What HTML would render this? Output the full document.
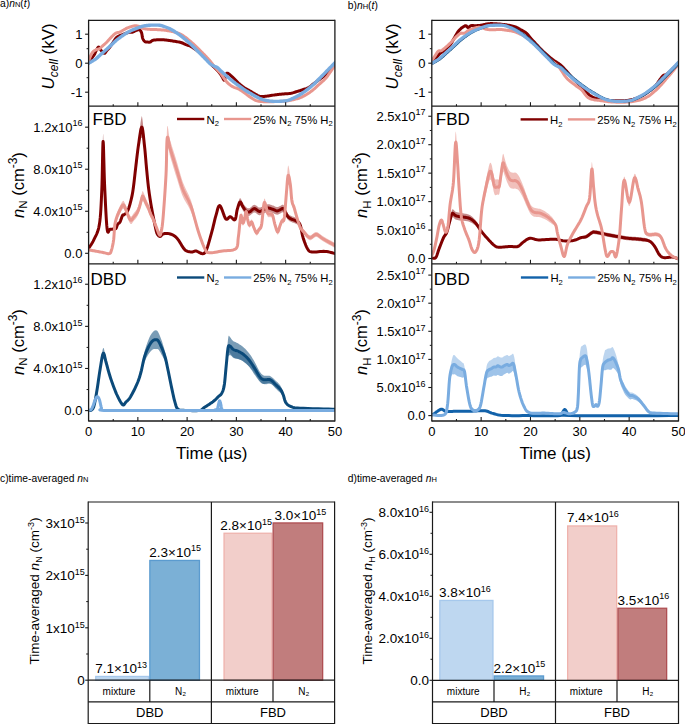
<!DOCTYPE html>
<html><head><meta charset="utf-8"><title>figure</title>
<style>html,body{margin:0;padding:0;background:#fff;width:685px;height:724px;overflow:hidden}
svg{display:block}text{fill:#000}</style></head>
<body>
<svg width="685" height="724" viewBox="0 0 685 724" font-family='"Liberation Sans", sans-serif'><defs>
<clipPath id="ca"><rect x="88.6" y="20.3" width="246.3" height="400.7"/></clipPath>
<clipPath id="cb"><rect x="431.8" y="20.3" width="246.7" height="400.7"/></clipPath>
</defs><path d="M88.3 63.2 L88.5 62.88 L88.77 62.45 L89.09 61.93 L89.45 61.36 L89.83 60.76 L90.23 60.15 L90.62 59.55 L91 59 L91.38 58.48 L91.79 57.96 L92.2 57.45 L92.62 56.94 L93.04 56.42 L93.45 55.89 L93.84 55.35 L94.2 54.8 L94.53 54.22 L94.84 53.6 L95.13 52.96 L95.41 52.32 L95.68 51.69 L95.95 51.08 L96.22 50.51 L96.5 50 L96.79 49.5 L97.07 48.99 L97.35 48.49 L97.64 48.03 L97.92 47.63 L98.21 47.32 L98.5 47.14 L98.8 47.1 L99.1 47.25 L99.4 47.57 L99.7 48.02 L100 48.56 L100.31 49.14 L100.63 49.72 L100.96 50.25 L101.3 50.7 L101.66 51.11 L102.05 51.55 L102.45 51.99 L102.86 52.4 L103.26 52.76 L103.66 53.05 L104.04 53.24 L104.4 53.3 L104.73 53.21 L105.04 52.98 L105.34 52.65 L105.62 52.24 L105.91 51.79 L106.2 51.33 L106.49 50.89 L106.8 50.5 L107.12 50.16 L107.44 49.83 L107.76 49.52 L108.08 49.19 L108.42 48.85 L108.76 48.48 L109.12 48.07 L109.5 47.6 L109.9 47.07 L110.31 46.48 L110.75 45.85 L111.19 45.19 L111.64 44.51 L112.09 43.83 L112.55 43.15 L113 42.5 L113.44 41.84 L113.88 41.16 L114.31 40.47 L114.75 39.79 L115.2 39.12 L115.67 38.49 L116.17 37.91 L116.7 37.4 L117.26 36.96 L117.83 36.59 L118.42 36.28 L119.04 35.99 L119.68 35.73 L120.35 35.47 L121.06 35.2 L121.8 34.9 L122.62 34.56 L123.53 34.2 L124.49 33.82 L125.47 33.44 L126.44 33.09 L127.36 32.77 L128.19 32.5 L128.9 32.3 L129.48 32.18 L129.96 32.15 L130.36 32.17 L130.71 32.22 L131.02 32.28 L131.33 32.33 L131.64 32.34 L132 32.3 L132.38 32.2 L132.75 32.06 L133.13 31.9 L133.5 31.72 L133.87 31.54 L134.25 31.35 L134.62 31.17 L135 31 L135.39 30.83 L135.79 30.65 L136.2 30.47 L136.61 30.29 L137.01 30.12 L137.39 29.98 L137.76 29.87 L138.1 29.8 L138.41 29.76 L138.71 29.75 L138.99 29.75 L139.25 29.79 L139.5 29.85 L139.74 29.96 L139.97 30.11 L140.2 30.3 L140.42 30.54 L140.63 30.82 L140.83 31.15 L141.02 31.51 L141.2 31.91 L141.37 32.34 L141.54 32.81 L141.7 33.3 L141.84 33.85 L141.96 34.47 L142.06 35.15 L142.16 35.84 L142.27 36.54 L142.38 37.22 L142.53 37.84 L142.7 38.4 L142.91 38.9 L143.15 39.38 L143.4 39.82 L143.68 40.24 L143.96 40.62 L144.24 40.95 L144.53 41.25 L144.8 41.5 L145.06 41.69 L145.32 41.82 L145.57 41.9 L145.83 41.94 L146.1 41.96 L146.38 41.97 L146.68 41.98 L147 42 L147.35 42.04 L147.73 42.08 L148.13 42.12 L148.54 42.14 L148.96 42.15 L149.38 42.14 L149.8 42.09 L150.2 42 L150.56 41.85 L150.89 41.65 L151.19 41.4 L151.51 41.13 L151.85 40.86 L152.25 40.6 L152.72 40.38 L153.3 40.2 L154.01 40.07 L154.84 39.96 L155.76 39.88 L156.73 39.82 L157.71 39.77 L158.67 39.74 L159.58 39.72 L160.4 39.7 L161.12 39.69 L161.77 39.7 L162.37 39.72 L162.94 39.76 L163.52 39.8 L164.12 39.86 L164.78 39.92 L165.5 40 L166.29 40.09 L167.13 40.19 L168 40.3 L168.91 40.42 L169.83 40.56 L170.78 40.7 L171.74 40.85 L172.7 41 L173.7 41.16 L174.75 41.33 L175.84 41.5 L176.93 41.68 L178.01 41.87 L179.04 42.07 L180.02 42.28 L180.9 42.5 L181.69 42.73 L182.39 42.99 L183.04 43.25 L183.64 43.52 L184.22 43.79 L184.8 44.07 L185.38 44.34 L186 44.6 L186.63 44.84 L187.25 45.06 L187.87 45.27 L188.49 45.48 L189.11 45.7 L189.75 45.95 L190.41 46.25 L191.1 46.6 L191.81 47.01 L192.55 47.45 L193.31 47.94 L194.08 48.46 L194.86 49 L195.64 49.56 L196.43 50.13 L197.2 50.7 L197.98 51.29 L198.78 51.91 L199.59 52.54 L200.39 53.19 L201.19 53.85 L201.96 54.51 L202.7 55.16 L203.4 55.8 L204.05 56.43 L204.65 57.05 L205.22 57.66 L205.78 58.28 L206.32 58.9 L206.86 59.52 L207.42 60.16 L208 60.8 L208.61 61.47 L209.25 62.16 L209.89 62.87 L210.54 63.58 L211.18 64.27 L211.81 64.95 L212.42 65.6 L213 66.2 L213.55 66.75 L214.09 67.27 L214.62 67.76 L215.12 68.22 L215.62 68.67 L216.09 69.11 L216.55 69.55 L217 70 L217.43 70.45 L217.83 70.88 L218.22 71.31 L218.59 71.74 L218.96 72.16 L219.31 72.6 L219.66 73.04 L220 73.5 L220.34 73.98 L220.67 74.5 L221 75.02 L221.32 75.55 L221.63 76.07 L221.93 76.58 L222.22 77.06 L222.5 77.5 L222.77 77.95 L223.03 78.44 L223.29 78.93 L223.53 79.39 L223.77 79.79 L223.99 80.08 L224.2 80.23 L224.4 80.2 L224.58 79.95 L224.73 79.49 L224.87 78.87 L225 78.16 L225.13 77.41 L225.27 76.68 L225.42 76.02 L225.6 75.5 L225.78 75.05 L225.95 74.61 L226.12 74.18 L226.31 73.81 L226.52 73.5 L226.78 73.28 L227.1 73.17 L227.5 73.2 L227.98 73.39 L228.53 73.71 L229.15 74.16 L229.81 74.69 L230.5 75.29 L231.2 75.93 L231.91 76.57 L232.6 77.2 L233.29 77.85 L234.01 78.55 L234.73 79.3 L235.47 80.07 L236.21 80.84 L236.95 81.6 L237.68 82.32 L238.4 83 L239.11 83.63 L239.8 84.24 L240.5 84.83 L241.19 85.39 L241.88 85.94 L242.58 86.48 L243.28 86.99 L244 87.5 L244.73 87.99 L245.48 88.45 L246.24 88.9 L247.01 89.33 L247.77 89.75 L248.53 90.17 L249.27 90.58 L250 91 L250.72 91.37 L251.43 91.74 L252.13 92.11 L252.83 92.47 L253.51 92.82 L254.19 93.16 L254.85 93.49 L255.5 93.79 L256.13 94.08 L256.73 94.37 L257.31 94.66 L257.89 94.92 L258.46 95.19 L259.05 95.44 L259.66 95.65 L260.3 95.8 L260.94 95.9 L261.57 95.95 L262.2 95.95 L262.84 95.93 L263.53 95.87 L264.27 95.79 L265.09 95.7 L266 95.6 L267.04 95.48 L268.2 95.32 L269.45 95.14 L270.75 94.94 L272.06 94.73 L273.35 94.54 L274.58 94.35 L275.7 94.2 L276.72 94.07 L277.68 93.96 L278.58 93.86 L279.46 93.76 L280.32 93.67 L281.18 93.59 L282.07 93.5 L283 93.4 L283.95 93.32 L284.9 93.25 L285.85 93.2 L286.82 93.14 L287.81 93.06 L288.83 92.95 L289.89 92.81 L291 92.6 L292.19 92.33 L293.47 92 L294.8 91.62 L296.15 91.21 L297.5 90.79 L298.81 90.37 L300.05 89.97 L301.2 89.6 L302.26 89.27 L303.27 89 L304.23 88.74 L305.15 88.48 L306.02 88.21 L306.85 87.93 L307.64 87.64 L308.4 87.32 L309.09 86.98 L309.7 86.64 L310.25 86.27 L310.77 85.87 L311.29 85.47 L311.81 85.04 L312.38 84.59 L313 84.12 L313.68 83.63 L314.39 83.1 L315.13 82.55 L315.89 81.99 L316.67 81.41 L317.45 80.83 L318.23 80.25 L319 79.67 L319.78 79.09 L320.59 78.51 L321.41 77.92 L322.23 77.33 L323.04 76.73 L323.83 76.13 L324.59 75.52 L325.3 74.92 L325.96 74.31 L326.57 73.7 L327.14 73.09 L327.7 72.48 L328.25 71.86 L328.81 71.23 L329.39 70.6 L330 69.95 L330.69 69.26 L331.45 68.5 L332.25 67.7 L333.04 66.91 L333.81 66.16 L334.49 65.49 L335.07 64.92 L335.5 64.5 L335.5 64.5 L335.07 64.93 L334.49 65.51 L333.81 66.2 L333.04 66.96 L332.25 67.76 L331.45 68.57 L330.69 69.34 L330 70.05 L329.39 70.7 L328.81 71.35 L328.25 71.98 L327.7 72.61 L327.14 73.23 L326.57 73.85 L325.96 74.47 L325.3 75.08 L324.59 75.7 L323.83 76.31 L323.04 76.93 L322.23 77.54 L321.41 78.14 L320.59 78.74 L319.78 79.34 L319 79.93 L318.23 80.52 L317.45 81.12 L316.67 81.71 L315.89 82.3 L315.13 82.87 L314.39 83.43 L313.68 83.97 L313 84.48 L312.38 84.96 L311.81 85.41 L311.29 85.85 L310.77 86.26 L310.25 86.66 L309.7 87.07 L309.09 87.47 L308.4 87.88 L307.64 88.27 L306.85 88.65 L306.02 89.01 L305.15 89.36 L304.23 89.71 L303.27 90.07 L302.26 90.45 L301.2 90.8 L300.05 91.17 L298.81 91.57 L297.5 91.99 L296.15 92.41 L294.8 92.82 L293.47 93.2 L292.19 93.53 L291 93.8 L289.89 94.01 L288.83 94.15 L287.81 94.26 L286.82 94.34 L285.85 94.4 L284.9 94.45 L283.95 94.52 L283 94.6 L282.07 94.7 L281.18 94.79 L280.32 94.87 L279.46 94.96 L278.58 95.06 L277.68 95.16 L276.72 95.27 L275.7 95.4 L274.58 95.55 L273.35 95.74 L272.06 95.93 L270.75 96.14 L269.45 96.34 L268.2 96.52 L267.04 96.68 L266 96.8 L265.09 96.9 L264.27 96.99 L263.53 97.07 L262.84 97.12 L262.2 97.15 L261.57 97.15 L260.94 97.1 L260.3 97 L259.66 96.85 L259.05 96.64 L258.46 96.39 L257.89 96.1 L257.31 95.75 L256.73 95.38 L256.13 95 L255.5 94.61 L254.85 94.21 L254.19 93.79 L253.51 93.35 L252.83 92.89 L252.13 92.43 L251.43 91.95 L250.72 91.47 L250 91 L249.27 90.58 L248.53 90.17 L247.77 89.75 L247.01 89.33 L246.24 88.9 L245.48 88.45 L244.73 87.99 L244 87.5 L243.28 86.99 L242.58 86.48 L241.88 85.94 L241.19 85.39 L240.5 84.83 L239.8 84.24 L239.11 83.63 L238.4 83 L237.68 82.32 L236.95 81.6 L236.21 80.84 L235.47 80.07 L234.73 79.3 L234.01 78.55 L233.29 77.85 L232.6 77.2 L231.91 76.57 L231.2 75.93 L230.5 75.29 L229.81 74.69 L229.15 74.16 L228.53 73.71 L227.98 73.39 L227.5 73.2 L227.1 73.17 L226.78 73.28 L226.52 73.5 L226.31 73.81 L226.12 74.18 L225.95 74.61 L225.78 75.05 L225.6 75.5 L225.42 76.02 L225.27 76.68 L225.13 77.41 L225 78.16 L224.87 78.87 L224.73 79.49 L224.58 79.95 L224.4 80.2 L224.2 80.23 L223.99 80.08 L223.77 79.79 L223.53 79.39 L223.29 78.93 L223.03 78.44 L222.77 77.95 L222.5 77.5 L222.22 77.06 L221.93 76.58 L221.63 76.07 L221.32 75.55 L221 75.02 L220.67 74.5 L220.34 73.98 L220 73.5 L219.66 73.04 L219.31 72.6 L218.96 72.16 L218.59 71.74 L218.22 71.31 L217.83 70.88 L217.43 70.45 L217 70 L216.55 69.55 L216.09 69.11 L215.62 68.67 L215.12 68.22 L214.62 67.76 L214.09 67.27 L213.55 66.75 L213 66.2 L212.42 65.6 L211.81 64.95 L211.18 64.27 L210.54 63.58 L209.89 62.87 L209.25 62.16 L208.61 61.47 L208 60.8 L207.42 60.16 L206.86 59.52 L206.32 58.9 L205.78 58.28 L205.22 57.66 L204.65 57.05 L204.05 56.43 L203.4 55.8 L202.7 55.16 L201.96 54.51 L201.19 53.85 L200.39 53.19 L199.59 52.54 L198.78 51.91 L197.98 51.29 L197.2 50.7 L196.43 50.13 L195.64 49.56 L194.86 49 L194.08 48.46 L193.31 47.94 L192.55 47.45 L191.81 47.01 L191.1 46.6 L190.41 46.25 L189.75 45.95 L189.11 45.7 L188.49 45.48 L187.87 45.27 L187.25 45.06 L186.63 44.84 L186 44.6 L185.38 44.34 L184.8 44.07 L184.22 43.79 L183.64 43.52 L183.04 43.25 L182.39 42.99 L181.69 42.73 L180.9 42.5 L180.02 42.28 L179.04 42.07 L178.01 41.87 L176.93 41.68 L175.84 41.5 L174.75 41.33 L173.7 41.16 L172.7 41 L171.74 40.85 L170.78 40.7 L169.83 40.56 L168.91 40.42 L168 40.3 L167.13 40.19 L166.29 40.09 L165.5 40 L164.78 39.92 L164.12 39.86 L163.52 39.8 L162.94 39.76 L162.37 39.72 L161.77 39.7 L161.12 39.69 L160.4 39.7 L159.58 39.72 L158.67 39.74 L157.71 39.77 L156.73 39.82 L155.76 39.88 L154.84 39.96 L154.01 40.07 L153.3 40.2 L152.72 40.38 L152.25 40.6 L151.85 40.86 L151.51 41.13 L151.19 41.4 L150.89 41.65 L150.56 41.85 L150.2 42 L149.8 42.09 L149.38 42.14 L148.96 42.15 L148.54 42.14 L148.13 42.12 L147.73 42.08 L147.35 42.04 L147 42 L146.68 41.98 L146.38 41.97 L146.1 41.96 L145.83 41.94 L145.57 41.9 L145.32 41.82 L145.06 41.69 L144.8 41.5 L144.53 41.25 L144.24 40.95 L143.96 40.62 L143.68 40.24 L143.4 39.82 L143.15 39.38 L142.91 38.9 L142.7 38.4 L142.53 37.84 L142.38 37.22 L142.27 36.54 L142.16 35.84 L142.06 35.15 L141.96 34.47 L141.84 33.85 L141.7 33.3 L141.54 32.81 L141.37 32.34 L141.2 31.91 L141.02 31.51 L140.83 31.15 L140.63 30.82 L140.42 30.54 L140.2 30.3 L139.97 30.11 L139.74 29.96 L139.5 29.85 L139.25 29.79 L138.99 29.75 L138.71 29.75 L138.41 29.76 L138.1 29.8 L137.76 29.87 L137.39 29.98 L137.01 30.12 L136.61 30.29 L136.2 30.47 L135.79 30.65 L135.39 30.83 L135 31 L134.62 31.17 L134.25 31.35 L133.87 31.54 L133.5 31.72 L133.13 31.9 L132.75 32.06 L132.38 32.2 L132 32.3 L131.64 32.34 L131.33 32.33 L131.02 32.28 L130.71 32.22 L130.36 32.17 L129.96 32.15 L129.48 32.18 L128.9 32.3 L128.19 32.5 L127.36 32.77 L126.44 33.09 L125.47 33.44 L124.49 33.82 L123.53 34.2 L122.62 34.56 L121.8 34.9 L121.06 35.2 L120.35 35.47 L119.68 35.73 L119.04 35.99 L118.42 36.28 L117.83 36.59 L117.26 36.96 L116.7 37.4 L116.17 37.91 L115.67 38.49 L115.2 39.12 L114.75 39.79 L114.31 40.47 L113.88 41.16 L113.44 41.84 L113 42.5 L112.55 43.15 L112.09 43.83 L111.64 44.51 L111.19 45.19 L110.75 45.85 L110.31 46.48 L109.9 47.07 L109.5 47.6 L109.12 48.07 L108.76 48.48 L108.42 48.85 L108.08 49.19 L107.76 49.52 L107.44 49.83 L107.12 50.16 L106.8 50.5 L106.49 50.89 L106.2 51.33 L105.91 51.79 L105.62 52.24 L105.34 52.65 L105.04 52.98 L104.73 53.21 L104.4 53.3 L104.04 53.24 L103.66 53.05 L103.26 52.76 L102.86 52.4 L102.45 51.99 L102.05 51.55 L101.66 51.11 L101.3 50.7 L100.96 50.25 L100.63 49.72 L100.31 49.14 L100 48.56 L99.7 48.02 L99.4 47.57 L99.1 47.25 L98.8 47.1 L98.5 47.14 L98.21 47.32 L97.92 47.63 L97.64 48.03 L97.35 48.49 L97.07 48.99 L96.79 49.5 L96.5 50 L96.22 50.51 L95.95 51.08 L95.68 51.69 L95.41 52.32 L95.13 52.96 L94.84 53.6 L94.53 54.22 L94.2 54.8 L93.84 55.35 L93.45 55.89 L93.04 56.42 L92.62 56.94 L92.2 57.45 L91.79 57.96 L91.38 58.48 L91 59 L90.62 59.55 L90.23 60.15 L89.83 60.76 L89.45 61.36 L89.09 61.93 L88.77 62.45 L88.5 62.88 L88.3 63.2Z" fill="#800000" fill-opacity="1" stroke="none" clip-path="url(#ca)"/>
<path d="M88.3 63.2 L88.5 62.88 L88.77 62.45 L89.09 61.93 L89.45 61.36 L89.83 60.76 L90.23 60.15 L90.62 59.55 L91 59 L91.38 58.48 L91.79 57.96 L92.2 57.45 L92.62 56.94 L93.04 56.42 L93.45 55.89 L93.84 55.35 L94.2 54.8 L94.53 54.22 L94.84 53.6 L95.13 52.96 L95.41 52.32 L95.68 51.69 L95.95 51.08 L96.22 50.51 L96.5 50 L96.79 49.5 L97.07 48.99 L97.35 48.49 L97.64 48.03 L97.92 47.63 L98.21 47.32 L98.5 47.14 L98.8 47.1 L99.1 47.25 L99.4 47.57 L99.7 48.02 L100 48.56 L100.31 49.14 L100.63 49.72 L100.96 50.25 L101.3 50.7 L101.66 51.11 L102.05 51.55 L102.45 51.99 L102.86 52.4 L103.26 52.76 L103.66 53.05 L104.04 53.24 L104.4 53.3 L104.73 53.21 L105.04 52.98 L105.34 52.65 L105.62 52.24 L105.91 51.79 L106.2 51.33 L106.49 50.89 L106.8 50.5 L107.12 50.16 L107.44 49.83 L107.76 49.52 L108.08 49.19 L108.42 48.85 L108.76 48.48 L109.12 48.07 L109.5 47.6 L109.9 47.07 L110.31 46.48 L110.75 45.85 L111.19 45.19 L111.64 44.51 L112.09 43.83 L112.55 43.15 L113 42.5 L113.44 41.84 L113.88 41.16 L114.31 40.47 L114.75 39.79 L115.2 39.12 L115.67 38.49 L116.17 37.91 L116.7 37.4 L117.26 36.96 L117.83 36.59 L118.42 36.28 L119.04 35.99 L119.68 35.73 L120.35 35.47 L121.06 35.2 L121.8 34.9 L122.62 34.56 L123.53 34.2 L124.49 33.82 L125.47 33.44 L126.44 33.09 L127.36 32.77 L128.19 32.5 L128.9 32.3 L129.48 32.18 L129.96 32.15 L130.36 32.17 L130.71 32.22 L131.02 32.28 L131.33 32.33 L131.64 32.34 L132 32.3 L132.38 32.2 L132.75 32.06 L133.13 31.9 L133.5 31.72 L133.87 31.54 L134.25 31.35 L134.62 31.17 L135 31 L135.39 30.83 L135.79 30.65 L136.2 30.47 L136.61 30.29 L137.01 30.12 L137.39 29.98 L137.76 29.87 L138.1 29.8 L138.41 29.76 L138.71 29.75 L138.99 29.75 L139.25 29.79 L139.5 29.85 L139.74 29.96 L139.97 30.11 L140.2 30.3 L140.42 30.54 L140.63 30.82 L140.83 31.15 L141.02 31.51 L141.2 31.91 L141.37 32.34 L141.54 32.81 L141.7 33.3 L141.84 33.85 L141.96 34.47 L142.06 35.15 L142.16 35.84 L142.27 36.54 L142.38 37.22 L142.53 37.84 L142.7 38.4 L142.91 38.9 L143.15 39.38 L143.4 39.82 L143.68 40.24 L143.96 40.62 L144.24 40.95 L144.53 41.25 L144.8 41.5 L145.06 41.69 L145.32 41.82 L145.57 41.9 L145.83 41.94 L146.1 41.96 L146.38 41.97 L146.68 41.98 L147 42 L147.35 42.04 L147.73 42.08 L148.13 42.12 L148.54 42.14 L148.96 42.15 L149.38 42.14 L149.8 42.09 L150.2 42 L150.56 41.85 L150.89 41.65 L151.19 41.4 L151.51 41.13 L151.85 40.86 L152.25 40.6 L152.72 40.38 L153.3 40.2 L154.01 40.07 L154.84 39.96 L155.76 39.88 L156.73 39.82 L157.71 39.77 L158.67 39.74 L159.58 39.72 L160.4 39.7 L161.12 39.69 L161.77 39.7 L162.37 39.72 L162.94 39.76 L163.52 39.8 L164.12 39.86 L164.78 39.92 L165.5 40 L166.29 40.09 L167.13 40.19 L168 40.3 L168.91 40.42 L169.83 40.56 L170.78 40.7 L171.74 40.85 L172.7 41 L173.7 41.16 L174.75 41.33 L175.84 41.5 L176.93 41.68 L178.01 41.87 L179.04 42.07 L180.02 42.28 L180.9 42.5 L181.69 42.73 L182.39 42.99 L183.04 43.25 L183.64 43.52 L184.22 43.79 L184.8 44.07 L185.38 44.34 L186 44.6 L186.63 44.84 L187.25 45.06 L187.87 45.27 L188.49 45.48 L189.11 45.7 L189.75 45.95 L190.41 46.25 L191.1 46.6 L191.81 47.01 L192.55 47.45 L193.31 47.94 L194.08 48.46 L194.86 49 L195.64 49.56 L196.43 50.13 L197.2 50.7 L197.98 51.29 L198.78 51.91 L199.59 52.54 L200.39 53.19 L201.19 53.85 L201.96 54.51 L202.7 55.16 L203.4 55.8 L204.05 56.43 L204.65 57.05 L205.22 57.66 L205.78 58.28 L206.32 58.9 L206.86 59.52 L207.42 60.16 L208 60.8 L208.61 61.47 L209.25 62.16 L209.89 62.87 L210.54 63.58 L211.18 64.27 L211.81 64.95 L212.42 65.6 L213 66.2 L213.55 66.75 L214.09 67.27 L214.62 67.76 L215.12 68.22 L215.62 68.67 L216.09 69.11 L216.55 69.55 L217 70 L217.43 70.45 L217.83 70.88 L218.22 71.31 L218.59 71.74 L218.96 72.16 L219.31 72.6 L219.66 73.04 L220 73.5 L220.34 73.98 L220.67 74.5 L221 75.02 L221.32 75.55 L221.63 76.07 L221.93 76.58 L222.22 77.06 L222.5 77.5 L222.77 77.95 L223.03 78.44 L223.29 78.93 L223.53 79.39 L223.77 79.79 L223.99 80.08 L224.2 80.23 L224.4 80.2 L224.58 79.95 L224.73 79.49 L224.87 78.87 L225 78.16 L225.13 77.41 L225.27 76.68 L225.42 76.02 L225.6 75.5 L225.78 75.05 L225.95 74.61 L226.12 74.18 L226.31 73.81 L226.52 73.5 L226.78 73.28 L227.1 73.17 L227.5 73.2 L227.98 73.39 L228.53 73.71 L229.15 74.16 L229.81 74.69 L230.5 75.29 L231.2 75.93 L231.91 76.57 L232.6 77.2 L233.29 77.85 L234.01 78.55 L234.73 79.3 L235.47 80.07 L236.21 80.84 L236.95 81.6 L237.68 82.32 L238.4 83 L239.11 83.63 L239.8 84.24 L240.5 84.83 L241.19 85.39 L241.88 85.94 L242.58 86.48 L243.28 86.99 L244 87.5 L244.73 87.99 L245.48 88.45 L246.24 88.9 L247.01 89.33 L247.77 89.75 L248.53 90.17 L249.27 90.58 L250 91 L250.72 91.42 L251.43 91.84 L252.13 92.27 L252.83 92.68 L253.51 93.09 L254.19 93.48 L254.85 93.85 L255.5 94.2 L256.13 94.54 L256.73 94.88 L257.31 95.2 L257.89 95.51 L258.46 95.79 L259.05 96.04 L259.66 96.25 L260.3 96.4 L260.94 96.5 L261.57 96.55 L262.2 96.55 L262.84 96.53 L263.53 96.47 L264.27 96.39 L265.09 96.3 L266 96.2 L267.04 96.08 L268.2 95.92 L269.45 95.74 L270.75 95.54 L272.06 95.33 L273.35 95.14 L274.58 94.95 L275.7 94.8 L276.72 94.67 L277.68 94.56 L278.58 94.46 L279.46 94.36 L280.32 94.27 L281.18 94.19 L282.07 94.1 L283 94 L283.95 93.92 L284.9 93.85 L285.85 93.8 L286.82 93.74 L287.81 93.66 L288.83 93.55 L289.89 93.41 L291 93.2 L292.19 92.93 L293.47 92.6 L294.8 92.22 L296.15 91.81 L297.5 91.39 L298.81 90.97 L300.05 90.57 L301.2 90.2 L302.26 89.86 L303.27 89.54 L304.23 89.23 L305.15 88.92 L306.02 88.61 L306.85 88.29 L307.64 87.96 L308.4 87.6 L309.09 87.23 L309.7 86.85 L310.25 86.47 L310.77 86.07 L311.29 85.66 L311.81 85.23 L312.38 84.77 L313 84.3 L313.68 83.8 L314.39 83.27 L315.13 82.71 L315.89 82.14 L316.67 81.56 L317.45 80.97 L318.23 80.39 L319 79.8 L319.78 79.22 L320.59 78.63 L321.41 78.03 L322.23 77.43 L323.04 76.83 L323.83 76.22 L324.59 75.61 L325.3 75 L325.96 74.39 L326.57 73.78 L327.14 73.16 L327.7 72.54 L328.25 71.92 L328.81 71.29 L329.39 70.65 L330 70 L330.69 69.3 L331.45 68.53 L332.25 67.73 L333.04 66.94 L333.81 66.18 L334.49 65.5 L335.07 64.93 L335.5 64.5" fill="none" stroke="#800000" stroke-width="3" stroke-linejoin="round" stroke-linecap="round" stroke-opacity="1" clip-path="url(#ca)"/>
<path d="M88.3 61.5 L88.59 60.8 L88.98 59.83 L89.43 58.67 L89.94 57.4 L90.49 56.11 L91.04 54.87 L91.58 53.78 L92.1 52.9 L92.6 52.23 L93.13 51.67 L93.66 51.21 L94.19 50.83 L94.72 50.5 L95.24 50.22 L95.73 49.96 L96.2 49.7 L96.63 49.48 L97.04 49.34 L97.43 49.24 L97.81 49.17 L98.17 49.1 L98.54 49.02 L98.91 48.89 L99.3 48.7 L99.69 48.45 L100.08 48.16 L100.46 47.85 L100.85 47.51 L101.24 47.15 L101.65 46.77 L102.07 46.39 L102.5 46 L102.95 45.61 L103.41 45.22 L103.88 44.81 L104.36 44.39 L104.86 43.96 L105.36 43.5 L105.87 43.01 L106.4 42.5 L106.94 41.94 L107.5 41.34 L108.07 40.7 L108.66 40.04 L109.24 39.38 L109.83 38.73 L110.42 38.1 L111 37.5 L111.58 36.92 L112.16 36.32 L112.75 35.73 L113.33 35.16 L113.91 34.62 L114.49 34.12 L115.05 33.68 L115.6 33.3 L116.14 33.01 L116.68 32.8 L117.21 32.66 L117.73 32.55 L118.24 32.46 L118.74 32.37 L119.23 32.26 L119.7 32.1 L120.15 31.91 L120.57 31.7 L120.97 31.48 L121.36 31.26 L121.75 31.02 L122.15 30.79 L122.56 30.54 L123 30.3 L123.46 30.05 L123.93 29.78 L124.41 29.51 L124.9 29.23 L125.4 28.96 L125.9 28.69 L126.4 28.44 L126.9 28.2 L127.4 27.98 L127.91 27.77 L128.43 27.57 L128.94 27.37 L129.46 27.19 L129.98 27.02 L130.49 26.85 L131 26.7 L131.5 26.55 L132 26.4 L132.5 26.25 L133 26.12 L133.5 26 L134 25.91 L134.5 25.84 L135 25.8 L135.51 25.8 L136.04 25.82 L136.57 25.86 L137.11 25.93 L137.63 26.02 L138.14 26.13 L138.63 26.26 L139.1 26.4 L139.52 26.57 L139.9 26.78 L140.25 27.02 L140.59 27.27 L140.93 27.53 L141.31 27.78 L141.72 28.01 L142.2 28.2 L142.76 28.37 L143.39 28.53 L144.06 28.67 L144.76 28.8 L145.46 28.92 L146.13 29.02 L146.75 29.12 L147.3 29.2 L147.72 29.26 L148.01 29.3 L148.23 29.32 L148.43 29.34 L148.67 29.35 L149.01 29.35 L149.5 29.37 L150.2 29.4 L151.14 29.44 L152.28 29.47 L153.58 29.51 L154.97 29.55 L156.4 29.6 L157.82 29.65 L159.17 29.72 L160.4 29.8 L161.53 29.89 L162.63 30 L163.7 30.11 L164.74 30.24 L165.74 30.37 L166.72 30.51 L167.67 30.65 L168.6 30.8 L169.49 30.95 L170.34 31.1 L171.15 31.26 L171.94 31.43 L172.72 31.6 L173.48 31.78 L174.24 31.98 L175 32.2 L175.77 32.43 L176.53 32.67 L177.28 32.91 L178.03 33.17 L178.77 33.45 L179.49 33.75 L180.2 34.06 L180.9 34.4 L181.58 34.76 L182.23 35.15 L182.87 35.55 L183.5 35.98 L184.12 36.41 L184.74 36.87 L185.37 37.33 L186 37.8 L186.64 38.28 L187.28 38.78 L187.91 39.3 L188.55 39.82 L189.19 40.36 L189.82 40.9 L190.46 41.45 L191.1 42 L191.74 42.55 L192.38 43.11 L193.01 43.67 L193.65 44.24 L194.29 44.82 L194.92 45.41 L195.56 46 L196.2 46.6 L196.84 47.22 L197.49 47.85 L198.14 48.5 L198.79 49.15 L199.43 49.8 L200.07 50.45 L200.69 51.08 L201.3 51.7 L201.89 52.3 L202.47 52.89 L203.04 53.46 L203.61 54.03 L204.16 54.6 L204.71 55.16 L205.26 55.73 L205.8 56.3 L206.34 56.87 L206.88 57.44 L207.41 58 L207.93 58.57 L208.45 59.14 L208.97 59.71 L209.49 60.3 L210 60.9 L210.51 61.52 L211.01 62.15 L211.51 62.8 L212.01 63.46 L212.51 64.11 L213 64.76 L213.5 65.39 L214 66 L214.51 66.6 L215.03 67.2 L215.55 67.79 L216.07 68.37 L216.58 68.93 L217.08 69.48 L217.55 70 L218 70.5 L218.4 70.93 L218.73 71.27 L219.04 71.58 L219.34 71.87 L219.65 72.19 L220 72.58 L220.41 73.07 L220.9 73.7 L221.49 74.51 L222.14 75.48 L222.86 76.56 L223.61 77.71 L224.39 78.86 L225.18 79.98 L225.95 81.01 L226.7 81.9 L227.43 82.67 L228.17 83.38 L228.91 84.02 L229.65 84.62 L230.39 85.17 L231.13 85.68 L231.87 86.15 L232.6 86.6 L233.33 86.99 L234.06 87.31 L234.79 87.58 L235.52 87.82 L236.24 88.05 L236.97 88.29 L237.69 88.57 L238.4 88.9 L239.11 89.28 L239.8 89.69 L240.5 90.12 L241.19 90.56 L241.88 91.03 L242.58 91.51 L243.28 92 L244 92.5 L244.73 93.03 L245.46 93.58 L246.21 94.16 L246.96 94.75 L247.71 95.34 L248.47 95.92 L249.23 96.47 L250 97 L250.77 97.51 L251.55 98.02 L252.34 98.53 L253.13 99.02 L253.92 99.48 L254.72 99.9 L255.51 100.28 L256.3 100.6 L257.08 100.86 L257.85 101.05 L258.61 101.2 L259.38 101.32 L260.16 101.41 L260.95 101.47 L261.76 101.54 L262.6 101.6 L263.45 101.66 L264.31 101.7 L265.18 101.72 L266.07 101.73 L266.99 101.73 L267.94 101.72 L268.94 101.71 L270 101.7 L271.14 101.68 L272.37 101.66 L273.66 101.63 L274.98 101.59 L276.3 101.55 L277.6 101.51 L278.84 101.45 L280 101.4 L281.08 101.34 L282.12 101.29 L283.12 101.23 L284.08 101.16 L285.02 101.09 L285.93 101.01 L286.82 100.91 L287.7 100.8 L288.56 100.67 L289.38 100.54 L290.17 100.39 L290.94 100.22 L291.71 100.05 L292.46 99.88 L293.23 99.69 L294 99.5 L294.78 99.31 L295.55 99.12 L296.33 98.92 L297.1 98.72 L297.87 98.5 L298.65 98.26 L299.42 98 L300.2 97.7 L300.98 97.38 L301.77 97.03 L302.56 96.66 L303.34 96.26 L304.13 95.85 L304.92 95.42 L305.71 94.97 L306.5 94.5 L307.29 94.02 L308.08 93.51 L308.87 92.99 L309.66 92.45 L310.44 91.89 L311.23 91.31 L312.02 90.72 L312.8 90.1 L313.58 89.46 L314.35 88.79 L315.13 88.09 L315.9 87.38 L316.67 86.66 L317.45 85.94 L318.22 85.21 L319 84.5 L319.79 83.8 L320.61 83.1 L321.43 82.4 L322.24 81.69 L323.05 80.99 L323.84 80.27 L324.59 79.54 L325.3 78.8 L325.96 78.05 L326.57 77.31 L327.14 76.56 L327.7 75.79 L328.25 75.01 L328.81 74.21 L329.39 73.37 L330 72.5 L330.69 71.53 L331.45 70.43 L332.25 69.27 L333.04 68.11 L333.81 66.99 L334.49 65.98 L335.07 65.13 L335.5 64.5" fill="none" stroke="#E8968E" stroke-width="3" stroke-linejoin="round" stroke-linecap="round" stroke-opacity="1" clip-path="url(#ca)"/>
<path d="M88.3 63.4 L88.58 63.24 L88.95 63.04 L89.39 62.79 L89.89 62.52 L90.41 62.22 L90.95 61.92 L91.49 61.61 L92 61.3 L92.5 61 L93 60.7 L93.51 60.4 L94.03 60.09 L94.56 59.76 L95.1 59.4 L95.64 59.02 L96.2 58.6 L96.77 58.14 L97.34 57.65 L97.93 57.13 L98.53 56.58 L99.13 56.02 L99.74 55.45 L100.37 54.87 L101 54.3 L101.65 53.72 L102.31 53.13 L102.99 52.53 L103.68 51.92 L104.37 51.31 L105.06 50.7 L105.74 50.1 L106.4 49.5 L107.05 48.91 L107.69 48.32 L108.33 47.73 L108.96 47.15 L109.59 46.57 L110.23 45.98 L110.86 45.39 L111.5 44.8 L112.15 44.2 L112.8 43.58 L113.45 42.96 L114.1 42.34 L114.75 41.73 L115.4 41.13 L116.05 40.55 L116.7 40 L117.34 39.47 L117.98 38.97 L118.62 38.48 L119.26 38.01 L119.89 37.55 L120.53 37.1 L121.16 36.65 L121.8 36.2 L122.44 35.75 L123.08 35.3 L123.71 34.86 L124.35 34.43 L124.99 34 L125.62 33.58 L126.26 33.18 L126.9 32.8 L127.54 32.43 L128.18 32.08 L128.81 31.74 L129.45 31.41 L130.09 31.1 L130.72 30.79 L131.36 30.49 L132 30.2 L132.65 29.92 L133.31 29.64 L133.99 29.38 L134.66 29.12 L135.31 28.87 L135.94 28.64 L136.54 28.41 L137.1 28.2 L137.6 28 L138.06 27.82 L138.47 27.65 L138.87 27.49 L139.26 27.34 L139.65 27.19 L140.06 27.05 L140.5 26.9 L140.96 26.75 L141.42 26.6 L141.88 26.45 L142.36 26.31 L142.85 26.17 L143.37 26.04 L143.91 25.91 L144.5 25.8 L145.14 25.7 L145.83 25.6 L146.55 25.52 L147.3 25.44 L148.05 25.37 L148.8 25.3 L149.52 25.25 L150.2 25.2 L150.84 25.16 L151.45 25.13 L152.04 25.11 L152.62 25.09 L153.2 25.09 L153.78 25.09 L154.38 25.09 L155 25.1 L155.65 25.11 L156.31 25.12 L156.99 25.13 L157.68 25.14 L158.37 25.17 L159.06 25.22 L159.74 25.3 L160.4 25.4 L161.05 25.53 L161.69 25.69 L162.33 25.88 L162.96 26.08 L163.59 26.3 L164.22 26.53 L164.86 26.76 L165.5 27 L166.15 27.24 L166.8 27.49 L167.45 27.74 L168.1 28.01 L168.75 28.28 L169.4 28.57 L170.05 28.88 L170.7 29.2 L171.34 29.54 L171.98 29.9 L172.62 30.27 L173.26 30.66 L173.89 31.06 L174.53 31.47 L175.16 31.88 L175.8 32.3 L176.44 32.72 L177.08 33.15 L177.71 33.59 L178.35 34.03 L178.99 34.48 L179.63 34.95 L180.26 35.42 L180.9 35.9 L181.54 36.39 L182.18 36.9 L182.81 37.42 L183.45 37.94 L184.09 38.48 L184.72 39.01 L185.36 39.56 L186 40.1 L186.64 40.64 L187.28 41.19 L187.91 41.74 L188.55 42.3 L189.19 42.86 L189.82 43.43 L190.46 44.01 L191.1 44.6 L191.74 45.2 L192.38 45.81 L193.01 46.43 L193.65 47.06 L194.29 47.69 L194.92 48.32 L195.56 48.96 L196.2 49.6 L196.84 50.25 L197.49 50.9 L198.14 51.57 L198.79 52.23 L199.43 52.89 L200.07 53.54 L200.69 54.18 L201.3 54.8 L201.89 55.4 L202.47 55.98 L203.04 56.55 L203.61 57.11 L204.16 57.66 L204.71 58.21 L205.26 58.75 L205.8 59.3 L206.34 59.86 L206.88 60.43 L207.41 61.01 L207.94 61.57 L208.46 62.13 L208.98 62.66 L209.49 63.15 L210 63.6 L210.5 64.01 L211.01 64.38 L211.5 64.71 L211.99 65.02 L212.48 65.31 L212.96 65.59 L213.43 65.85 L213.9 66.1 L214.35 66.32 L214.79 66.49 L215.22 66.63 L215.64 66.76 L216.06 66.91 L216.49 67.08 L216.94 67.3 L217.4 67.6 L217.88 67.97 L218.36 68.39 L218.85 68.86 L219.34 69.36 L219.86 69.88 L220.38 70.42 L220.93 70.96 L221.5 71.5 L222.09 72.04 L222.71 72.59 L223.34 73.16 L223.99 73.74 L224.66 74.32 L225.33 74.91 L226.01 75.51 L226.7 76.1 L227.4 76.7 L228.11 77.32 L228.83 77.94 L229.56 78.56 L230.29 79.19 L231.03 79.8 L231.77 80.41 L232.5 81 L233.23 81.58 L233.97 82.14 L234.72 82.7 L235.46 83.26 L236.21 83.8 L236.94 84.34 L237.68 84.87 L238.4 85.4 L239.11 85.92 L239.81 86.44 L240.5 86.94 L241.19 87.44 L241.88 87.94 L242.58 88.43 L243.28 88.92 L244 89.4 L244.73 89.88 L245.47 90.35 L246.22 90.82 L246.97 91.28 L247.73 91.74 L248.49 92.2 L249.25 92.65 L250 93.1 L250.75 93.55 L251.49 94 L252.22 94.45 L252.96 94.9 L253.71 95.34 L254.46 95.77 L255.22 96.19 L256 96.6 L256.8 97 L257.62 97.4 L258.45 97.8 L259.29 98.18 L260.13 98.55 L260.96 98.89 L261.79 99.21 L262.6 99.5 L263.39 99.75 L264.18 99.98 L264.95 100.17 L265.72 100.35 L266.49 100.51 L267.25 100.65 L268.02 100.78 L268.8 100.9 L269.58 101.01 L270.37 101.1 L271.16 101.18 L271.94 101.25 L272.73 101.3 L273.52 101.35 L274.31 101.38 L275.1 101.4 L275.89 101.41 L276.68 101.41 L277.46 101.4 L278.25 101.38 L279.04 101.35 L279.82 101.31 L280.61 101.26 L281.4 101.2 L282.19 101.14 L282.97 101.08 L283.76 101.02 L284.55 100.95 L285.34 100.86 L286.12 100.74 L286.91 100.59 L287.7 100.4 L288.49 100.17 L289.28 99.89 L290.07 99.59 L290.86 99.26 L291.64 98.91 L292.43 98.54 L293.22 98.17 L294 97.8 L294.78 97.43 L295.55 97.05 L296.33 96.66 L297.1 96.26 L297.87 95.84 L298.65 95.41 L299.42 94.97 L300.2 94.5 L300.98 94.02 L301.77 93.51 L302.56 93 L303.34 92.46 L304.13 91.92 L304.92 91.35 L305.71 90.78 L306.5 90.2 L307.29 89.61 L308.08 89 L308.87 88.39 L309.66 87.76 L310.44 87.12 L311.23 86.46 L312.02 85.79 L312.8 85.1 L313.58 84.39 L314.35 83.65 L315.13 82.9 L315.9 82.13 L316.67 81.35 L317.45 80.57 L318.22 79.78 L319 79 L319.79 78.2 L320.61 77.38 L321.43 76.55 L322.24 75.72 L323.05 74.9 L323.84 74.09 L324.59 73.33 L325.3 72.6 L325.96 71.93 L326.57 71.31 L327.14 70.72 L327.7 70.15 L328.25 69.59 L328.81 69.02 L329.39 68.43 L330 67.8 L330.69 67.1 L331.45 66.33 L332.25 65.51 L333.04 64.7 L333.81 63.92 L334.49 63.22 L335.07 62.64 L335.5 62.2" fill="none" stroke="#79ACE0" stroke-width="3.4" stroke-linejoin="round" stroke-linecap="round" stroke-opacity="1" clip-path="url(#ca)"/>
<path d="M88.3 248.5 L88.72 247.87 L89.29 247.08 L89.96 246.14 L90.7 245.07 L91.49 243.88 L92.29 242.58 L93.07 241.18 L93.8 239.7 L94.52 238.21 L95.27 236.74 L96.03 235.21 L96.79 233.55 L97.53 231.69 L98.22 229.56 L98.85 227.09 L99.4 224.2 L99.86 220.9 L100.25 217.26 L100.58 213.17 L100.87 208.46 L101.12 203.54 L101.35 198.43 L101.57 193.13 L101.8 187.66 L102.01 181.29 L102.2 173.71 L102.36 164.92 L102.51 156.18 L102.65 148.09 L102.79 141.23 L102.94 136.17 L103.1 133.5 L103.27 135.31 L103.44 139.43 L103.6 145.35 L103.77 152.55 L103.96 160.51 L104.15 168.72 L104.36 176.16 L104.6 182.6 L104.86 188.75 L105.15 195.36 L105.45 202.18 L105.76 208.93 L106.09 215.23 L106.42 220.58 L106.76 225.09 L107.1 228.49 L107.44 230.63 L107.78 231.68 L108.12 231.88 L108.47 231.49 L108.84 230.75 L109.21 229.92 L109.6 229.25 L110 228.97 L110.43 228.97 L110.9 228.95 L111.39 228.92 L111.89 228.88 L112.38 228.82 L112.85 228.77 L113.3 228.71 L113.7 228.65 L114.06 228.61 L114.39 228.59 L114.7 228.58 L114.98 228.57 L115.25 228.52 L115.51 228.43 L115.76 228.27 L116 228.03 L116.23 227.68 L116.43 227.23 L116.62 226.7 L116.79 226.14 L116.97 225.55 L117.16 224.99 L117.37 224.47 L117.6 224.02 L117.86 223.67 L118.14 223.4 L118.44 223.17 L118.74 222.97 L119.06 222.74 L119.37 222.46 L119.69 222.09 L120 221.6 L120.31 220.94 L120.64 220.13 L120.97 219.21 L121.3 218.24 L121.62 217.29 L121.94 216.41 L122.23 215.65 L122.5 215.08 L122.73 214.72 L122.93 214.53 L123.1 214.47 L123.26 214.47 L123.42 214.5 L123.61 214.51 L123.83 214.45 L124.1 214.27 L124.43 214.01 L124.81 213.71 L125.22 213.38 L125.65 213.01 L126.09 212.6 L126.52 212.13 L126.93 211.62 L127.3 211.05 L127.64 210.42 L127.96 209.75 L128.26 209.02 L128.55 208.25 L128.84 207.42 L129.12 206.54 L129.41 205.61 L129.7 204.63 L130.01 203.58 L130.32 202.45 L130.64 201.26 L130.95 200.02 L131.26 198.75 L131.56 197.47 L131.84 196.18 L132.1 194.91 L132.33 193.71 L132.54 192.58 L132.73 191.48 L132.91 190.35 L133.08 189.14 L133.27 187.8 L133.47 186.27 L133.7 184.5 L133.95 182.46 L134.22 180.04 L134.5 177.39 L134.79 174.6 L135.09 171.74 L135.39 168.85 L135.7 166 L136 163.25 L136.3 160.55 L136.59 157.83 L136.89 155.1 L137.19 152.38 L137.5 149.66 L137.81 146.97 L138.15 144.09 L138.5 140.95 L138.88 137.56 L139.28 133.81 L139.71 129.93 L140.14 126.12 L140.57 122.61 L141 119.63 L141.41 117.38 L141.8 116.1 L142.17 117.55 L142.53 119.88 L142.89 122.9 L143.23 126.41 L143.57 130.21 L143.89 134.09 L144.2 137.86 L144.5 141.33 L144.79 144.63 L145.06 147.94 L145.31 150.95 L145.56 154 L145.8 157.02 L146.04 159.98 L146.27 162.82 L146.5 165.51 L146.73 168.06 L146.95 170.53 L147.16 172.92 L147.38 175.23 L147.58 177.45 L147.79 179.6 L147.99 181.67 L148.2 183.66 L148.4 185.53 L148.6 187.28 L148.79 188.92 L148.98 190.49 L149.18 191.93 L149.37 193.36 L149.58 194.8 L149.8 196.3 L150.03 197.85 L150.27 199.42 L150.52 200.99 L150.78 202.57 L151.03 204.14 L151.29 205.68 L151.55 207.19 L151.8 208.65 L152.05 210.06 L152.29 211.41 L152.53 212.73 L152.78 214.02 L153.02 215.31 L153.27 216.58 L153.53 217.87 L153.8 219.2 L154.09 220.62 L154.39 222.13 L154.71 223.69 L155.03 225.25 L155.34 226.75 L155.65 228.16 L155.94 229.42 L156.2 230.49 L156.43 231.36 L156.64 232.06 L156.82 232.63 L157 233.1 L157.18 233.49 L157.36 233.83 L157.57 234.15 L157.8 234.49 L158.06 234.83 L158.33 235.15 L158.62 235.44 L158.92 235.69 L159.24 235.88 L159.55 236.02 L159.88 236.09 L160.2 236.08 L160.52 235.96 L160.82 235.72 L161.12 235.39 L161.44 235.01 L161.77 234.62 L162.14 234.24 L162.54 233.91 L163 233.68 L163.51 233.5 L164.08 233.36 L164.68 233.24 L165.31 233.15 L165.97 233.09 L166.64 233.07 L167.32 233.1 L168 233.16 L168.7 233.28 L169.42 233.43 L170.17 233.62 L170.93 233.85 L171.69 234.12 L172.42 234.43 L173.13 234.77 L173.8 235.15 L174.41 235.55 L174.97 235.95 L175.49 236.38 L176 236.85 L176.52 237.39 L177.06 238 L177.65 238.71 L178.3 239.54 L179.02 240.56 L179.8 241.8 L180.62 243.18 L181.47 244.62 L182.33 246.04 L183.2 247.36 L184.06 248.52 L184.9 249.42 L185.74 250.09 L186.6 250.59 L187.47 250.95 L188.33 251.2 L189.18 251.36 L190 251.47 L190.78 251.54 L191.5 251.61 L192.13 251.62 L192.67 251.52 L193.15 251.34 L193.61 251.13 L194.09 250.92 L194.62 250.73 L195.25 250.62 L196 250.6 L196.91 250.82 L197.95 251.32 L199.08 251.96 L200.27 252.59 L201.47 253.07 L202.65 253.28 L203.78 253.06 L204.8 252.28 L205.74 250.85 L206.65 248.86 L207.53 246.46 L208.37 243.78 L209.18 240.94 L209.95 238.09 L210.69 235.35 L211.4 232.86 L212.07 230.51 L212.69 228.13 L213.27 225.75 L213.82 223.42 L214.35 221.15 L214.87 218.99 L215.38 216.98 L215.9 215.15 L216.4 213.37 L216.87 211.56 L217.31 209.81 L217.76 208.21 L218.21 206.85 L218.69 205.82 L219.22 205.22 L219.8 205.14 L220.46 205.79 L221.19 207.19 L221.97 209.1 L222.77 211.29 L223.57 213.55 L224.36 215.65 L225.11 217.35 L225.8 218.42 L226.42 218.85 L227 218.84 L227.55 218.5 L228.07 217.96 L228.59 217.34 L229.11 216.76 L229.64 216.35 L230.2 216.21 L230.8 216.43 L231.43 216.9 L232.08 217.52 L232.74 218.2 L233.37 218.8 L233.97 219.25 L234.52 219.42 L235 219.2 L235.4 218.56 L235.72 217.56 L235.99 216.3 L236.22 214.62 L236.45 212.86 L236.67 211.11 L236.91 209.42 L237.2 207.88 L237.52 206.37 L237.86 204.78 L238.21 203.18 L238.57 201.62 L238.93 200.18 L239.29 199.22 L239.65 198.57 L240 198.2 L240.34 198.17 L240.67 198.45 L240.99 198.96 L241.31 199.64 L241.64 200.41 L241.98 201.21 L242.33 201.96 L242.7 202.6 L243.09 203.18 L243.5 203.8 L243.93 204.43 L244.36 205.06 L244.8 205.66 L245.24 206.21 L245.67 206.7 L246.1 207.1 L246.51 207.43 L246.89 207.72 L247.27 207.96 L247.66 208.14 L248.05 208.27 L248.46 208.32 L248.91 208.3 L249.4 208.2 L249.94 207.95 L250.51 207.52 L251.12 206.98 L251.74 206.39 L252.38 205.82 L253.03 205.32 L253.67 204.96 L254.3 204.8 L254.92 204.88 L255.56 205.17 L256.19 205.59 L256.83 206.09 L257.46 206.61 L258.09 207.07 L258.7 207.42 L259.3 207.6 L259.88 207.6 L260.44 207.49 L260.99 207.29 L261.53 207.03 L262.07 206.73 L262.61 206.42 L263.15 206.14 L263.7 205.9 L264.26 205.68 L264.82 205.43 L265.38 205.17 L265.95 204.92 L266.52 204.7 L267.08 204.51 L267.64 204.37 L268.2 204.3 L268.75 204.3 L269.31 204.37 L269.86 204.49 L270.41 204.64 L270.95 204.82 L271.5 205.02 L272.05 205.22 L272.6 205.4 L273.16 205.6 L273.73 205.85 L274.3 206.12 L274.87 206.39 L275.43 206.65 L275.98 206.86 L276.5 207.02 L277 207.1 L277.47 207.09 L277.91 207 L278.34 206.86 L278.75 206.67 L279.15 206.47 L279.54 206.26 L279.92 206.07 L280.3 205.9 L280.67 205.72 L281.04 205.49 L281.39 205.23 L281.73 204.99 L282.07 204.8 L282.41 204.68 L282.75 204.67 L283.1 204.8 L283.45 205.1 L283.81 205.55 L284.18 206.11 L284.54 206.74 L284.89 207.42 L285.24 208.16 L285.58 208.89 L285.9 209.54 L286.2 210.14 L286.47 210.73 L286.72 211.31 L286.97 211.87 L287.22 212.42 L287.49 212.94 L287.78 213.45 L288.1 213.9 L288.45 214.25 L288.82 214.57 L289.21 214.86 L289.61 215.13 L290.03 215.38 L290.47 215.62 L290.93 215.86 L291.4 216.1 L291.9 216.32 L292.43 216.51 L292.98 216.69 L293.54 216.86 L294.12 217.04 L294.69 217.25 L295.25 217.5 L295.8 217.8 L296.34 218.1 L296.89 218.36 L297.44 218.62 L297.98 218.93 L298.51 219.65 L299.03 220.51 L299.53 221.52 L300 222.75 L300.43 224.23 L300.82 225.95 L301.19 227.84 L301.54 229.85 L301.89 231.93 L302.26 233.83 L302.66 235.59 L303.1 237.21 L303.59 238.74 L304.11 240.3 L304.65 241.84 L305.22 243.34 L305.79 244.76 L306.37 246.07 L306.94 247.24 L307.5 248.23 L307.99 249.04 L308.39 249.7 L308.76 250.21 L309.14 250.62 L309.6 250.93 L310.17 251.18 L310.92 251.38 L311.9 251.56 L313.16 251.66 L314.68 251.63 L316.39 251.52 L318.21 251.36 L320.07 251.2 L321.91 251.06 L323.64 250.99 L325.2 251.04 L326.67 251.2 L328.15 251.46 L329.6 251.78 L330.98 252.13 L332.26 252.49 L333.4 252.82 L334.36 253.1 L335.1 253.29 L335.1 253.91 L334.36 253.72 L333.4 253.45 L332.26 253.14 L330.98 252.79 L329.6 252.45 L328.15 252.15 L326.67 251.91 L325.2 251.76 L323.64 251.74 L321.91 251.83 L320.07 251.99 L318.21 252.17 L316.39 252.35 L314.68 252.48 L313.16 252.53 L311.9 252.44 L310.92 252.27 L310.17 252.08 L309.6 251.84 L309.14 251.53 L308.76 251.13 L308.39 250.62 L307.99 249.97 L307.5 249.17 L306.94 248.18 L306.37 247.02 L305.79 245.71 L305.22 244.3 L304.65 242.81 L304.11 241.27 L303.59 239.72 L303.1 238.19 L302.66 236.59 L302.26 234.83 L301.89 233.06 L301.54 231.43 L301.19 229.86 L300.82 228.42 L300.43 227.19 L300 226.25 L299.53 225.61 L299.03 225.22 L298.51 225.01 L297.98 224.93 L297.44 224.62 L296.89 224.36 L296.34 224.1 L295.8 223.8 L295.25 223.5 L294.69 223.25 L294.12 223.04 L293.54 222.86 L292.98 222.69 L292.43 222.51 L291.9 222.32 L291.4 222.1 L290.93 221.86 L290.47 221.62 L290.03 221.38 L289.61 221.13 L289.21 220.86 L288.82 220.57 L288.45 220.25 L288.1 219.9 L287.78 219.57 L287.49 219.22 L287.22 218.83 L286.97 218.42 L286.72 217.99 L286.47 217.55 L286.2 217.1 L285.9 216.66 L285.58 216.18 L285.24 215.63 L284.89 215.02 L284.54 214.34 L284.18 213.71 L283.81 213.15 L283.45 212.7 L283.1 212.4 L282.75 212.27 L282.41 212.28 L282.07 212.4 L281.73 212.59 L281.39 212.83 L281.04 213.09 L280.67 213.32 L280.3 213.5 L279.92 213.67 L279.54 213.86 L279.15 214.07 L278.75 214.28 L278.34 214.46 L277.91 214.6 L277.47 214.69 L277 214.7 L276.5 214.62 L275.98 214.46 L275.43 214.25 L274.87 213.99 L274.3 213.72 L273.73 213.45 L273.16 213.2 L272.6 213 L272.05 212.82 L271.5 212.62 L270.95 212.42 L270.41 212.24 L269.86 212.09 L269.31 211.97 L268.75 211.9 L268.2 211.9 L267.64 211.97 L267.08 212.11 L266.52 212.3 L265.95 212.53 L265.38 212.77 L264.82 213.03 L264.26 213.28 L263.7 213.5 L263.15 213.74 L262.61 214.02 L262.07 214.33 L261.53 214.63 L260.99 214.89 L260.44 215.09 L259.88 215.2 L259.3 215.2 L258.7 215.02 L258.09 214.67 L257.46 214.21 L256.83 213.69 L256.19 213.19 L255.56 212.77 L254.92 212.48 L254.3 212.4 L253.67 212.56 L253.03 212.92 L252.38 213.42 L251.74 213.99 L251.12 214.58 L250.51 215.12 L249.94 215.55 L249.4 215.8 L248.91 215.9 L248.46 215.92 L248.05 215.87 L247.66 215.74 L247.27 215.56 L246.89 215.32 L246.51 215.03 L246.1 214.7 L245.67 214.3 L245.24 213.81 L244.8 213.26 L244.36 212.66 L243.93 212.03 L243.5 211.4 L243.09 210.78 L242.7 210.2 L242.33 209.56 L241.98 208.81 L241.64 208.01 L241.31 207.24 L240.99 206.56 L240.67 206.05 L240.34 205.77 L240 205.8 L239.65 206.17 L239.29 206.82 L238.93 207.62 L238.57 208.28 L238.21 209.04 L237.86 209.88 L237.52 210.72 L237.2 211.52 L236.91 212.43 L236.67 213.58 L236.45 214.84 L236.22 216.12 L235.99 217.3 L235.72 218.56 L235.4 219.55 L235 220.2 L234.52 220.41 L233.97 220.24 L233.37 219.79 L232.74 219.18 L232.08 218.51 L231.43 217.88 L230.8 217.4 L230.2 217.19 L229.64 217.32 L229.11 217.73 L228.59 218.31 L228.07 218.92 L227.55 219.46 L227 219.8 L226.42 219.81 L225.8 219.38 L225.11 218.29 L224.36 216.59 L223.57 214.49 L222.77 212.23 L221.97 210.03 L221.19 208.11 L220.46 206.72 L219.8 206.06 L219.22 206.14 L218.69 206.74 L218.21 207.76 L217.76 209.12 L217.31 210.72 L216.87 212.47 L216.4 214.28 L215.9 216.05 L215.38 217.88 L214.87 219.89 L214.35 222.05 L213.82 224.31 L213.27 226.64 L212.69 229.02 L212.07 231.4 L211.4 233.74 L210.69 236.23 L209.95 238.96 L209.18 241.81 L208.37 244.65 L207.53 247.33 L206.65 249.72 L205.74 251.7 L204.8 253.12 L203.78 253.9 L202.65 254.11 L201.47 253.91 L200.27 253.41 L199.08 252.78 L197.95 252.14 L196.91 251.63 L196 251.4 L195.25 251.42 L194.62 251.54 L194.09 251.72 L193.61 251.93 L193.15 252.14 L192.67 252.31 L192.13 252.4 L191.5 252.39 L190.78 252.32 L190 252.24 L189.18 252.13 L188.33 251.97 L187.47 251.71 L186.6 251.35 L185.74 250.84 L184.9 250.18 L184.06 249.27 L183.2 248.11 L182.33 246.78 L181.47 245.36 L180.62 243.91 L179.8 242.53 L179.02 241.29 L178.3 240.26 L177.65 239.43 L177.06 238.72 L176.52 238.1 L176 237.56 L175.49 237.09 L174.97 236.66 L174.41 236.25 L173.8 235.85 L173.13 235.47 L172.42 235.12 L171.69 234.81 L170.93 234.54 L170.17 234.3 L169.42 234.11 L168.7 233.95 L168 233.84 L167.32 233.76 L166.64 233.74 L165.97 233.75 L165.31 233.8 L164.68 233.89 L164.08 234.01 L163.51 234.15 L163 234.32 L162.54 234.56 L162.14 234.88 L161.77 235.26 L161.44 235.65 L161.12 236.03 L160.82 236.36 L160.52 236.6 L160.2 236.72 L159.88 236.72 L159.55 236.65 L159.24 236.51 L158.92 236.31 L158.62 236.07 L158.33 235.78 L158.06 235.45 L157.8 235.11 L157.57 234.78 L157.36 234.45 L157.18 234.11 L157 233.72 L156.82 233.25 L156.64 232.68 L156.43 231.97 L156.2 231.11 L155.94 230.04 L155.65 228.77 L155.34 227.36 L155.03 225.85 L154.71 224.3 L154.39 222.74 L154.09 221.22 L153.8 219.8 L153.53 218.47 L153.27 217.18 L153.02 215.91 L152.78 214.68 L152.53 213.44 L152.29 212.19 L152.05 210.89 L151.8 209.55 L151.55 208.15 L151.29 206.71 L151.03 205.23 L150.78 203.73 L150.52 202.21 L150.27 200.7 L150.03 199.19 L149.8 197.7 L149.58 196.26 L149.37 194.86 L149.18 193.49 L148.98 192.12 L148.79 190.8 L148.6 189.42 L148.4 187.94 L148.2 186.34 L147.99 184.63 L147.79 182.84 L147.58 180.97 L147.38 179.02 L147.16 177 L146.95 174.9 L146.73 172.73 L146.5 170.49 L146.27 168.11 L146.04 165.58 L145.8 162.94 L145.56 160.24 L145.31 157.53 L145.06 154.86 L144.79 152.64 L144.5 150.67 L144.2 148.61 L143.89 146.3 L143.57 143.93 L143.23 141.7 L142.89 139.81 L142.53 138.45 L142.17 137.81 L141.8 138.1 L141.41 137.74 L141 138.25 L140.57 139.44 L140.14 141.12 L139.71 143.11 L139.28 145.22 L138.88 147.26 L138.5 149.05 L138.15 150.71 L137.81 152.74 L137.5 155.03 L137.19 157.36 L136.89 159.71 L136.59 162.07 L136.3 164.42 L136 166.75 L135.7 169.13 L135.39 171.6 L135.09 174.1 L134.79 176.6 L134.5 179.02 L134.22 181.31 L133.95 183.46 L133.7 185.5 L133.47 187.26 L133.27 188.79 L133.08 190.13 L132.91 191.34 L132.73 192.46 L132.54 193.56 L132.33 194.69 L132.1 195.89 L131.84 197.15 L131.56 198.43 L131.26 199.71 L130.95 200.98 L130.64 202.21 L130.32 203.4 L130.01 204.52 L129.7 205.57 L129.41 206.55 L129.12 207.47 L128.84 208.35 L128.55 209.17 L128.26 209.94 L127.96 210.66 L127.64 211.33 L127.3 211.95 L126.93 212.52 L126.52 213.03 L126.09 213.48 L125.65 213.89 L125.22 214.25 L124.81 214.58 L124.43 214.87 L124.1 215.13 L123.83 215.3 L123.61 215.36 L123.42 215.35 L123.26 215.32 L123.1 215.31 L122.93 215.38 L122.73 215.56 L122.5 215.92 L122.23 216.48 L121.94 217.23 L121.62 218.11 L121.3 219.06 L120.97 220.02 L120.64 220.93 L120.31 221.75 L120 222.4 L119.69 222.88 L119.37 223.25 L119.06 223.52 L118.74 223.75 L118.44 223.95 L118.14 224.17 L117.86 224.44 L117.6 224.78 L117.37 225.23 L117.16 225.75 L116.97 226.31 L116.79 226.89 L116.62 227.45 L116.43 227.98 L116.23 228.42 L116 228.77 L115.76 229.01 L115.51 229.16 L115.25 229.25 L114.98 229.3 L114.7 229.31 L114.39 229.31 L114.06 229.32 L113.7 229.35 L113.3 229.41 L112.85 229.46 L112.38 229.52 L111.89 229.56 L111.39 229.6 L110.9 229.62 L110.43 229.63 L110 229.63 L109.6 229.9 L109.21 230.57 L108.84 231.39 L108.47 232.12 L108.12 232.51 L107.78 232.3 L107.44 231.25 L107.1 229.11 L106.76 225.7 L106.42 221.19 L106.09 215.83 L105.76 210.24 L105.45 204.44 L105.15 198.53 L104.86 192.76 L104.6 187.4 L104.36 181.67 L104.15 175.17 L103.96 168.73 L103.77 162.41 L103.6 156.77 L103.44 152.37 L103.27 149.76 L103.1 149.5 L102.94 150.34 L102.79 153.75 L102.65 159.05 L102.51 165.58 L102.36 172.69 L102.2 179.71 L102.01 186.68 L101.8 192.34 L101.57 197.07 L101.35 201.64 L101.12 205.99 L100.87 210.07 L100.58 213.84 L100.25 217.66 L99.86 221.3 L99.4 224.6 L98.85 227.49 L98.22 229.96 L97.53 232.09 L96.79 233.95 L96.03 235.61 L95.27 237.14 L94.52 238.61 L93.8 240.1 L93.07 241.58 L92.29 242.98 L91.49 244.28 L90.7 245.47 L89.96 246.54 L89.29 247.48 L88.72 248.27 L88.3 248.9Z" fill="#800000" fill-opacity="0.45" stroke="none" clip-path="url(#ca)"/>
<path d="M88.3 248.7 L88.72 248.07 L89.29 247.28 L89.96 246.34 L90.7 245.27 L91.49 244.08 L92.29 242.78 L93.07 241.38 L93.8 239.9 L94.52 238.41 L95.27 236.94 L96.03 235.41 L96.79 233.75 L97.53 231.89 L98.22 229.76 L98.85 227.29 L99.4 224.4 L99.86 221.1 L100.25 217.46 L100.58 213.5 L100.87 209.26 L101.12 204.76 L101.35 200.03 L101.57 195.1 L101.8 190 L102.01 183.98 L102.2 176.71 L102.36 168.8 L102.51 160.88 L102.65 153.57 L102.79 147.49 L102.94 143.26 L103.1 141.5 L103.27 142.53 L103.44 145.9 L103.6 151.06 L103.77 157.48 L103.96 164.62 L104.15 171.95 L104.36 178.92 L104.6 185 L104.86 190.76 L105.15 196.94 L105.45 203.31 L105.76 209.59 L106.09 215.53 L106.42 220.89 L106.76 225.39 L107.1 228.8 L107.44 230.94 L107.78 231.99 L108.12 232.19 L108.47 231.81 L108.84 231.07 L109.21 230.25 L109.6 229.57 L110 229.3 L110.43 229.3 L110.9 229.29 L111.39 229.26 L111.89 229.22 L112.38 229.17 L112.85 229.11 L113.3 229.06 L113.7 229 L114.06 228.96 L114.39 228.95 L114.7 228.95 L114.98 228.93 L115.25 228.89 L115.51 228.8 L115.76 228.64 L116 228.4 L116.23 228.05 L116.43 227.6 L116.62 227.08 L116.79 226.51 L116.97 225.93 L117.16 225.37 L117.37 224.85 L117.6 224.4 L117.86 224.05 L118.14 223.78 L118.44 223.56 L118.74 223.36 L119.06 223.13 L119.37 222.85 L119.69 222.49 L120 222 L120.31 221.34 L120.64 220.53 L120.97 219.61 L121.3 218.65 L121.62 217.7 L121.94 216.82 L122.23 216.07 L122.5 215.5 L122.73 215.14 L122.93 214.96 L123.1 214.89 L123.26 214.89 L123.42 214.93 L123.61 214.94 L123.83 214.88 L124.1 214.7 L124.43 214.44 L124.81 214.14 L125.22 213.82 L125.65 213.45 L126.09 213.04 L126.52 212.58 L126.93 212.07 L127.3 211.5 L127.64 210.88 L127.96 210.2 L128.26 209.48 L128.55 208.71 L128.84 207.88 L129.12 207.01 L129.41 206.08 L129.7 205.1 L130.01 204.05 L130.32 202.92 L130.64 201.73 L130.95 200.5 L131.26 199.23 L131.56 197.95 L131.84 196.67 L132.1 195.4 L132.33 194.2 L132.54 193.07 L132.73 191.97 L132.91 190.84 L133.08 189.63 L133.27 188.29 L133.47 186.76 L133.7 185 L133.95 182.96 L134.22 180.67 L134.5 178.2 L134.79 175.6 L135.09 172.92 L135.39 170.22 L135.7 167.57 L136 165 L136.3 162.49 L136.59 159.95 L136.89 157.41 L137.19 154.87 L137.5 152.35 L137.81 149.85 L138.15 147.4 L138.5 145 L138.88 142.41 L139.28 139.51 L139.71 136.52 L140.14 133.62 L140.57 131.02 L141 128.94 L141.41 127.56 L141.8 127.1 L142.17 127.68 L142.53 129.16 L142.89 131.36 L143.23 134.06 L143.57 137.07 L143.89 140.19 L144.2 143.24 L144.5 146 L144.79 148.64 L145.06 151.4 L145.31 154.24 L145.56 157.12 L145.8 159.98 L146.04 162.78 L146.27 165.47 L146.5 168 L146.73 170.4 L146.95 172.72 L147.16 174.96 L147.38 177.12 L147.58 179.21 L147.79 181.22 L147.99 183.15 L148.2 185 L148.4 186.74 L148.6 188.35 L148.79 189.86 L148.98 191.31 L149.18 192.71 L149.37 194.11 L149.58 195.53 L149.8 197 L150.03 198.52 L150.27 200.06 L150.52 201.6 L150.78 203.15 L151.03 204.68 L151.29 206.19 L151.55 207.67 L151.8 209.1 L152.05 210.48 L152.29 211.8 L152.53 213.08 L152.78 214.35 L153.02 215.61 L153.27 216.88 L153.53 218.17 L153.8 219.5 L154.09 220.92 L154.39 222.43 L154.71 223.99 L155.03 225.55 L155.34 227.06 L155.65 228.47 L155.94 229.73 L156.2 230.8 L156.43 231.67 L156.64 232.37 L156.82 232.94 L157 233.41 L157.18 233.8 L157.36 234.14 L157.57 234.46 L157.8 234.8 L158.06 235.14 L158.33 235.46 L158.62 235.75 L158.92 236 L159.24 236.2 L159.55 236.34 L159.88 236.41 L160.2 236.4 L160.52 236.28 L160.82 236.04 L161.12 235.71 L161.44 235.33 L161.77 234.94 L162.14 234.56 L162.54 234.24 L163 234 L163.51 233.83 L164.08 233.68 L164.68 233.56 L165.31 233.47 L165.97 233.42 L166.64 233.4 L167.32 233.43 L168 233.5 L168.7 233.61 L169.42 233.77 L170.17 233.96 L170.93 234.19 L171.69 234.46 L172.42 234.77 L173.13 235.12 L173.8 235.5 L174.41 235.9 L174.97 236.3 L175.49 236.73 L176 237.21 L176.52 237.74 L177.06 238.36 L177.65 239.07 L178.3 239.9 L179.02 240.93 L179.8 242.17 L180.62 243.55 L181.47 244.99 L182.33 246.41 L183.2 247.74 L184.06 248.89 L184.9 249.8 L185.74 250.47 L186.6 250.97 L187.47 251.33 L188.33 251.58 L189.18 251.75 L190 251.86 L190.78 251.93 L191.5 252 L192.13 252.01 L192.67 251.91 L193.15 251.74 L193.61 251.53 L194.09 251.32 L194.62 251.14 L195.25 251.02 L196 251 L196.91 251.23 L197.95 251.73 L199.08 252.37 L200.27 253 L201.47 253.49 L202.65 253.7 L203.78 253.48 L204.8 252.7 L205.74 251.27 L206.65 249.29 L207.53 246.9 L208.37 244.21 L209.18 241.38 L209.95 238.52 L210.69 235.79 L211.4 233.3 L212.07 230.95 L212.69 228.58 L213.27 226.2 L213.82 223.86 L214.35 221.6 L214.87 219.44 L215.38 217.43 L215.9 215.6 L216.4 213.82 L216.87 212.01 L217.31 210.26 L217.76 208.66 L218.21 207.31 L218.69 206.28 L219.22 205.68 L219.8 205.6 L220.46 206.25 L221.19 207.65 L221.97 209.56 L222.77 211.76 L223.57 214.02 L224.36 216.12 L225.11 217.82 L225.8 218.9 L226.42 219.33 L227 219.32 L227.55 218.98 L228.07 218.44 L228.59 217.83 L229.11 217.25 L229.64 216.83 L230.2 216.7 L230.8 216.92 L231.43 217.39 L232.08 218.02 L232.74 218.69 L233.37 219.3 L233.97 219.74 L234.52 219.91 L235 219.7 L235.4 219.06 L235.72 218.06 L235.99 216.8 L236.22 215.37 L236.45 213.85 L236.67 212.34 L236.91 210.93 L237.2 209.7 L237.52 208.54 L237.86 207.33 L238.21 206.11 L238.57 204.95 L238.93 203.9 L239.29 203.02 L239.65 202.37 L240 202 L240.34 201.97 L240.67 202.25 L240.99 202.76 L241.31 203.44 L241.64 204.21 L241.98 205.01 L242.33 205.76 L242.7 206.4 L243.09 206.98 L243.5 207.6 L243.93 208.23 L244.36 208.86 L244.8 209.46 L245.24 210.01 L245.67 210.5 L246.1 210.9 L246.51 211.23 L246.89 211.52 L247.27 211.76 L247.66 211.94 L248.05 212.07 L248.46 212.12 L248.91 212.1 L249.4 212 L249.94 211.75 L250.51 211.32 L251.12 210.78 L251.74 210.19 L252.38 209.62 L253.03 209.12 L253.67 208.76 L254.3 208.6 L254.92 208.68 L255.56 208.97 L256.19 209.39 L256.83 209.89 L257.46 210.41 L258.09 210.87 L258.7 211.22 L259.3 211.4 L259.88 211.4 L260.44 211.29 L260.99 211.09 L261.53 210.83 L262.07 210.53 L262.61 210.22 L263.15 209.94 L263.7 209.7 L264.26 209.48 L264.82 209.23 L265.38 208.97 L265.95 208.72 L266.52 208.5 L267.08 208.31 L267.64 208.17 L268.2 208.1 L268.75 208.1 L269.31 208.17 L269.86 208.29 L270.41 208.44 L270.95 208.62 L271.5 208.82 L272.05 209.02 L272.6 209.2 L273.16 209.4 L273.73 209.65 L274.3 209.92 L274.87 210.19 L275.43 210.45 L275.98 210.66 L276.5 210.82 L277 210.9 L277.47 210.89 L277.91 210.8 L278.34 210.66 L278.75 210.47 L279.15 210.27 L279.54 210.06 L279.92 209.87 L280.3 209.7 L280.67 209.52 L281.04 209.29 L281.39 209.03 L281.73 208.79 L282.07 208.6 L282.41 208.48 L282.75 208.47 L283.1 208.6 L283.45 208.9 L283.81 209.35 L284.18 209.91 L284.54 210.54 L284.89 211.22 L285.24 211.89 L285.58 212.53 L285.9 213.1 L286.2 213.62 L286.47 214.14 L286.72 214.65 L286.97 215.14 L287.22 215.62 L287.49 216.08 L287.78 216.51 L288.1 216.9 L288.45 217.25 L288.82 217.57 L289.21 217.86 L289.61 218.13 L290.03 218.38 L290.47 218.62 L290.93 218.86 L291.4 219.1 L291.9 219.32 L292.43 219.51 L292.98 219.69 L293.54 219.86 L294.12 220.04 L294.69 220.25 L295.25 220.5 L295.8 220.8 L296.34 221.1 L296.89 221.36 L297.44 221.62 L297.98 221.93 L298.51 222.33 L299.03 222.86 L299.53 223.57 L300 224.5 L300.43 225.71 L300.82 227.18 L301.19 228.85 L301.54 230.64 L301.89 232.49 L302.26 234.33 L302.66 236.09 L303.1 237.7 L303.59 239.23 L304.11 240.79 L304.65 242.32 L305.22 243.82 L305.79 245.24 L306.37 246.54 L306.94 247.71 L307.5 248.7 L307.99 249.51 L308.39 250.16 L308.76 250.67 L309.14 251.07 L309.6 251.39 L310.17 251.63 L310.92 251.83 L311.9 252 L313.16 252.09 L314.68 252.06 L316.39 251.94 L318.21 251.77 L320.07 251.59 L321.91 251.44 L323.64 251.37 L325.2 251.4 L326.67 251.56 L328.15 251.8 L329.6 252.12 L330.98 252.46 L332.26 252.81 L333.4 253.14 L334.36 253.41 L335.1 253.6" fill="none" stroke="#800000" stroke-width="3" stroke-linejoin="round" stroke-linecap="round" stroke-opacity="1" clip-path="url(#ca)"/>
<path d="M88.3 249.5 L88.81 249.59 L89.47 249.71 L90.26 249.85 L91.15 250.01 L92.1 250.18 L93.08 250.35 L94.05 250.53 L95 250.7 L95.95 250.88 L96.95 251.06 L97.98 251.26 L99.03 251.46 L100.07 251.65 L101.09 251.85 L102.07 252.03 L103 252.2 L103.9 252.39 L104.79 252.61 L105.67 252.85 L106.51 253.07 L107.31 253.25 L108.05 253.36 L108.72 253.39 L109.3 253.3 L109.77 253.12 L110.14 252.82 L110.43 252.4 L110.66 251.93 L110.86 251.38 L111.05 250.74 L111.26 249.99 L111.5 249.1 L111.77 248.08 L112.05 246.94 L112.33 245.7 L112.61 244.35 L112.88 242.93 L113.14 241.39 L113.38 239.77 L113.6 238.1 L113.79 236.31 L113.94 234.35 L114.08 232.29 L114.21 230.18 L114.33 228.08 L114.46 226.06 L114.62 224.18 L114.8 222.5 L115.01 221.01 L115.23 219.66 L115.47 218.41 L115.72 217.26 L115.99 216.17 L116.25 215.26 L116.53 214.38 L116.8 213.5 L117.08 212.65 L117.36 211.85 L117.65 211.11 L117.94 210.4 L118.25 209.71 L118.56 209.02 L118.87 208.32 L119.2 207.6 L119.55 206.82 L119.92 206 L120.31 205.19 L120.7 204.4 L121.09 203.65 L121.45 202.96 L121.8 202.37 L122.1 201.9 L122.36 201.54 L122.58 201.25 L122.78 201.04 L122.96 200.9 L123.13 200.84 L123.3 200.85 L123.49 200.94 L123.7 201.1 L123.93 201.35 L124.16 201.71 L124.4 202.14 L124.65 202.65 L124.9 203.21 L125.16 203.82 L125.43 204.45 L125.7 205.1 L125.98 205.8 L126.26 206.57 L126.55 207.39 L126.85 208.25 L127.15 209.11 L127.46 209.96 L127.78 210.76 L128.1 211.51 L128.43 212.26 L128.77 213.05 L129.12 213.84 L129.47 214.6 L129.83 215.28 L130.19 215.85 L130.55 216.26 L130.9 216.49 L131.25 216.48 L131.59 216.26 L131.93 215.89 L132.28 215.41 L132.62 214.86 L132.97 214.28 L133.33 213.72 L133.7 213.21 L134.09 212.75 L134.49 212.28 L134.91 211.8 L135.32 211.31 L135.74 210.79 L136.15 210.26 L136.54 209.7 L136.9 209.1 L137.24 208.45 L137.56 207.78 L137.86 207.09 L138.15 206.37 L138.44 205.62 L138.72 204.82 L139.01 203.96 L139.3 203.04 L139.61 201.99 L139.93 200.79 L140.25 199.51 L140.58 198.19 L140.89 196.9 L141.18 195.7 L141.46 194.63 L141.7 193.76 L141.9 193.05 L142.04 192.43 L142.16 191.93 L142.27 191.54 L142.38 191.26 L142.51 191.13 L142.68 191.15 L142.9 191.35 L143.18 191.79 L143.52 192.48 L143.88 193.37 L144.28 194.37 L144.67 195.44 L145.07 196.5 L145.45 197.48 L145.8 198.33 L146.12 199.06 L146.44 199.72 L146.74 200.34 L147.03 200.94 L147.32 201.54 L147.61 202.16 L147.9 202.82 L148.2 203.54 L148.5 204.33 L148.8 205.19 L149.1 206.07 L149.4 206.98 L149.7 207.89 L150 208.78 L150.3 209.63 L150.6 210.42 L150.89 211.13 L151.18 211.77 L151.46 212.37 L151.75 212.94 L152.04 213.54 L152.34 214.17 L152.66 214.89 L153 215.7 L153.36 216.74 L153.74 217.87 L154.14 219.07 L154.55 220.32 L154.96 221.61 L155.38 222.9 L155.79 224.17 L156.2 225.4 L156.61 226.68 L157.04 228.05 L157.47 229.31 L157.9 230.55 L158.32 231.7 L158.71 232.7 L159.08 233.51 L159.4 234.04 L159.67 234.34 L159.9 234.49 L160.1 234.47 L160.28 234.28 L160.44 233.93 L160.61 233.4 L160.79 232.69 L161 231.8 L161.22 230.86 L161.45 229.92 L161.68 228.88 L161.91 227.62 L162.16 225.9 L162.42 223.65 L162.7 220.84 L163 217.37 L163.34 213.01 L163.72 207.79 L164.13 201.93 L164.55 195.67 L164.96 189.23 L165.35 181.7 L165.7 174.46 L166 167.91 L166.23 161.74 L166.39 155.54 L166.51 149.46 L166.61 143.66 L166.71 138.28 L166.83 133.48 L166.99 129.4 L167.2 126.2 L167.47 125.77 L167.76 126.57 L168.09 128.33 L168.44 130.78 L168.81 133.66 L169.19 136.27 L169.59 138.29 L170 139.92 L170.43 141.31 L170.89 142.77 L171.37 144.29 L171.86 145.84 L172.36 147.39 L172.85 148.94 L173.34 150.45 L173.8 151.9 L174.23 153.26 L174.63 154.52 L175.01 155.73 L175.39 157 L175.79 158.32 L176.21 159.73 L176.68 161.28 L177.2 163.02 L177.78 165 L178.4 167.2 L179.06 169.55 L179.75 171.98 L180.46 174.51 L181.2 177.03 L181.95 179.44 L182.7 181.68 L183.49 183.78 L184.35 185.83 L185.24 187.82 L186.14 189.73 L187.02 191.51 L187.86 193.2 L188.63 194.82 L189.3 196.35 L189.85 197.68 L190.3 198.77 L190.68 199.72 L191.01 200.62 L191.34 201.57 L191.69 202.67 L192.1 204.06 L192.6 205.97 L193.18 208.31 L193.81 210.98 L194.49 213.9 L195.19 216.99 L195.93 220.16 L196.68 223.22 L197.44 226.19 L198.2 228.99 L198.99 231.76 L199.83 234.62 L200.7 237.32 L201.57 239.92 L202.44 242.39 L203.28 244.66 L204.07 246.66 L204.8 248.2 L205.39 249.39 L205.85 250.3 L206.22 250.95 L206.58 251.41 L206.99 251.72 L207.53 251.92 L208.24 252.07 L209.2 252.2 L210.44 252.26 L211.9 252.19 L213.54 252.01 L215.29 251.74 L217.12 251.43 L218.97 251.1 L220.78 250.78 L222.5 250.5 L224.24 250.3 L226.08 250.18 L227.96 250.08 L229.82 249.95 L231.6 249.75 L233.23 249.42 L234.65 248.92 L235.8 248.2 L236.63 247.25 L237.2 246.11 L237.56 244.81 L237.78 243.37 L237.9 241.84 L237.98 240.23 L238.1 238.51 L238.3 236.7 L238.55 234.73 L238.8 232.58 L239.02 230.32 L239.24 228.03 L239.44 225.78 L239.64 223.66 L239.82 221.73 L240 220.07 L240.16 218.61 L240.31 217.25 L240.43 216.02 L240.56 214.95 L240.68 214.05 L240.8 213.37 L240.94 212.92 L241.1 212.8 L241.28 213.15 L241.46 213.98 L241.66 215.12 L241.86 216.44 L242.07 217.79 L242.28 219.01 L242.49 219.97 L242.7 220.5 L242.91 220.65 L243.12 220.56 L243.33 220.28 L243.54 219.84 L243.76 219.28 L243.97 218.63 L244.19 217.92 L244.4 217.2 L244.61 216.3 L244.83 215.11 L245.04 213.76 L245.26 212.38 L245.47 211.09 L245.68 210.01 L245.89 209.27 L246.1 209 L246.3 209.26 L246.5 209.96 L246.7 210.99 L246.9 212.24 L247.1 213.6 L247.3 214.96 L247.5 216.19 L247.7 217.2 L247.9 218.08 L248.11 218.97 L248.31 219.85 L248.51 220.67 L248.72 221.4 L248.94 222.01 L249.16 222.45 L249.4 222.7 L249.65 222.65 L249.91 222.29 L250.19 221.72 L250.47 221.05 L250.75 220.38 L251.04 219.81 L251.32 219.45 L251.6 219.4 L251.87 219.67 L252.14 220.15 L252.4 220.81 L252.66 221.59 L252.93 222.44 L253.21 223.31 L253.5 224.15 L253.8 224.9 L254.13 225.66 L254.47 226.5 L254.83 227.39 L255.2 228.26 L255.57 229.05 L255.93 229.73 L256.27 230.23 L256.6 230.5 L256.9 230.51 L257.18 230.31 L257.45 229.93 L257.71 229.43 L257.96 228.84 L258.23 228.23 L258.51 227.63 L258.8 227.1 L259.11 226.72 L259.44 226.48 L259.78 226.28 L260.13 226.04 L260.48 225.66 L260.83 225.04 L261.17 224.08 L261.5 222.7 L261.83 220.65 L262.15 217.8 L262.47 214.39 L262.79 210.8 L263.11 207.27 L263.41 204.04 L263.71 201.37 L264 199.5 L264.28 198.71 L264.54 198.5 L264.8 198.75 L265.06 199.35 L265.3 200.17 L265.54 201.09 L265.77 201.98 L266 202.73 L266.21 203.46 L266.4 204.34 L266.58 205.31 L266.75 206.32 L266.93 207.32 L267.13 208.25 L267.35 209.06 L267.6 209.7 L267.9 210.15 L268.23 210.47 L268.59 210.69 L268.96 210.83 L269.34 210.92 L269.71 211.01 L270.07 211.1 L270.4 211.21 L270.7 211.31 L270.99 211.33 L271.27 211.32 L271.54 211.32 L271.8 211.39 L272.06 211.56 L272.33 211.88 L272.6 212.39 L272.87 213.14 L273.14 214.09 L273.4 215.2 L273.66 216.41 L273.93 217.68 L274.21 218.94 L274.5 220.16 L274.8 221.27 L275.13 222.4 L275.47 223.63 L275.83 224.9 L276.2 226.12 L276.57 227.23 L276.93 228.16 L277.27 228.83 L277.6 229.17 L277.9 229.12 L278.19 228.73 L278.47 228.08 L278.74 227.24 L279 226.3 L279.26 225.34 L279.53 224.43 L279.8 223.65 L280.07 222.94 L280.35 222.21 L280.62 221.46 L280.9 220.73 L281.18 220.02 L281.45 219.35 L281.73 218.75 L282 218.23 L282.27 217.96 L282.55 218.01 L282.82 218.21 L283.1 218.41 L283.38 218.46 L283.65 218.19 L283.93 217.46 L284.2 215.73 L284.48 213.11 L284.76 209.81 L285.05 206.02 L285.33 201.93 L285.61 197.73 L285.89 193.6 L286.15 189.73 L286.4 186.31 L286.63 183.12 L286.85 179.9 L287.05 176.75 L287.25 173.77 L287.45 171.05 L287.65 168.7 L287.87 166.82 L288.1 165.5 L288.36 165.7 L288.63 166.54 L288.91 167.87 L289.21 169.6 L289.5 171.59 L289.78 173.73 L290.05 175.9 L290.3 177.97 L290.52 180.11 L290.73 182.52 L290.92 185.09 L291.1 187.74 L291.28 190.37 L291.47 192.89 L291.68 195.21 L291.9 197.23 L292.14 198.7 L292.39 199.72 L292.65 200.54 L292.92 201.23 L293.2 201.87 L293.49 202.53 L293.79 203.3 L294.1 204.26 L294.42 205.39 L294.75 206.62 L295.09 207.91 L295.44 209.25 L295.8 210.61 L296.16 211.98 L296.53 213.32 L296.9 214.61 L297.27 215.91 L297.65 217.25 L298.04 218.6 L298.43 219.93 L298.82 221.22 L299.22 222.43 L299.61 223.53 L300 224.5 L300.36 225.24 L300.69 225.82 L301.01 226.28 L301.33 226.67 L301.68 227.04 L302.08 227.44 L302.55 227.91 L303.1 228.5 L303.76 229.28 L304.5 230.22 L305.32 231.25 L306.18 232.31 L307.07 233.3 L307.97 234.16 L308.85 234.82 L309.7 235.2 L310.52 235.21 L311.35 234.9 L312.17 234.36 L312.99 233.69 L313.82 233.01 L314.64 232.42 L315.47 232.01 L316.3 231.9 L317.1 232.07 L317.84 232.41 L318.57 232.89 L319.31 233.48 L320.09 234.15 L320.94 234.86 L321.9 235.59 L323 236.3 L324.34 237.06 L325.93 237.95 L327.67 238.9 L329.47 239.88 L331.21 240.81 L332.8 241.66 L334.13 242.38 L335.1 242.9 L335.1 247.9 L334.13 247.38 L332.8 246.66 L331.21 245.81 L329.47 244.88 L327.67 243.9 L325.93 242.95 L324.34 242.06 L323 241.3 L321.9 240.59 L320.94 239.86 L320.09 239.15 L319.31 238.48 L318.57 237.89 L317.84 237.41 L317.1 237.07 L316.3 236.9 L315.47 237.01 L314.64 237.42 L313.82 238.01 L312.99 238.69 L312.17 239.36 L311.35 239.9 L310.52 240.21 L309.7 240.2 L308.85 239.82 L307.97 239.16 L307.07 238.3 L306.18 237.31 L305.32 236.25 L304.5 235.22 L303.76 234.28 L303.1 233.5 L302.55 232.91 L302.08 232.44 L301.68 232.04 L301.33 231.67 L301.01 231.28 L300.69 230.82 L300.36 230.24 L300 229.5 L299.61 228.63 L299.22 227.62 L298.82 226.51 L298.43 225.32 L298.04 224.09 L297.65 222.83 L297.27 221.59 L296.9 220.39 L296.53 219.18 L296.16 217.93 L295.8 216.66 L295.44 215.39 L295.09 214.14 L294.75 212.93 L294.42 211.79 L294.1 210.74 L293.79 209.86 L293.49 209.16 L293.2 208.56 L292.92 208 L292.65 207.38 L292.39 206.62 L292.14 205.66 L291.9 204.57 L291.68 203.29 L291.47 201.65 L291.28 199.76 L291.1 197.74 L290.92 195.7 L290.73 193.76 L290.52 192.03 L290.3 190.63 L290.05 189.4 L289.78 188.13 L289.5 186.94 L289.21 185.91 L288.91 185.16 L288.63 184.77 L288.36 184.85 L288.1 185.5 L287.87 185.97 L287.65 187.06 L287.45 188.67 L287.25 190.66 L287.05 192.92 L286.85 195.32 L286.63 197.75 L286.4 200.09 L286.15 202.6 L285.89 205.5 L285.61 208.63 L285.33 211.8 L285.05 214.85 L284.76 217.59 L284.48 219.86 L284.2 221.47 L283.93 222.47 L283.65 223.22 L283.38 223.5 L283.1 223.48 L282.82 223.29 L282.55 223.11 L282.27 223.09 L282 223.37 L281.73 223.91 L281.45 224.53 L281.18 225.22 L280.9 225.95 L280.62 226.71 L280.35 227.47 L280.07 228.23 L279.8 228.95 L279.53 229.75 L279.26 230.68 L279 231.66 L278.74 232.62 L278.47 233.47 L278.19 234.15 L277.9 234.56 L277.6 234.63 L277.27 234.31 L276.93 233.67 L276.57 232.77 L276.2 231.68 L275.83 230.48 L275.47 229.24 L275.13 228.03 L274.8 226.93 L274.5 225.83 L274.21 224.64 L273.93 223.39 L273.66 222.15 L273.4 220.96 L273.14 219.87 L272.87 218.94 L272.6 218.21 L272.33 217.71 L272.06 217.41 L271.8 217.26 L271.54 217.21 L271.27 217.23 L270.99 217.26 L270.7 217.26 L270.4 217.19 L270.07 217.1 L269.71 217.1 L269.34 217.14 L268.96 217.17 L268.59 217.16 L268.23 217.06 L267.9 216.86 L267.6 216.5 L267.35 215.95 L267.13 215.21 L266.93 214.34 L266.75 213.4 L266.58 212.45 L266.4 211.54 L266.21 210.73 L266 210.07 L265.77 209.39 L265.54 208.57 L265.3 207.74 L265.06 207 L264.8 206.48 L264.54 206.32 L264.28 206.61 L264 207.5 L263.71 208.94 L263.41 211.16 L263.11 213.93 L262.79 216.99 L262.47 220.1 L262.15 223.03 L261.83 225.65 L261.5 227.7 L261.17 229.08 L260.83 230.04 L260.48 230.66 L260.13 231.04 L259.78 231.28 L259.44 231.48 L259.11 231.72 L258.8 232.1 L258.51 232.63 L258.23 233.23 L257.96 233.84 L257.71 234.43 L257.45 234.93 L257.18 235.31 L256.9 235.51 L256.6 235.5 L256.27 235.23 L255.93 234.73 L255.57 234.05 L255.2 233.26 L254.83 232.39 L254.47 231.5 L254.13 230.66 L253.8 229.9 L253.5 229.15 L253.21 228.31 L252.93 227.44 L252.66 226.59 L252.4 225.81 L252.14 225.15 L251.87 224.67 L251.6 224.4 L251.32 224.45 L251.04 224.81 L250.75 225.38 L250.47 226.05 L250.19 226.72 L249.91 227.29 L249.65 227.65 L249.4 227.7 L249.16 227.45 L248.94 227.01 L248.72 226.4 L248.51 225.67 L248.31 224.85 L248.11 223.97 L247.9 223.08 L247.7 222.2 L247.5 221.19 L247.3 219.96 L247.1 218.6 L246.9 217.24 L246.7 215.99 L246.5 214.96 L246.3 214.26 L246.1 214 L245.89 214.27 L245.68 215.01 L245.47 216.09 L245.26 217.38 L245.04 218.76 L244.83 220.11 L244.61 221.3 L244.4 222.2 L244.19 222.92 L243.97 223.63 L243.76 224.28 L243.54 224.84 L243.33 225.28 L243.12 225.56 L242.91 225.65 L242.7 225.5 L242.49 224.97 L242.28 224.01 L242.07 222.79 L241.86 221.44 L241.66 220.12 L241.46 218.98 L241.28 218.15 L241.1 217.8 L240.94 217.84 L240.8 218.11 L240.68 218.62 L240.56 219.35 L240.43 220.27 L240.31 221.33 L240.16 222.49 L240 223.73 L239.82 225.15 L239.64 226.84 L239.44 228.71 L239.24 230.68 L239.02 232.69 L238.8 234.64 L238.55 236.47 L238.3 238.1 L238.1 239.64 L237.98 241.23 L237.9 242.84 L237.78 244.37 L237.56 245.81 L237.2 247.11 L236.63 248.25 L235.8 249.2 L234.65 249.92 L233.23 250.42 L231.6 250.75 L229.82 250.95 L227.96 251.08 L226.08 251.18 L224.24 251.3 L222.5 251.5 L220.78 251.78 L218.97 252.1 L217.12 252.43 L215.29 252.74 L213.54 253.01 L211.9 253.19 L210.44 253.26 L209.2 253.2 L208.24 253.07 L207.53 252.92 L206.99 252.72 L206.58 252.41 L206.22 251.95 L205.85 251.3 L205.39 250.39 L204.8 249.2 L204.07 247.66 L203.28 245.92 L202.44 243.94 L201.57 241.77 L200.7 239.48 L199.83 237.18 L198.99 235.06 L198.2 233.01 L197.44 230.9 L196.68 228.62 L195.93 226.26 L195.19 224 L194.49 221.79 L193.81 219.71 L193.18 217.83 L192.6 216.22 L192.1 214.94 L191.69 213.78 L191.34 212.79 L191.01 211.95 L190.68 211.16 L190.3 210.34 L189.85 209.4 L189.3 208.25 L188.63 206.95 L187.86 205.59 L187.02 204.17 L186.14 202.68 L185.24 201.2 L184.35 199.65 L183.49 198.03 L182.7 196.32 L181.95 194.47 L181.2 192.43 L180.46 190.27 L179.75 188.03 L179.06 185.73 L178.4 183.52 L177.78 181.44 L177.2 179.58 L176.68 177.95 L176.21 176.49 L175.79 175.16 L175.39 173.92 L175.01 172.72 L174.63 171.45 L174.23 170.13 L173.8 168.7 L173.34 167.17 L172.85 165.58 L172.36 163.95 L171.86 162.31 L171.37 160.68 L170.89 159.09 L170.43 157.55 L170 156.08 L169.59 154.39 L169.19 152.3 L168.81 150.52 L168.44 149.28 L168.09 148.38 L167.76 148.06 L167.47 148.59 L167.2 150.2 L166.99 151.65 L166.83 154.45 L166.71 158.29 L166.61 162.85 L166.51 167.83 L166.39 172.91 L166.23 177.76 L166 182.09 L165.7 186.22 L165.35 190.59 L164.96 195.17 L164.55 200.92 L164.13 206.48 L163.72 211.66 L163.34 216.24 L163 220.03 L162.7 223.01 L162.42 225.35 L162.16 227.16 L161.91 228.64 L161.68 229.94 L161.45 231.03 L161.22 232.01 L161 233 L160.79 233.93 L160.61 234.68 L160.44 235.24 L160.28 235.63 L160.1 235.85 L159.9 235.91 L159.67 235.81 L159.4 235.56 L159.08 235.09 L158.71 234.36 L158.32 233.43 L157.9 232.37 L157.47 231.22 L157.04 230.05 L156.61 229.07 L156.2 228.2 L155.79 227.37 L155.38 226.51 L154.96 225.64 L154.55 224.77 L154.14 223.93 L153.74 223.12 L153.36 222.37 L153 221.7 L152.66 221.02 L152.34 220.44 L152.04 219.92 L151.75 219.44 L151.46 218.98 L151.18 218.5 L150.89 217.98 L150.6 217.38 L150.3 216.71 L150 215.97 L149.7 215.21 L149.4 214.42 L149.1 213.63 L148.8 212.87 L148.5 212.13 L148.2 211.46 L147.9 210.85 L147.61 210.29 L147.32 209.77 L147.03 209.27 L146.74 208.76 L146.44 208.24 L146.12 207.68 L145.8 207.07 L145.45 206.33 L145.07 205.47 L144.67 204.55 L144.28 203.61 L143.88 202.74 L143.52 201.98 L143.18 201.4 L142.9 201.05 L142.68 200.93 L142.51 200.96 L142.38 201.14 L142.27 201.45 L142.16 201.88 L142.04 202.41 L141.9 203 L141.7 203.64 L141.46 204.41 L141.18 205.37 L140.89 206.46 L140.58 207.62 L140.25 208.81 L139.93 209.96 L139.61 211.03 L139.3 211.96 L139.01 212.77 L138.72 213.51 L138.44 214.19 L138.15 214.83 L137.86 215.43 L137.56 216 L137.24 216.55 L136.9 217.1 L136.54 217.67 L136.15 218.2 L135.74 218.71 L135.32 219.19 L134.91 219.66 L134.49 220.11 L134.09 220.55 L133.7 220.99 L133.33 221.47 L132.97 222.01 L132.62 222.56 L132.28 223.09 L131.93 223.55 L131.59 223.9 L131.25 224.1 L130.9 224.11 L130.55 223.92 L130.19 223.55 L129.83 223.03 L129.47 222.4 L129.12 221.69 L128.77 220.95 L128.43 220.2 L128.1 219.49 L127.78 218.76 L127.46 217.96 L127.15 217.11 L126.85 216.25 L126.55 215.39 L126.26 214.57 L125.98 213.8 L125.7 213.1 L125.43 212.45 L125.16 211.82 L124.9 211.21 L124.65 210.65 L124.4 210.14 L124.16 209.71 L123.93 209.35 L123.7 209.1 L123.49 208.94 L123.3 208.85 L123.13 208.84 L122.96 208.9 L122.78 209.04 L122.58 209.25 L122.36 209.54 L122.1 209.9 L121.8 210.37 L121.45 210.96 L121.09 211.65 L120.7 212.4 L120.31 213.19 L119.92 213.98 L119.55 214.71 L119.2 215.4 L118.87 216.04 L118.56 216.66 L118.25 217.27 L117.94 217.89 L117.65 218.52 L117.36 219.19 L117.08 219.92 L116.8 220.7 L116.53 221.51 L116.25 222.32 L115.99 223.15 L115.72 223.89 L115.47 224.71 L115.23 225.63 L115.01 226.69 L114.8 227.9 L114.62 229.34 L114.46 231.02 L114.33 232.86 L114.21 234.79 L114.08 236.73 L113.94 238.61 L113.79 240.36 L113.6 241.9 L113.38 243.28 L113.14 244.58 L112.88 245.84 L112.61 247.04 L112.33 248.16 L112.05 249.18 L111.77 250.1 L111.5 250.9 L111.26 251.59 L111.05 252.18 L110.86 252.67 L110.66 253.06 L110.43 253.35 L110.14 253.54 L109.77 253.72 L109.3 253.9 L108.72 253.99 L108.05 253.96 L107.31 253.85 L106.51 253.67 L105.67 253.45 L104.79 253.21 L103.9 252.99 L103 252.8 L102.07 252.63 L101.09 252.45 L100.07 252.25 L99.03 252.06 L97.98 251.86 L96.95 251.66 L95.95 251.48 L95 251.3 L94.05 251.13 L93.08 250.95 L92.1 250.78 L91.15 250.61 L90.26 250.45 L89.47 250.31 L88.81 250.19 L88.3 250.1Z" fill="#E8968E" fill-opacity="0.6" stroke="none" clip-path="url(#ca)"/>
<path d="M88.3 249.8 L88.81 249.89 L89.47 250.01 L90.26 250.15 L91.15 250.31 L92.1 250.48 L93.08 250.65 L94.05 250.83 L95 251 L95.95 251.18 L96.95 251.36 L97.98 251.56 L99.03 251.76 L100.07 251.95 L101.09 252.15 L102.07 252.33 L103 252.5 L103.9 252.69 L104.79 252.91 L105.67 253.15 L106.51 253.37 L107.31 253.55 L108.05 253.66 L108.72 253.69 L109.3 253.6 L109.77 253.42 L110.14 253.18 L110.43 252.88 L110.66 252.49 L110.86 252.03 L111.05 251.46 L111.26 250.79 L111.5 250 L111.77 249.09 L112.05 248.06 L112.33 246.93 L112.61 245.7 L112.88 244.38 L113.14 242.99 L113.38 241.52 L113.6 240 L113.79 238.33 L113.94 236.48 L114.08 234.51 L114.21 232.48 L114.33 230.47 L114.46 228.54 L114.62 226.76 L114.8 225.2 L115.01 223.85 L115.23 222.65 L115.47 221.56 L115.72 220.57 L115.99 219.66 L116.25 218.79 L116.53 217.95 L116.8 217.1 L117.08 216.28 L117.36 215.52 L117.65 214.82 L117.94 214.14 L118.25 213.49 L118.56 212.84 L118.87 212.18 L119.2 211.5 L119.55 210.77 L119.92 209.99 L120.31 209.19 L120.7 208.4 L121.09 207.65 L121.45 206.96 L121.8 206.37 L122.1 205.9 L122.36 205.54 L122.58 205.25 L122.78 205.04 L122.96 204.9 L123.13 204.84 L123.3 204.85 L123.49 204.94 L123.7 205.1 L123.93 205.35 L124.16 205.71 L124.4 206.14 L124.65 206.65 L124.9 207.21 L125.16 207.82 L125.43 208.45 L125.7 209.1 L125.98 209.8 L126.26 210.57 L126.55 211.39 L126.85 212.25 L127.15 213.11 L127.46 213.96 L127.78 214.76 L128.1 215.5 L128.43 216.23 L128.77 217 L129.12 217.77 L129.47 218.5 L129.83 219.16 L130.19 219.7 L130.55 220.09 L130.9 220.3 L131.25 220.29 L131.59 220.08 L131.93 219.72 L132.28 219.25 L132.62 218.71 L132.97 218.14 L133.33 217.59 L133.7 217.1 L134.09 216.65 L134.49 216.19 L134.91 215.73 L135.32 215.25 L135.74 214.75 L136.15 214.23 L136.54 213.68 L136.9 213.1 L137.24 212.5 L137.56 211.89 L137.86 211.26 L138.15 210.6 L138.44 209.9 L138.72 209.16 L139.01 208.36 L139.3 207.5 L139.61 206.51 L139.93 205.38 L140.25 204.16 L140.58 202.91 L140.89 201.68 L141.18 200.53 L141.46 199.52 L141.7 198.7 L141.9 198.02 L142.04 197.42 L142.16 196.91 L142.27 196.49 L142.38 196.2 L142.51 196.04 L142.68 196.04 L142.9 196.2 L143.18 196.59 L143.52 197.23 L143.88 198.05 L144.28 198.99 L144.67 199.99 L145.07 200.98 L145.45 201.91 L145.8 202.7 L146.12 203.37 L146.44 203.98 L146.74 204.55 L147.03 205.11 L147.32 205.66 L147.61 206.23 L147.9 206.84 L148.2 207.5 L148.5 208.23 L148.8 209.03 L149.1 209.85 L149.4 210.7 L149.7 211.55 L150 212.38 L150.3 213.17 L150.6 213.9 L150.89 214.55 L151.18 215.14 L151.46 215.67 L151.75 216.19 L152.04 216.73 L152.34 217.31 L152.66 217.95 L153 218.7 L153.36 219.56 L153.74 220.5 L154.14 221.5 L154.55 222.55 L154.96 223.62 L155.38 224.7 L155.79 225.77 L156.2 226.8 L156.61 227.88 L157.04 229.05 L157.47 230.26 L157.9 231.46 L158.32 232.57 L158.71 233.53 L159.08 234.3 L159.4 234.8 L159.67 235.07 L159.9 235.2 L160.1 235.16 L160.28 234.96 L160.44 234.58 L160.61 234.04 L160.79 233.31 L161 232.4 L161.22 231.43 L161.45 230.47 L161.68 229.41 L161.91 228.13 L162.16 226.53 L162.42 224.5 L162.7 221.93 L163 218.7 L163.34 214.63 L163.72 209.72 L164.13 204.21 L164.55 198.29 L164.96 192.2 L165.35 186.14 L165.7 180.34 L166 175 L166.23 169.75 L166.39 164.22 L166.51 158.65 L166.61 153.26 L166.71 148.28 L166.83 143.96 L166.99 140.52 L167.2 138.2 L167.47 137.18 L167.76 137.31 L168.09 138.35 L168.44 140.03 L168.81 142.09 L169.19 144.28 L169.59 146.34 L170 148 L170.43 149.43 L170.89 150.93 L171.37 152.49 L171.86 154.07 L172.36 155.67 L172.85 157.26 L173.34 158.81 L173.8 160.3 L174.23 161.69 L174.63 162.98 L175.01 164.23 L175.39 165.46 L175.79 166.74 L176.21 168.11 L176.68 169.61 L177.2 171.3 L177.78 173.22 L178.4 175.36 L179.06 177.64 L179.75 180.01 L180.46 182.39 L181.2 184.73 L181.95 186.95 L182.7 189 L183.49 190.9 L184.35 192.74 L185.24 194.51 L186.14 196.21 L187.02 197.84 L187.86 199.39 L188.63 200.88 L189.3 202.3 L189.85 203.54 L190.3 204.56 L190.68 205.44 L191.01 206.29 L191.34 207.18 L191.69 208.23 L192.1 209.5 L192.6 211.1 L193.18 213.07 L193.81 215.35 L194.49 217.85 L195.19 220.49 L195.93 223.21 L196.68 225.92 L197.44 228.54 L198.2 231 L198.99 233.41 L199.83 235.9 L200.7 238.4 L201.57 240.84 L202.44 243.16 L203.28 245.29 L204.07 247.16 L204.8 248.7 L205.39 249.89 L205.85 250.8 L206.22 251.45 L206.58 251.91 L206.99 252.22 L207.53 252.42 L208.24 252.57 L209.2 252.7 L210.44 252.76 L211.9 252.69 L213.54 252.51 L215.29 252.24 L217.12 251.93 L218.97 251.6 L220.78 251.28 L222.5 251 L224.24 250.8 L226.08 250.68 L227.96 250.58 L229.82 250.45 L231.6 250.25 L233.23 249.92 L234.65 249.42 L235.8 248.7 L236.63 247.75 L237.2 246.61 L237.56 245.31 L237.78 243.87 L237.9 242.34 L237.98 240.73 L238.1 239.07 L238.3 237.4 L238.55 235.6 L238.8 233.61 L239.02 231.5 L239.24 229.36 L239.44 227.25 L239.64 225.25 L239.82 223.44 L240 221.9 L240.16 220.55 L240.31 219.29 L240.43 218.14 L240.56 217.15 L240.68 216.34 L240.8 215.74 L240.94 215.38 L241.1 215.3 L241.28 215.65 L241.46 216.48 L241.66 217.62 L241.86 218.94 L242.07 220.29 L242.28 221.51 L242.49 222.47 L242.7 223 L242.91 223.15 L243.12 223.06 L243.33 222.78 L243.54 222.34 L243.76 221.78 L243.97 221.13 L244.19 220.42 L244.4 219.7 L244.61 218.8 L244.83 217.61 L245.04 216.26 L245.26 214.88 L245.47 213.59 L245.68 212.51 L245.89 211.77 L246.1 211.5 L246.3 211.76 L246.5 212.46 L246.7 213.49 L246.9 214.74 L247.1 216.1 L247.3 217.46 L247.5 218.69 L247.7 219.7 L247.9 220.58 L248.11 221.47 L248.31 222.35 L248.51 223.17 L248.72 223.9 L248.94 224.51 L249.16 224.95 L249.4 225.2 L249.65 225.15 L249.91 224.79 L250.19 224.22 L250.47 223.55 L250.75 222.88 L251.04 222.31 L251.32 221.95 L251.6 221.9 L251.87 222.17 L252.14 222.65 L252.4 223.31 L252.66 224.09 L252.93 224.94 L253.21 225.81 L253.5 226.65 L253.8 227.4 L254.13 228.16 L254.47 229 L254.83 229.89 L255.2 230.76 L255.57 231.55 L255.93 232.23 L256.27 232.73 L256.6 233 L256.9 233.01 L257.18 232.81 L257.45 232.43 L257.71 231.93 L257.96 231.34 L258.23 230.73 L258.51 230.13 L258.8 229.6 L259.11 229.22 L259.44 228.98 L259.78 228.78 L260.13 228.54 L260.48 228.16 L260.83 227.54 L261.17 226.58 L261.5 225.2 L261.83 223.15 L262.15 220.41 L262.47 217.25 L262.79 213.89 L263.11 210.6 L263.41 207.6 L263.71 205.15 L264 203.5 L264.28 202.66 L264.54 202.41 L264.8 202.62 L265.06 203.18 L265.3 203.95 L265.54 204.83 L265.77 205.69 L266 206.4 L266.21 207.09 L266.4 207.94 L266.58 208.88 L266.75 209.86 L266.93 210.83 L267.13 211.73 L267.35 212.5 L267.6 213.1 L267.9 213.51 L268.23 213.77 L268.59 213.92 L268.96 214 L269.34 214.03 L269.71 214.06 L270.07 214.1 L270.4 214.2 L270.7 214.28 L270.99 214.29 L271.27 214.27 L271.54 214.27 L271.8 214.32 L272.06 214.48 L272.33 214.79 L272.6 215.3 L272.87 216.04 L273.14 216.98 L273.4 218.08 L273.66 219.28 L273.93 220.53 L274.21 221.79 L274.5 223 L274.8 224.1 L275.13 225.21 L275.47 226.43 L275.83 227.69 L276.2 228.9 L276.57 230 L276.93 230.92 L277.27 231.57 L277.6 231.9 L277.9 231.84 L278.19 231.44 L278.47 230.78 L278.74 229.93 L279 228.98 L279.26 228.01 L279.53 227.09 L279.8 226.3 L280.07 225.59 L280.35 224.84 L280.62 224.09 L280.9 223.34 L281.18 222.62 L281.45 221.94 L281.73 221.33 L282 220.8 L282.27 220.53 L282.55 220.56 L282.82 220.75 L283.1 220.94 L283.38 220.98 L283.65 220.7 L283.93 219.96 L284.2 218.6 L284.48 216.48 L284.76 213.7 L285.05 210.44 L285.33 206.87 L285.61 203.18 L285.89 199.55 L286.15 196.17 L286.4 193.2 L286.63 190.44 L286.85 187.61 L287.05 184.83 L287.25 182.21 L287.45 179.86 L287.65 177.88 L287.87 176.39 L288.1 175.5 L288.36 175.28 L288.63 175.65 L288.91 176.52 L289.21 177.76 L289.5 179.26 L289.78 180.93 L290.05 182.65 L290.3 184.3 L290.52 186.07 L290.73 188.14 L290.92 190.39 L291.1 192.74 L291.28 195.06 L291.47 197.27 L291.68 199.25 L291.9 200.9 L292.14 202.18 L292.39 203.17 L292.65 203.96 L292.92 204.61 L293.2 205.22 L293.49 205.85 L293.79 206.58 L294.1 207.5 L294.42 208.59 L294.75 209.77 L295.09 211.02 L295.44 212.32 L295.8 213.64 L296.16 214.96 L296.53 216.25 L296.9 217.5 L297.27 218.75 L297.65 220.04 L298.04 221.34 L298.43 222.62 L298.82 223.86 L299.22 225.02 L299.61 226.08 L300 227 L300.36 227.74 L300.69 228.32 L301.01 228.78 L301.33 229.17 L301.68 229.54 L302.08 229.94 L302.55 230.41 L303.1 231 L303.76 231.78 L304.5 232.72 L305.32 233.75 L306.18 234.81 L307.07 235.8 L307.97 236.66 L308.85 237.32 L309.7 237.7 L310.52 237.71 L311.35 237.4 L312.17 236.86 L312.99 236.19 L313.82 235.51 L314.64 234.92 L315.47 234.51 L316.3 234.4 L317.1 234.57 L317.84 234.91 L318.57 235.39 L319.31 235.98 L320.09 236.65 L320.94 237.36 L321.9 238.09 L323 238.8 L324.34 239.56 L325.93 240.45 L327.67 241.4 L329.47 242.38 L331.21 243.31 L332.8 244.16 L334.13 244.88 L335.1 245.4" fill="none" stroke="#E8968E" stroke-width="3" stroke-linejoin="round" stroke-linecap="round" stroke-opacity="1" clip-path="url(#ca)"/>
<path d="M88.3 410.4 L88.55 410.4 L88.89 410.42 L89.29 410.46 L89.74 410.48 L90.2 410.47 L90.67 410.4 L91.11 410.25 L91.5 410 L91.85 409.71 L92.19 409.42 L92.51 409.1 L92.82 408.69 L93.13 408.17 L93.44 407.49 L93.76 406.62 L94.1 405.5 L94.45 404.12 L94.8 402.5 L95.16 400.69 L95.52 398.72 L95.89 396.63 L96.26 394.45 L96.63 392.23 L97 390 L97.37 387.69 L97.74 385.24 L98.11 382.68 L98.48 380.07 L98.86 377.45 L99.23 374.87 L99.61 372.37 L100 370 L100.39 367.59 L100.8 365.02 L101.2 362.42 L101.61 359.91 L102.02 357.63 L102.42 355.7 L102.82 354.25 L103.2 353.4 L103.57 353.25 L103.92 353.72 L104.27 354.67 L104.61 355.97 L104.95 357.49 L105.3 359.09 L105.64 360.64 L106 362 L106.36 363.27 L106.73 364.6 L107.1 365.99 L107.47 367.41 L107.84 368.84 L108.22 370.26 L108.61 371.66 L109 373 L109.39 374.28 L109.77 375.52 L110.15 376.74 L110.54 377.94 L110.95 379.15 L111.37 380.38 L111.82 381.66 L112.3 383 L112.81 384.42 L113.36 385.91 L113.92 387.45 L114.51 389.02 L115.11 390.58 L115.73 392.11 L116.36 393.6 L117 395 L117.67 396.41 L118.39 397.88 L119.13 399.35 L119.88 400.77 L120.62 402.07 L121.33 403.2 L122 404.1 L122.6 404.7 L123.12 404.97 L123.58 404.96 L123.98 404.71 L124.36 404.29 L124.73 403.75 L125.12 403.15 L125.53 402.55 L126 402 L126.5 401.52 L127.01 401.05 L127.54 400.57 L128.09 400.04 L128.66 399.42 L129.27 398.68 L129.91 397.78 L130.6 396.7 L131.37 395.37 L132.22 393.8 L133.13 392.06 L134.06 390.21 L134.99 388.31 L135.87 386.43 L136.69 384.64 L137.4 383 L138.01 381.52 L138.53 380.13 L139 378.81 L139.43 377.52 L139.82 376.23 L140.2 374.9 L140.59 373.5 L141 372 L141.42 370.37 L141.81 368.62 L142.2 366.79 L142.59 364.94 L142.97 363.09 L143.37 361.29 L143.77 359.58 L144.2 358 L144.64 356.53 L145.1 355.14 L145.57 353.8 L146.05 352.53 L146.53 351.32 L147.02 350.16 L147.51 349.06 L148 348 L148.49 346.99 L149 346.02 L149.5 345.1 L150.01 344.24 L150.52 343.44 L151.02 342.71 L151.52 342.06 L152 341.5 L152.47 341.02 L152.93 340.62 L153.39 340.3 L153.84 340.05 L154.28 339.87 L154.72 339.75 L155.16 339.7 L155.6 339.7 L156.02 339.71 L156.41 339.72 L156.79 339.76 L157.17 339.88 L157.57 340.12 L157.99 340.53 L158.47 341.14 L159 342 L159.62 343.16 L160.32 344.61 L161.07 346.28 L161.86 348.1 L162.64 350.02 L163.39 351.97 L164.09 353.88 L164.7 355.7 L165.23 357.44 L165.69 359.16 L166.1 360.87 L166.48 362.61 L166.85 364.37 L167.21 366.18 L167.59 368.05 L168 370 L168.44 372.06 L168.88 374.23 L169.34 376.48 L169.79 378.77 L170.25 381.06 L170.71 383.32 L171.16 385.51 L171.6 387.6 L172.04 389.64 L172.47 391.68 L172.91 393.71 L173.34 395.68 L173.76 397.56 L174.18 399.33 L174.6 400.95 L175 402.4 L175.37 403.67 L175.68 404.79 L175.98 405.78 L176.28 406.65 L176.6 407.41 L176.98 408.08 L177.44 408.67 L178 409.2 L178.63 409.63 L179.29 409.92 L180 410.11 L180.78 410.23 L181.64 410.28 L182.62 410.32 L183.73 410.35 L185 410.4 L186.53 410.48 L188.35 410.55 L190.36 410.62 L192.45 410.66 L194.52 410.67 L196.47 410.63 L198.2 410.55 L199.6 410.4 L200.64 410.19 L201.4 409.91 L201.96 409.59 L202.39 409.22 L202.75 408.82 L203.13 408.4 L203.59 407.95 L204.2 407.5 L204.96 407.01 L205.81 406.48 L206.71 405.9 L207.64 405.31 L208.56 404.72 L209.45 404.14 L210.27 403.6 L211 403.1 L211.64 402.65 L212.21 402.24 L212.73 401.86 L213.21 401.49 L213.66 401.13 L214.1 400.77 L214.54 400.4 L215 400 L215.46 399.58 L215.92 399.14 L216.37 398.69 L216.81 398.24 L217.24 397.79 L217.66 397.35 L218.09 396.92 L218.5 396.5 L218.91 396.13 L219.31 395.83 L219.71 395.55 L220.11 395.28 L220.49 394.96 L220.87 394.58 L221.24 394.11 L221.6 393.5 L221.95 392.83 L222.3 392.15 L222.64 391.41 L222.97 390.59 L223.29 389.64 L223.6 388.52 L223.91 387.19 L224.2 385.6 L224.48 383.69 L224.74 381.47 L225 379.02 L225.24 376.58 L225.48 374.07 L225.72 371.54 L225.96 369.1 L226.2 366.8 L226.44 364.51 L226.68 362.09 L226.92 359.63 L227.15 357.11 L227.38 354.66 L227.62 352.45 L227.86 350.57 L228.1 349.1 L228.34 348.08 L228.56 347.45 L228.79 347.13 L229.01 347.05 L229.25 347.14 L229.51 347.32 L229.79 347.53 L230.1 347.7 L230.44 347.9 L230.79 348.23 L231.16 348.65 L231.55 349.14 L231.97 349.65 L232.41 350.16 L232.89 350.62 L233.4 351 L233.96 351.3 L234.56 351.56 L235.21 351.79 L235.88 352 L236.56 352.21 L237.25 352.44 L237.93 352.7 L238.6 353 L239.26 353.34 L239.92 353.69 L240.58 354.06 L241.25 354.45 L241.92 354.87 L242.58 355.31 L243.24 355.79 L243.9 356.3 L244.55 356.84 L245.2 357.4 L245.85 357.99 L246.5 358.61 L247.15 359.27 L247.8 359.97 L248.45 360.71 L249.1 361.5 L249.76 362.35 L250.42 363.27 L251.08 364.24 L251.75 365.24 L252.42 366.27 L253.08 367.32 L253.74 368.37 L254.4 369.4 L255.06 370.47 L255.74 371.6 L256.41 372.77 L257.08 373.94 L257.74 375.07 L258.39 376.13 L259.01 377.08 L259.6 377.9 L260.14 378.58 L260.63 379.17 L261.08 379.66 L261.52 380.08 L261.97 380.43 L262.45 380.73 L262.99 380.98 L263.6 381.2 L264.3 381.33 L265.08 381.32 L265.91 381.24 L266.77 381.12 L267.64 381.01 L268.5 380.95 L269.33 381 L270.1 381.2 L270.82 381.55 L271.51 382.01 L272.18 382.56 L272.83 383.17 L273.47 383.82 L274.11 384.49 L274.75 385.16 L275.4 385.8 L276.07 386.43 L276.77 387.08 L277.47 387.74 L278.17 388.41 L278.84 389.09 L279.49 389.77 L280.08 390.43 L280.6 391.01 L281.05 391.58 L281.43 392.13 L281.76 392.67 L282.06 393.23 L282.33 393.81 L282.6 394.42 L282.89 395.09 L283.2 395.82 L283.52 396.66 L283.81 397.61 L284.1 398.63 L284.39 399.67 L284.7 400.71 L285.05 401.69 L285.44 402.57 L285.9 403.31 L286.41 403.93 L286.94 404.47 L287.5 404.93 L288.11 405.33 L288.77 405.67 L289.48 405.96 L290.26 406.25 L291.1 406.6 L291.85 406.91 L292.44 407.18 L293 407.39 L293.66 407.58 L294.56 407.75 L295.83 407.9 L297.59 408.04 L300 408.2 L303.4 408.36 L307.82 408.52 L312.89 408.66 L318.26 408.8 L323.55 408.92 L328.42 409.03 L332.49 409.13 L335.4 409.2 L335.4 409.2 L332.49 409.13 L328.42 409.03 L323.55 408.92 L318.26 408.8 L312.89 408.66 L307.82 408.52 L303.4 408.36 L300 408.2 L297.59 408.04 L295.83 407.9 L294.56 407.75 L293.66 407.58 L293 407.39 L292.44 407.18 L291.85 406.91 L291.1 406.6 L290.26 406.25 L289.48 405.97 L288.77 405.69 L288.11 405.36 L287.5 404.97 L286.94 404.52 L286.41 403.99 L285.9 403.38 L285.44 402.65 L285.05 401.77 L284.7 400.8 L284.39 399.77 L284.1 398.72 L283.81 397.75 L283.52 396.86 L283.2 396.08 L282.89 395.41 L282.6 394.81 L282.33 394.25 L282.06 393.72 L281.76 393.23 L281.43 392.75 L281.05 392.28 L280.6 391.8 L280.08 391.22 L279.49 390.65 L278.84 390.08 L278.17 389.52 L277.47 388.96 L276.77 388.42 L276.07 387.88 L275.4 387.37 L274.75 386.83 L274.11 386.27 L273.47 385.73 L272.83 385.2 L272.18 384.72 L271.51 384.31 L270.82 383.99 L270.1 383.78 L269.33 383.74 L268.5 383.85 L267.64 384.08 L266.77 384.17 L265.91 384.24 L265.08 384.28 L264.3 384.23 L263.6 384.06 L262.99 383.81 L262.45 383.52 L261.97 383.2 L261.52 382.82 L261.08 382.37 L260.63 381.89 L260.14 381.35 L259.6 380.72 L259.01 379.96 L258.39 379.06 L257.74 378.06 L257.08 376.99 L256.41 375.89 L255.74 374.78 L255.06 373.71 L254.4 372.7 L253.74 371.84 L253.08 370.98 L252.42 370.12 L251.75 369.27 L251.08 368.44 L250.42 367.66 L249.76 366.92 L249.1 366.25 L248.45 365.63 L247.8 365.07 L247.15 364.41 L246.5 363.79 L245.85 363.21 L245.2 362.66 L244.55 362.14 L243.9 361.64 L243.24 361.16 L242.58 360.73 L241.92 360.32 L241.25 359.95 L240.58 359.65 L239.92 359.39 L239.26 359.14 L238.6 358.9 L237.93 358.7 L237.25 358.55 L236.56 358.43 L235.88 358.32 L235.21 358.21 L234.56 358.04 L233.96 357.66 L233.4 357.25 L232.89 356.78 L232.41 356.22 L231.97 355.64 L231.55 355.04 L231.16 354.48 L230.79 353.99 L230.44 353.59 L230.1 353.33 L229.79 353.11 L229.51 352.84 L229.25 352.51 L229.01 352.23 L228.79 352.12 L228.56 352.25 L228.34 352.7 L228.1 353.52 L227.86 354.78 L227.62 356.47 L227.38 358.48 L227.15 360.73 L226.92 362.98 L226.68 365.03 L226.44 367.03 L226.2 368.9 L225.96 370.77 L225.72 372.81 L225.48 374.91 L225.24 377.01 L225 379.02 L224.74 381.47 L224.48 383.69 L224.2 385.6 L223.91 387.19 L223.6 388.52 L223.29 389.64 L222.97 390.59 L222.64 391.41 L222.3 392.15 L221.95 392.83 L221.6 393.5 L221.24 394.11 L220.87 394.58 L220.49 394.96 L220.11 395.28 L219.71 395.55 L219.31 395.83 L218.91 396.13 L218.5 396.5 L218.09 396.92 L217.66 397.35 L217.24 397.79 L216.81 398.24 L216.37 398.69 L215.92 399.14 L215.46 399.58 L215 400 L214.54 400.4 L214.1 400.77 L213.66 401.13 L213.21 401.49 L212.73 401.86 L212.21 402.24 L211.64 402.65 L211 403.1 L210.27 403.6 L209.45 404.14 L208.56 404.72 L207.64 405.31 L206.71 405.9 L205.81 406.48 L204.96 407.01 L204.2 407.5 L203.59 407.95 L203.13 408.4 L202.75 408.82 L202.39 409.22 L201.96 409.59 L201.4 409.91 L200.64 410.19 L199.6 410.4 L198.2 410.55 L196.47 410.63 L194.52 410.67 L192.45 410.66 L190.36 410.62 L188.35 410.55 L186.53 410.48 L185 410.4 L183.73 410.35 L182.62 410.32 L181.64 410.28 L180.78 410.23 L180 410.11 L179.29 409.92 L178.63 409.63 L178 409.2 L177.44 408.67 L176.98 408.08 L176.6 407.41 L176.28 406.65 L175.98 405.78 L175.68 404.79 L175.37 403.67 L175 402.4 L174.6 400.95 L174.18 399.33 L173.76 397.56 L173.34 395.68 L172.91 393.71 L172.47 391.68 L172.04 389.64 L171.6 387.6 L171.16 385.51 L170.71 383.32 L170.25 381.06 L169.79 378.77 L169.34 376.48 L168.88 374.23 L168.44 372.06 L168 370 L167.59 368.05 L167.21 366.18 L166.85 364.37 L166.48 362.61 L166.1 360.87 L165.69 359.16 L165.23 357.44 L164.7 355.7 L164.09 353.88 L163.39 351.97 L162.64 350.02 L161.86 348.1 L161.07 346.28 L160.32 344.61 L159.62 343.16 L159 342 L158.47 341.14 L157.99 340.53 L157.57 340.12 L157.17 339.88 L156.79 339.76 L156.41 339.72 L156.02 339.71 L155.6 339.7 L155.16 339.7 L154.72 339.75 L154.28 339.87 L153.84 340.05 L153.39 340.3 L152.93 340.62 L152.47 341.02 L152 341.5 L151.52 342.06 L151.02 342.71 L150.52 343.44 L150.01 344.24 L149.5 345.1 L149 346.02 L148.49 346.99 L148 348 L147.51 349.06 L147.02 350.16 L146.53 351.32 L146.05 352.53 L145.57 353.8 L145.1 355.14 L144.64 356.53 L144.2 358 L143.77 359.58 L143.37 361.29 L142.97 363.09 L142.59 364.94 L142.2 366.79 L141.81 368.62 L141.42 370.37 L141 372 L140.59 373.5 L140.2 374.9 L139.82 376.23 L139.43 377.52 L139 378.81 L138.53 380.13 L138.01 381.52 L137.4 383 L136.69 384.64 L135.87 386.43 L134.99 388.31 L134.06 390.21 L133.13 392.06 L132.22 393.8 L131.37 395.37 L130.6 396.7 L129.91 397.78 L129.27 398.68 L128.66 399.42 L128.09 400.04 L127.54 400.57 L127.01 401.05 L126.5 401.52 L126 402 L125.53 402.55 L125.12 403.15 L124.73 403.75 L124.36 404.29 L123.98 404.71 L123.58 404.96 L123.12 404.97 L122.6 404.7 L122 404.1 L121.33 403.2 L120.62 402.07 L119.88 400.77 L119.13 399.35 L118.39 397.88 L117.67 396.41 L117 395 L116.36 393.6 L115.73 392.11 L115.11 390.58 L114.51 389.02 L113.92 387.45 L113.36 385.91 L112.81 384.42 L112.3 383 L111.82 381.66 L111.37 380.38 L110.95 379.15 L110.54 377.94 L110.15 376.74 L109.77 375.52 L109.39 374.28 L109 373 L108.61 371.66 L108.22 370.26 L107.84 368.84 L107.47 367.41 L107.1 365.99 L106.73 364.6 L106.36 363.27 L106 362 L105.64 360.64 L105.3 359.09 L104.95 357.49 L104.61 355.97 L104.27 354.67 L103.92 353.72 L103.57 353.25 L103.2 353.4 L102.82 354.25 L102.42 355.7 L102.02 357.63 L101.61 359.91 L101.2 362.42 L100.8 365.02 L100.39 367.59 L100 370 L99.61 372.37 L99.23 374.87 L98.86 377.45 L98.48 380.07 L98.11 382.68 L97.74 385.24 L97.37 387.69 L97 390 L96.63 392.23 L96.26 394.45 L95.89 396.63 L95.52 398.72 L95.16 400.69 L94.8 402.5 L94.45 404.12 L94.1 405.5 L93.76 406.62 L93.44 407.49 L93.13 408.17 L92.82 408.69 L92.51 409.1 L92.19 409.42 L91.85 409.71 L91.5 410 L91.11 410.25 L90.67 410.4 L90.2 410.47 L89.74 410.48 L89.29 410.46 L88.89 410.42 L88.55 410.4 L88.3 410.4Z" fill="#0B4A7A" fill-opacity="0.4" stroke="none" clip-path="url(#ca)"/>
<path d="M88.3 410.08 L88.55 410.05 L88.89 410.06 L89.29 410.06 L89.74 410.05 L90.2 410 L90.67 409.89 L91.11 409.71 L91.5 409.43 L91.85 409.11 L92.19 408.8 L92.51 408.45 L92.82 408.02 L93.13 407.47 L93.44 406.77 L93.76 405.87 L94.1 404.73 L94.45 403.32 L94.8 401.67 L95.16 399.83 L95.52 397.83 L95.89 395.71 L96.26 393.51 L96.63 391.26 L97 389 L97.37 386.45 L97.74 383.74 L98.11 380.94 L98.48 378.08 L98.86 375.21 L99.23 372.38 L99.61 369.62 L100 367 L100.39 364.28 L100.8 361.4 L101.2 358.48 L101.61 355.65 L102.02 353.05 L102.42 350.81 L102.82 349.04 L103.2 347.9 L103.57 348.08 L103.92 348.87 L104.27 350.13 L104.61 351.74 L104.95 353.56 L105.3 355.46 L105.64 357.32 L106 359 L106.36 360.45 L106.73 361.97 L107.1 363.54 L107.47 365.15 L107.84 366.76 L108.22 368.38 L108.61 369.96 L109 371.5 L109.39 372.98 L109.77 374.41 L110.15 375.75 L110.54 376.99 L110.95 378.24 L111.37 379.52 L111.82 380.84 L112.3 382.23 L112.81 383.7 L113.36 385.25 L113.92 386.85 L114.51 388.47 L115.11 390.08 L115.73 391.6 L116.36 393.08 L117 394.47 L117.67 395.87 L118.39 397.33 L119.13 398.79 L119.88 400.2 L120.62 401.49 L121.33 402.61 L122 403.5 L122.6 404.09 L123.12 404.36 L123.58 404.34 L123.98 404.08 L124.36 403.65 L124.73 403.11 L125.12 402.5 L125.53 401.9 L126 401.34 L126.5 400.86 L127.01 400.38 L127.54 399.89 L128.09 399.35 L128.66 398.72 L129.27 397.97 L129.91 397.07 L130.6 395.98 L131.37 394.64 L132.22 393.06 L133.13 391.3 L134.06 389.43 L134.99 387.52 L135.87 385.63 L136.69 383.47 L137.4 381.45 L138.01 379.65 L138.53 377.98 L139 376.41 L139.43 374.89 L139.82 373.39 L140.2 371.86 L140.59 370.25 L141 368.53 L141.42 366.68 L141.81 364.72 L142.2 362.69 L142.59 360.64 L142.97 358.6 L143.37 356.61 L143.77 354.69 L144.2 352.9 L144.64 351.21 L145.1 349.59 L145.57 348.02 L146.05 346.51 L146.53 345.05 L147.02 343.65 L147.51 342.3 L148 341 L148.49 339.74 L149 338.52 L149.5 337.35 L150.01 336.23 L150.52 335.31 L151.02 334.46 L151.52 333.68 L152 333 L152.47 332.4 L152.93 331.89 L153.39 331.45 L153.84 331.09 L154.28 330.8 L154.72 330.57 L155.16 330.41 L155.6 330.3 L156.02 330.22 L156.41 330.39 L156.79 330.59 L157.17 330.87 L157.57 331.27 L157.99 331.86 L158.47 332.67 L159 333.75 L159.62 335.17 L160.32 336.91 L161.07 338.89 L161.86 341.04 L162.64 343.44 L163.39 345.89 L164.09 348.27 L164.7 350.5 L165.23 352.59 L165.69 354.61 L166.1 356.61 L166.48 358.59 L166.85 360.6 L167.21 362.65 L167.59 364.78 L168 367 L168.44 369.28 L168.88 371.68 L169.34 374.15 L169.79 376.67 L170.25 379.19 L170.71 381.67 L171.16 384.09 L171.6 386.4 L172.04 388.65 L172.47 390.77 L172.91 392.87 L173.34 394.91 L173.76 396.87 L174.18 398.71 L174.6 400.41 L175 401.92 L175.37 403.26 L175.68 404.44 L175.98 405.48 L176.28 406.35 L176.6 407.11 L176.98 407.78 L177.44 408.37 L178 408.9 L178.63 409.33 L179.29 409.62 L180 409.81 L180.78 409.93 L181.64 409.98 L182.62 410.02 L183.73 410.05 L185 410.1 L186.53 410.18 L188.35 410.25 L190.36 410.32 L192.45 410.36 L194.52 410.37 L196.47 410.33 L198.2 410.25 L199.6 410.1 L200.64 409.89 L201.4 409.61 L201.96 409.29 L202.39 408.92 L202.75 408.52 L203.13 408.1 L203.59 407.65 L204.2 407.2 L204.96 406.71 L205.81 406.18 L206.71 405.6 L207.64 405.01 L208.56 404.42 L209.45 403.84 L210.27 403.3 L211 402.8 L211.64 402.35 L212.21 401.94 L212.73 401.56 L213.21 401.19 L213.66 400.83 L214.1 400.47 L214.54 400.1 L215 399.7 L215.46 399.28 L215.92 398.84 L216.37 398.39 L216.81 397.94 L217.24 397.49 L217.66 397.05 L218.09 396.62 L218.5 396.2 L218.91 395.83 L219.31 395.53 L219.71 395.25 L220.11 394.98 L220.49 394.66 L220.87 394.28 L221.24 393.81 L221.6 393.2 L221.95 392.53 L222.3 391.85 L222.64 391.11 L222.97 390.29 L223.29 389.34 L223.6 388.22 L223.91 386.89 L224.2 385 L224.48 382.68 L224.74 380.07 L225 377.24 L225.24 374.26 L225.48 371.21 L225.72 368.16 L225.96 365.18 L226.2 362.34 L226.44 359.52 L226.68 356.29 L226.92 352.95 L227.15 349.66 L227.38 346.51 L227.62 343.59 L227.86 340.99 L228.1 338.8 L228.34 337.08 L228.56 335.99 L228.79 335.8 L229.01 335.86 L229.25 336.09 L229.51 336.43 L229.79 336.81 L230.1 337.16 L230.44 337.56 L230.79 338.1 L231.16 338.66 L231.55 339.17 L231.97 339.7 L232.41 340.23 L232.89 340.72 L233.4 341.13 L233.96 341.46 L234.56 341.75 L235.21 342.06 L235.88 342.37 L236.56 342.68 L237.25 343 L237.93 343.36 L238.6 343.76 L239.26 344.19 L239.92 344.63 L240.58 345.1 L241.25 345.57 L241.92 346.05 L242.58 346.55 L243.24 347.09 L243.9 347.66 L244.55 348.25 L245.2 348.87 L245.85 349.52 L246.5 350.2 L247.15 350.91 L247.8 351.67 L248.45 352.44 L249.1 353.26 L249.76 354.14 L250.42 355.09 L251.08 356.09 L251.75 357.12 L252.42 358.18 L253.08 359.26 L253.74 360.34 L254.4 361.4 L255.06 362.66 L255.74 363.99 L256.41 365.35 L257.08 366.71 L257.74 368.03 L258.39 369.28 L259.01 370.41 L259.6 371.4 L260.14 372.18 L260.63 372.86 L261.08 373.44 L261.52 373.94 L261.97 374.37 L262.45 374.76 L262.99 375.11 L263.6 375.44 L264.3 375.7 L265.08 375.83 L265.91 375.8 L266.77 375.73 L267.64 375.67 L268.5 375.67 L269.33 375.77 L270.1 376.02 L270.82 376.41 L271.51 376.9 L272.18 377.41 L272.83 377.98 L273.47 378.6 L274.11 379.23 L274.75 379.86 L275.4 380.46 L276.07 381.05 L276.77 381.65 L277.47 382.27 L278.17 382.94 L278.84 383.74 L279.49 384.53 L280.08 385.3 L280.6 386.06 L281.05 386.77 L281.43 387.44 L281.76 388.1 L282.06 388.77 L282.33 389.56 L282.6 390.37 L282.89 391.25 L283.2 392.22 L283.52 393.3 L283.81 394.46 L284.1 395.7 L284.39 396.96 L284.7 398.23 L285.05 399.45 L285.44 400.46 L285.9 401.35 L286.41 402.14 L286.94 402.84 L287.5 403.49 L288.11 404.08 L288.77 404.63 L289.48 405.15 L290.26 405.65 L291.1 406.15 L291.85 406.59 L292.44 406.88 L293 407.09 L293.66 407.28 L294.56 407.45 L295.83 407.6 L297.59 407.74 L300 407.9 L303.4 408.06 L307.82 408.22 L312.89 408.36 L318.26 408.5 L323.55 408.62 L328.42 408.73 L332.49 408.83 L335.4 408.9 L335.4 409.5 L332.49 409.43 L328.42 409.33 L323.55 409.22 L318.26 409.1 L312.89 408.96 L307.82 408.82 L303.4 408.66 L300 408.5 L297.59 408.34 L295.83 408.2 L294.56 408.05 L293.66 407.88 L293 407.69 L292.44 407.48 L291.85 407.24 L291.1 407.05 L290.26 406.85 L289.48 406.61 L288.77 406.34 L288.11 406.01 L287.5 405.63 L286.94 405.18 L286.41 404.65 L285.9 404.05 L285.44 403.31 L285.05 402.43 L284.7 401.59 L284.39 400.7 L284.1 399.78 L283.81 398.89 L283.52 398.08 L283.2 397.38 L282.89 396.79 L282.6 396.25 L282.33 395.76 L282.06 395.3 L281.76 394.78 L281.43 394.24 L281.05 393.7 L280.6 393.15 L280.08 392.57 L279.49 392.01 L278.84 391.44 L278.17 390.88 L277.47 390.21 L276.77 389.5 L276.07 388.81 L275.4 388.14 L274.75 387.46 L274.11 386.76 L273.47 386.05 L272.83 385.36 L272.18 384.7 L271.51 384.12 L270.82 383.69 L270.1 383.38 L269.33 383.23 L268.5 383.24 L267.64 383.34 L266.77 383.51 L265.91 383.68 L265.08 383.82 L264.3 383.96 L263.6 383.96 L262.99 383.85 L262.45 383.7 L261.97 383.49 L261.52 383.23 L261.08 382.89 L260.63 382.48 L260.14 381.98 L259.6 381.4 L259.01 380.75 L258.39 379.98 L257.74 379.1 L257.08 378.16 L256.41 377.19 L255.74 376.22 L255.06 375.28 L254.4 374.4 L253.74 373.4 L253.08 372.38 L252.42 371.37 L251.75 370.36 L251.08 369.39 L250.42 368.45 L249.76 367.57 L249.1 366.74 L248.45 365.98 L247.8 365.27 L247.15 364.63 L246.5 364.03 L245.85 363.46 L245.2 362.93 L244.55 362.43 L243.9 361.94 L243.24 361.49 L242.58 361.07 L241.92 360.69 L241.25 360.33 L240.58 360.02 L239.92 359.74 L239.26 359.49 L238.6 359.24 L237.93 359.03 L237.25 358.88 L236.56 358.75 L235.88 358.63 L235.21 358.52 L234.56 358.37 L233.96 358.14 L233.4 357.87 L232.89 357.52 L232.41 357.08 L231.97 356.6 L231.55 356.11 L231.16 355.64 L230.79 355.35 L230.44 355.23 L230.1 355.24 L229.79 355.26 L229.51 355.22 L229.25 355.19 L229.01 355.24 L228.79 355.46 L228.56 355.91 L228.34 356.09 L228.1 356.4 L227.86 357.14 L227.62 358.31 L227.38 359.82 L227.15 361.56 L226.92 363.44 L226.68 365.37 L226.44 367.34 L226.2 369.46 L225.96 371.58 L225.72 373.85 L225.48 376.2 L225.24 378.54 L225 380.79 L224.74 382.87 L224.48 384.7 L224.2 386.2 L223.91 387.49 L223.6 388.82 L223.29 389.94 L222.97 390.89 L222.64 391.71 L222.3 392.45 L221.95 393.13 L221.6 393.8 L221.24 394.41 L220.87 394.88 L220.49 395.26 L220.11 395.58 L219.71 395.85 L219.31 396.13 L218.91 396.43 L218.5 396.8 L218.09 397.22 L217.66 397.65 L217.24 398.09 L216.81 398.54 L216.37 398.99 L215.92 399.44 L215.46 399.88 L215 400.3 L214.54 400.7 L214.1 401.07 L213.66 401.43 L213.21 401.79 L212.73 402.16 L212.21 402.54 L211.64 402.95 L211 403.4 L210.27 403.9 L209.45 404.44 L208.56 405.02 L207.64 405.61 L206.71 406.2 L205.81 406.78 L204.96 407.31 L204.2 407.8 L203.59 408.25 L203.13 408.7 L202.75 409.12 L202.39 409.52 L201.96 409.89 L201.4 410.21 L200.64 410.49 L199.6 410.7 L198.2 410.85 L196.47 410.93 L194.52 410.97 L192.45 410.96 L190.36 410.92 L188.35 410.85 L186.53 410.78 L185 410.7 L183.73 410.65 L182.62 410.62 L181.64 410.58 L180.78 410.53 L180 410.41 L179.29 410.22 L178.63 409.93 L178 409.5 L177.44 408.97 L176.98 408.38 L176.6 407.71 L176.28 406.95 L175.98 406.09 L175.68 405.15 L175.37 404.08 L175 402.88 L174.6 401.5 L174.18 399.95 L173.76 398.25 L173.34 396.44 L172.91 394.55 L172.47 392.6 L172.04 390.63 L171.6 388.8 L171.16 386.93 L170.71 384.97 L170.25 382.93 L169.79 380.87 L169.34 378.81 L168.88 376.79 L168.44 374.84 L168 373 L167.59 371.32 L167.21 369.71 L166.85 368.14 L166.48 366.62 L166.1 365.14 L165.69 363.7 L165.23 362.29 L164.7 360.9 L164.09 359.49 L163.39 358.04 L162.64 356.59 L161.86 355.16 L161.07 353.66 L160.32 352.31 L159.62 351.16 L159 350.25 L158.47 349.61 L157.99 349.2 L157.57 348.97 L157.17 348.89 L156.79 348.93 L156.41 349.05 L156.02 349.21 L155.6 349.1 L155.16 348.99 L154.72 348.93 L154.28 348.94 L153.84 349.01 L153.39 349.15 L152.93 349.36 L152.47 349.64 L152 350 L151.52 350.44 L151.02 350.97 L150.52 351.57 L150.01 352.24 L149.5 352.85 L149 353.52 L148.49 354.23 L148 355 L147.51 355.81 L147.02 356.67 L146.53 357.58 L146.05 358.56 L145.57 359.59 L145.1 360.69 L144.64 361.86 L144.2 363.1 L143.77 364.47 L143.37 365.97 L142.97 367.58 L142.59 369.23 L142.2 370.9 L141.81 372.52 L141.42 374.05 L141 375.47 L140.59 376.75 L140.2 377.94 L139.82 379.06 L139.43 380.15 L139 381.21 L138.53 382.28 L138.01 383.39 L137.4 384.55 L136.69 385.81 L135.87 387.23 L134.99 389.09 L134.06 390.98 L133.13 392.82 L132.22 394.55 L131.37 396.1 L130.6 397.42 L129.91 398.5 L129.27 399.38 L128.66 400.11 L128.09 400.72 L127.54 401.25 L127.01 401.73 L126.5 402.18 L126 402.66 L125.53 403.2 L125.12 403.79 L124.73 404.39 L124.36 404.92 L123.98 405.34 L123.58 405.58 L123.12 405.59 L122.6 405.31 L122 404.7 L121.33 403.79 L120.62 402.65 L119.88 401.34 L119.13 399.91 L118.39 398.43 L117.67 396.95 L117 395.53 L116.36 394.12 L115.73 392.63 L115.11 391.08 L114.51 389.57 L113.92 388.06 L113.36 386.58 L112.81 385.14 L112.3 383.77 L111.82 382.48 L111.37 381.25 L110.95 380.05 L110.54 378.88 L110.15 377.72 L109.77 376.64 L109.39 375.59 L109 374.5 L108.61 373.35 L108.22 372.15 L107.84 370.92 L107.47 369.68 L107.1 368.44 L106.73 367.24 L106.36 366.09 L106 365 L105.64 363.96 L105.3 362.72 L104.95 361.43 L104.61 360.21 L104.27 359.22 L103.92 358.58 L103.57 358.42 L103.2 358.9 L102.82 359.45 L102.42 360.59 L102.02 362.21 L101.61 364.17 L101.2 366.36 L100.8 368.64 L100.39 370.9 L100 373 L99.61 375.11 L99.23 377.36 L98.86 379.69 L98.48 382.06 L98.11 384.42 L97.74 386.73 L97.37 388.94 L97 391 L96.63 393.2 L96.26 395.39 L95.89 397.54 L95.52 399.6 L95.16 401.55 L94.8 403.33 L94.45 404.92 L94.1 406.27 L93.76 407.37 L93.44 408.22 L93.13 408.87 L92.82 409.37 L92.51 409.75 L92.19 410.05 L91.85 410.31 L91.5 410.57 L91.11 410.79 L90.67 410.91 L90.2 410.94 L89.74 410.92 L89.29 410.86 L88.89 410.79 L88.55 410.74 L88.3 410.72Z" fill="#0B4A7A" fill-opacity="0.55" stroke="none" clip-path="url(#ca)"/>
<path d="M88.3 410.4 L88.55 410.4 L88.89 410.42 L89.29 410.46 L89.74 410.48 L90.2 410.47 L90.67 410.4 L91.11 410.25 L91.5 410 L91.85 409.71 L92.19 409.42 L92.51 409.1 L92.82 408.69 L93.13 408.17 L93.44 407.49 L93.76 406.62 L94.1 405.5 L94.45 404.12 L94.8 402.5 L95.16 400.69 L95.52 398.72 L95.89 396.63 L96.26 394.45 L96.63 392.23 L97 390 L97.37 387.69 L97.74 385.24 L98.11 382.68 L98.48 380.07 L98.86 377.45 L99.23 374.87 L99.61 372.37 L100 370 L100.39 367.59 L100.8 365.02 L101.2 362.42 L101.61 359.91 L102.02 357.63 L102.42 355.7 L102.82 354.25 L103.2 353.4 L103.57 353.25 L103.92 353.72 L104.27 354.67 L104.61 355.97 L104.95 357.49 L105.3 359.09 L105.64 360.64 L106 362 L106.36 363.27 L106.73 364.6 L107.1 365.99 L107.47 367.41 L107.84 368.84 L108.22 370.26 L108.61 371.66 L109 373 L109.39 374.28 L109.77 375.52 L110.15 376.74 L110.54 377.94 L110.95 379.15 L111.37 380.38 L111.82 381.66 L112.3 383 L112.81 384.42 L113.36 385.91 L113.92 387.45 L114.51 389.02 L115.11 390.58 L115.73 392.11 L116.36 393.6 L117 395 L117.67 396.41 L118.39 397.88 L119.13 399.35 L119.88 400.77 L120.62 402.07 L121.33 403.2 L122 404.1 L122.6 404.7 L123.12 404.97 L123.58 404.96 L123.98 404.71 L124.36 404.29 L124.73 403.75 L125.12 403.15 L125.53 402.55 L126 402 L126.5 401.52 L127.01 401.05 L127.54 400.57 L128.09 400.04 L128.66 399.42 L129.27 398.68 L129.91 397.78 L130.6 396.7 L131.37 395.37 L132.22 393.8 L133.13 392.06 L134.06 390.21 L134.99 388.31 L135.87 386.43 L136.69 384.64 L137.4 383 L138.01 381.52 L138.53 380.13 L139 378.81 L139.43 377.52 L139.82 376.23 L140.2 374.9 L140.59 373.5 L141 372 L141.42 370.37 L141.81 368.62 L142.2 366.79 L142.59 364.94 L142.97 363.09 L143.37 361.29 L143.77 359.58 L144.2 358 L144.64 356.53 L145.1 355.14 L145.57 353.8 L146.05 352.53 L146.53 351.32 L147.02 350.16 L147.51 349.06 L148 348 L148.49 346.99 L149 346.02 L149.5 345.1 L150.01 344.24 L150.52 343.44 L151.02 342.71 L151.52 342.06 L152 341.5 L152.47 341.02 L152.93 340.62 L153.39 340.3 L153.84 340.05 L154.28 339.87 L154.72 339.75 L155.16 339.7 L155.6 339.7 L156.02 339.71 L156.41 339.72 L156.79 339.76 L157.17 339.88 L157.57 340.12 L157.99 340.53 L158.47 341.14 L159 342 L159.62 343.16 L160.32 344.61 L161.07 346.28 L161.86 348.1 L162.64 350.02 L163.39 351.97 L164.09 353.88 L164.7 355.7 L165.23 357.44 L165.69 359.16 L166.1 360.87 L166.48 362.61 L166.85 364.37 L167.21 366.18 L167.59 368.05 L168 370 L168.44 372.06 L168.88 374.23 L169.34 376.48 L169.79 378.77 L170.25 381.06 L170.71 383.32 L171.16 385.51 L171.6 387.6 L172.04 389.64 L172.47 391.68 L172.91 393.71 L173.34 395.68 L173.76 397.56 L174.18 399.33 L174.6 400.95 L175 402.4 L175.37 403.67 L175.68 404.79 L175.98 405.78 L176.28 406.65 L176.6 407.41 L176.98 408.08 L177.44 408.67 L178 409.2 L178.63 409.63 L179.29 409.92 L180 410.11 L180.78 410.23 L181.64 410.28 L182.62 410.32 L183.73 410.35 L185 410.4 L186.53 410.48 L188.35 410.55 L190.36 410.62 L192.45 410.66 L194.52 410.67 L196.47 410.63 L198.2 410.55 L199.6 410.4 L200.64 410.19 L201.4 409.91 L201.96 409.59 L202.39 409.22 L202.75 408.82 L203.13 408.4 L203.59 407.95 L204.2 407.5 L204.96 407.01 L205.81 406.48 L206.71 405.9 L207.64 405.31 L208.56 404.72 L209.45 404.14 L210.27 403.6 L211 403.1 L211.64 402.65 L212.21 402.24 L212.73 401.86 L213.21 401.49 L213.66 401.13 L214.1 400.77 L214.54 400.4 L215 400 L215.46 399.58 L215.92 399.14 L216.37 398.69 L216.81 398.24 L217.24 397.79 L217.66 397.35 L218.09 396.92 L218.5 396.5 L218.91 396.13 L219.31 395.83 L219.71 395.55 L220.11 395.28 L220.49 394.96 L220.87 394.58 L221.24 394.11 L221.6 393.5 L221.95 392.83 L222.3 392.15 L222.64 391.41 L222.97 390.59 L223.29 389.64 L223.6 388.52 L223.91 387.19 L224.2 385.6 L224.48 383.69 L224.74 381.47 L225 379.02 L225.24 376.4 L225.48 373.7 L225.72 371 L225.96 368.38 L226.2 365.9 L226.44 363.43 L226.68 360.83 L226.92 358.19 L227.15 355.61 L227.38 353.16 L227.62 350.95 L227.86 349.07 L228.1 347.6 L228.34 346.58 L228.56 345.95 L228.79 345.63 L229.01 345.55 L229.25 345.64 L229.51 345.82 L229.79 346.03 L230.1 346.2 L230.44 346.4 L230.79 346.73 L231.16 347.15 L231.55 347.64 L231.97 348.15 L232.41 348.66 L232.89 349.12 L233.4 349.5 L233.96 349.8 L234.56 350.06 L235.21 350.29 L235.88 350.5 L236.56 350.71 L237.25 350.94 L237.93 351.2 L238.6 351.5 L239.26 351.84 L239.92 352.19 L240.58 352.56 L241.25 352.95 L241.92 353.37 L242.58 353.81 L243.24 354.29 L243.9 354.8 L244.55 355.34 L245.2 355.9 L245.85 356.49 L246.5 357.11 L247.15 357.77 L247.8 358.47 L248.45 359.21 L249.1 360 L249.76 360.85 L250.42 361.77 L251.08 362.74 L251.75 363.74 L252.42 364.77 L253.08 365.82 L253.74 366.87 L254.4 367.9 L255.06 368.97 L255.74 370.1 L256.41 371.27 L257.08 372.44 L257.74 373.57 L258.39 374.63 L259.01 375.58 L259.6 376.4 L260.14 377.08 L260.63 377.67 L261.08 378.16 L261.52 378.58 L261.97 378.93 L262.45 379.23 L262.99 379.48 L263.6 379.7 L264.3 379.83 L265.08 379.82 L265.91 379.74 L266.77 379.62 L267.64 379.51 L268.5 379.45 L269.33 379.5 L270.1 379.7 L270.82 380.05 L271.51 380.51 L272.18 381.06 L272.83 381.67 L273.47 382.32 L274.11 382.99 L274.75 383.66 L275.4 384.3 L276.07 384.93 L276.77 385.58 L277.47 386.24 L278.17 386.91 L278.84 387.59 L279.49 388.27 L280.08 388.94 L280.6 389.6 L281.05 390.24 L281.43 390.84 L281.76 391.44 L282.06 392.04 L282.33 392.66 L282.6 393.31 L282.89 394.02 L283.2 394.8 L283.52 395.69 L283.81 396.68 L284.1 397.74 L284.39 398.83 L284.7 399.91 L285.05 400.94 L285.44 401.89 L285.9 402.7 L286.41 403.39 L286.94 404.01 L287.5 404.56 L288.11 405.04 L288.77 405.48 L289.48 405.88 L290.26 406.25 L291.1 406.6 L291.85 406.91 L292.44 407.18 L293 407.39 L293.66 407.58 L294.56 407.75 L295.83 407.9 L297.59 408.04 L300 408.2 L303.4 408.36 L307.82 408.52 L312.89 408.66 L318.26 408.8 L323.55 408.92 L328.42 409.03 L332.49 409.13 L335.4 409.2" fill="none" stroke="#0B4A7A" stroke-width="3" stroke-linejoin="round" stroke-linecap="round" stroke-opacity="1" clip-path="url(#ca)"/>
<path d="M88.3 410.4 L88.51 410.35 L88.8 410.3 L89.15 410.25 L89.52 410.18 L89.92 410.08 L90.31 409.94 L90.68 409.75 L91 409.5 L91.28 409.19 L91.54 408.84 L91.78 408.45 L92.01 408.02 L92.24 407.54 L92.48 407.01 L92.73 406.43 L93 405.8 L93.29 405.07 L93.6 404.21 L93.92 403.28 L94.25 402.31 L94.58 401.36 L94.9 400.46 L95.21 399.66 L95.5 399 L95.77 398.46 L96.04 397.98 L96.29 397.56 L96.53 397.22 L96.77 396.95 L97.01 396.78 L97.25 396.69 L97.5 396.7 L97.75 396.81 L98 397.02 L98.25 397.32 L98.5 397.71 L98.75 398.17 L99 398.71 L99.25 399.32 L99.5 400 L99.75 400.81 L99.99 401.8 L100.23 402.9 L100.47 404.06 L100.71 405.2 L100.96 406.28 L101.23 407.24 L101.5 408 L101.49 408.58 L101.07 409.05 L100.49 409.42 L100 409.7 L99.85 409.92 L100.3 410.1 L101.6 410.25 L104 410.4 L107.54 410.51 L111.98 410.57 L117.21 410.58 L123.06 410.55 L129.41 410.51 L136.11 410.46 L143.02 410.42 L150 410.4 L157.69 410.42 L166.49 410.46 L175.92 410.51 L185.49 410.55 L194.72 410.58 L203.13 410.57 L210.21 410.51 L215.5 410.4 L218.8 410.23 L220.51 410.02 L220.97 409.77 L220.58 409.48 L219.67 409.16 L218.63 408.8 L217.82 408.42 L217.6 408 L217.79 407.53 L217.95 406.98 L218.09 406.39 L218.22 405.77 L218.35 405.16 L218.46 404.55 L218.58 404 L218.7 403.5 L218.82 403.03 L218.94 402.55 L219.05 402.08 L219.16 401.64 L219.26 401.27 L219.37 400.97 L219.48 400.77 L219.6 400.7 L219.72 400.77 L219.84 400.95 L219.96 401.24 L220.08 401.61 L220.21 402.04 L220.33 402.51 L220.46 403.01 L220.6 403.5 L220.74 404.04 L220.87 404.67 L221.01 405.35 L221.16 406.06 L221.3 406.76 L221.46 407.42 L221.62 408.01 L221.8 408.5 L221.24 408.9 L219.62 409.24 L217.58 409.52 L215.76 409.76 L214.8 409.96 L215.34 410.13 L218.03 410.27 L223.5 410.4 L232.95 410.49 L246.27 410.53 L262.17 410.54 L279.36 410.52 L296.53 410.48 L312.39 410.44 L325.65 410.41 L335 410.4" fill="none" stroke="#79ACE0" stroke-width="3" stroke-linejoin="round" stroke-linecap="round" stroke-opacity="1" clip-path="url(#ca)"/>
<line x1="88.6" y1="20.3" x2="334.9" y2="20.3" stroke="#1a1a1a" stroke-width="1.3"/>
<line x1="88.6" y1="421" x2="334.9" y2="421" stroke="#1a1a1a" stroke-width="1.3"/>
<line x1="88.6" y1="106.2" x2="334.9" y2="106.2" stroke="#1a1a1a" stroke-width="1.3"/>
<line x1="88.6" y1="263.8" x2="334.9" y2="263.8" stroke="#1a1a1a" stroke-width="1.3"/>
<line x1="88.6" y1="19.7" x2="88.6" y2="421.6" stroke="#1a1a1a" stroke-width="1.3"/>
<line x1="334.9" y1="19.7" x2="334.9" y2="421.6" stroke="#1a1a1a" stroke-width="1.3"/>
<line x1="113.23" y1="106.2" x2="113.23" y2="104.2" stroke="#1a1a1a" stroke-width="1.1"/>
<line x1="137.86" y1="106.2" x2="137.86" y2="102.2" stroke="#1a1a1a" stroke-width="1.1"/>
<line x1="162.49" y1="106.2" x2="162.49" y2="104.2" stroke="#1a1a1a" stroke-width="1.1"/>
<line x1="187.12" y1="106.2" x2="187.12" y2="102.2" stroke="#1a1a1a" stroke-width="1.1"/>
<line x1="211.75" y1="106.2" x2="211.75" y2="104.2" stroke="#1a1a1a" stroke-width="1.1"/>
<line x1="236.38" y1="106.2" x2="236.38" y2="102.2" stroke="#1a1a1a" stroke-width="1.1"/>
<line x1="261.01" y1="106.2" x2="261.01" y2="104.2" stroke="#1a1a1a" stroke-width="1.1"/>
<line x1="285.64" y1="106.2" x2="285.64" y2="102.2" stroke="#1a1a1a" stroke-width="1.1"/>
<line x1="310.27" y1="106.2" x2="310.27" y2="104.2" stroke="#1a1a1a" stroke-width="1.1"/>
<line x1="113.23" y1="263.8" x2="113.23" y2="261.8" stroke="#1a1a1a" stroke-width="1.1"/>
<line x1="137.86" y1="263.8" x2="137.86" y2="259.8" stroke="#1a1a1a" stroke-width="1.1"/>
<line x1="162.49" y1="263.8" x2="162.49" y2="261.8" stroke="#1a1a1a" stroke-width="1.1"/>
<line x1="187.12" y1="263.8" x2="187.12" y2="259.8" stroke="#1a1a1a" stroke-width="1.1"/>
<line x1="211.75" y1="263.8" x2="211.75" y2="261.8" stroke="#1a1a1a" stroke-width="1.1"/>
<line x1="236.38" y1="263.8" x2="236.38" y2="259.8" stroke="#1a1a1a" stroke-width="1.1"/>
<line x1="261.01" y1="263.8" x2="261.01" y2="261.8" stroke="#1a1a1a" stroke-width="1.1"/>
<line x1="285.64" y1="263.8" x2="285.64" y2="259.8" stroke="#1a1a1a" stroke-width="1.1"/>
<line x1="310.27" y1="263.8" x2="310.27" y2="261.8" stroke="#1a1a1a" stroke-width="1.1"/>
<line x1="113.23" y1="421" x2="113.23" y2="419" stroke="#1a1a1a" stroke-width="1.1"/>
<line x1="137.86" y1="421" x2="137.86" y2="417" stroke="#1a1a1a" stroke-width="1.1"/>
<line x1="162.49" y1="421" x2="162.49" y2="419" stroke="#1a1a1a" stroke-width="1.1"/>
<line x1="187.12" y1="421" x2="187.12" y2="417" stroke="#1a1a1a" stroke-width="1.1"/>
<line x1="211.75" y1="421" x2="211.75" y2="419" stroke="#1a1a1a" stroke-width="1.1"/>
<line x1="236.38" y1="421" x2="236.38" y2="417" stroke="#1a1a1a" stroke-width="1.1"/>
<line x1="261.01" y1="421" x2="261.01" y2="419" stroke="#1a1a1a" stroke-width="1.1"/>
<line x1="285.64" y1="421" x2="285.64" y2="417" stroke="#1a1a1a" stroke-width="1.1"/>
<line x1="310.27" y1="421" x2="310.27" y2="419" stroke="#1a1a1a" stroke-width="1.1"/>
<text x="88.6" y="435.6" font-size="13" text-anchor="middle">0</text>
<text x="137.86" y="435.6" font-size="13" text-anchor="middle">10</text>
<text x="187.12" y="435.6" font-size="13" text-anchor="middle">20</text>
<text x="236.38" y="435.6" font-size="13" text-anchor="middle">30</text>
<text x="285.64" y="435.6" font-size="13" text-anchor="middle">40</text>
<text x="334.9" y="435.6" font-size="13" text-anchor="middle">50</text>
<text x="211.75" y="459.3" font-size="17" text-anchor="middle">Time (µs)</text>
<line x1="85.1" y1="92.2" x2="88.6" y2="92.2" stroke="#1a1a1a" stroke-width="1.1"/>
<text x="82.4" y="96.8" font-size="13" text-anchor="end">-1</text>
<line x1="85.1" y1="63.2" x2="88.6" y2="63.2" stroke="#1a1a1a" stroke-width="1.1"/>
<text x="82.4" y="67.8" font-size="13" text-anchor="end">0</text>
<line x1="85.1" y1="34.2" x2="88.6" y2="34.2" stroke="#1a1a1a" stroke-width="1.1"/>
<text x="82.4" y="38.8" font-size="13" text-anchor="end">1</text>
<line x1="86.6" y1="77.7" x2="88.6" y2="77.7" stroke="#1a1a1a" stroke-width="1"/>
<line x1="86.6" y1="48.7" x2="88.6" y2="48.7" stroke="#1a1a1a" stroke-width="1"/>
<line x1="85.1" y1="253.3" x2="88.6" y2="253.3" stroke="#1a1a1a" stroke-width="1.1"/>
<text x="82.4" y="257.9" font-size="13" text-anchor="end">0.0</text>
<line x1="85.1" y1="211.26" x2="88.6" y2="211.26" stroke="#1a1a1a" stroke-width="1.1"/>
<text x="82.4" y="215.86" font-size="13" text-anchor="end">4.0x10<tspan font-size="9" dy="-5.4">15</tspan></text>
<line x1="85.1" y1="169.22" x2="88.6" y2="169.22" stroke="#1a1a1a" stroke-width="1.1"/>
<text x="82.4" y="173.82" font-size="13" text-anchor="end">8.0x10<tspan font-size="9" dy="-5.4">15</tspan></text>
<line x1="85.1" y1="127.18" x2="88.6" y2="127.18" stroke="#1a1a1a" stroke-width="1.1"/>
<text x="82.4" y="131.78" font-size="13" text-anchor="end">1.2x10<tspan font-size="9" dy="-5.4">16</tspan></text>
<line x1="86.6" y1="232.28" x2="88.6" y2="232.28" stroke="#1a1a1a" stroke-width="1"/>
<line x1="86.6" y1="190.24" x2="88.6" y2="190.24" stroke="#1a1a1a" stroke-width="1"/>
<line x1="86.6" y1="148.2" x2="88.6" y2="148.2" stroke="#1a1a1a" stroke-width="1"/>
<line x1="85.1" y1="410.6" x2="88.6" y2="410.6" stroke="#1a1a1a" stroke-width="1.1"/>
<text x="82.4" y="415.2" font-size="13" text-anchor="end">0.0</text>
<line x1="85.1" y1="368.48" x2="88.6" y2="368.48" stroke="#1a1a1a" stroke-width="1.1"/>
<text x="82.4" y="373.08" font-size="13" text-anchor="end">4.0x10<tspan font-size="9" dy="-5.4">15</tspan></text>
<line x1="85.1" y1="326.36" x2="88.6" y2="326.36" stroke="#1a1a1a" stroke-width="1.1"/>
<text x="82.4" y="330.96" font-size="13" text-anchor="end">8.0x10<tspan font-size="9" dy="-5.4">15</tspan></text>
<line x1="85.1" y1="284.24" x2="88.6" y2="284.24" stroke="#1a1a1a" stroke-width="1.1"/>
<text x="82.4" y="288.84" font-size="13" text-anchor="end">1.2x10<tspan font-size="9" dy="-5.4">16</tspan></text>
<line x1="86.6" y1="389.54" x2="88.6" y2="389.54" stroke="#1a1a1a" stroke-width="1"/>
<line x1="86.6" y1="347.42" x2="88.6" y2="347.42" stroke="#1a1a1a" stroke-width="1"/>
<line x1="86.6" y1="305.3" x2="88.6" y2="305.3" stroke="#1a1a1a" stroke-width="1"/>
<text x="92.6" y="124.6" font-size="17" text-anchor="start">FBD</text>
<text x="90.6" y="284.6" font-size="17" text-anchor="start">DBD</text>
<line x1="177" y1="119" x2="204.3" y2="119" stroke="#800000" stroke-width="2.4" stroke-linecap="butt"/>
<line x1="224" y1="119" x2="251.3" y2="119" stroke="#E8968E" stroke-width="2.4" stroke-linecap="butt"/>
<text x="206.5" y="123.6" font-size="11.3" text-anchor="start">N<tspan font-size="7.6" dy="2.6">2</tspan></text>
<text x="253.3" y="123.6" font-size="11.3" text-anchor="start">25% N<tspan font-size="7.6" dy="2.6">2</tspan><tspan dy="-2.6"> 75% H</tspan><tspan font-size="7.6" dy="2.6">2</tspan></text>
<line x1="177" y1="277.5" x2="204.3" y2="277.5" stroke="#0B4A7A" stroke-width="2.4" stroke-linecap="butt"/>
<line x1="224" y1="277.5" x2="251.3" y2="277.5" stroke="#79ACE0" stroke-width="2.4" stroke-linecap="butt"/>
<text x="206.5" y="282.1" font-size="11.3" text-anchor="start">N<tspan font-size="7.6" dy="2.6">2</tspan></text>
<text x="253.3" y="282.1" font-size="11.3" text-anchor="start">25% N<tspan font-size="7.6" dy="2.6">2</tspan><tspan dy="-2.6"> 75% H</tspan><tspan font-size="7.6" dy="2.6">2</tspan></text>
<path d="M431.6 62.8 L431.95 62.42 L432.42 61.91 L432.98 61.31 L433.59 60.64 L434.24 59.93 L434.9 59.22 L435.53 58.53 L436.1 57.9 L436.64 57.29 L437.18 56.66 L437.71 56.03 L438.24 55.41 L438.75 54.81 L439.25 54.25 L439.74 53.74 L440.2 53.3 L440.63 52.95 L441.03 52.69 L441.41 52.49 L441.77 52.33 L442.14 52.18 L442.51 52 L442.89 51.79 L443.3 51.5 L443.74 51.14 L444.19 50.74 L444.66 50.31 L445.13 49.85 L445.61 49.38 L446.08 48.91 L446.55 48.44 L447 48 L447.44 47.59 L447.87 47.21 L448.29 46.84 L448.71 46.46 L449.12 46.07 L449.54 45.64 L449.97 45.15 L450.4 44.6 L450.84 43.97 L451.29 43.27 L451.74 42.51 L452.19 41.73 L452.64 40.91 L453.1 40.1 L453.55 39.29 L454 38.5 L454.45 37.71 L454.92 36.89 L455.38 36.05 L455.84 35.22 L456.3 34.42 L456.75 33.65 L457.18 32.94 L457.6 32.3 L458 31.74 L458.39 31.24 L458.77 30.78 L459.14 30.37 L459.49 30 L459.84 29.65 L460.18 29.32 L460.5 29 L460.8 28.7 L461.08 28.44 L461.34 28.2 L461.59 27.99 L461.84 27.79 L462.1 27.59 L462.39 27.4 L462.7 27.2 L463.05 26.97 L463.43 26.72 L463.82 26.46 L464.23 26.21 L464.64 25.99 L465.05 25.82 L465.44 25.72 L465.8 25.7 L466.14 25.81 L466.46 26.05 L466.78 26.37 L467.08 26.73 L467.38 27.09 L467.68 27.4 L467.99 27.62 L468.3 27.7 L468.6 27.63 L468.88 27.43 L469.16 27.16 L469.44 26.82 L469.74 26.48 L470.07 26.15 L470.45 25.88 L470.9 25.7 L471.42 25.61 L472 25.57 L472.63 25.58 L473.29 25.61 L473.98 25.65 L474.67 25.69 L475.35 25.71 L476 25.7 L476.64 25.67 L477.27 25.62 L477.91 25.58 L478.55 25.52 L479.19 25.45 L479.82 25.38 L480.46 25.29 L481.1 25.2 L481.74 25.09 L482.38 24.95 L483.01 24.81 L483.65 24.65 L484.29 24.49 L484.93 24.35 L485.56 24.21 L486.2 24.1 L486.81 24 L487.39 23.91 L487.95 23.82 L488.52 23.75 L489.12 23.69 L489.77 23.64 L490.49 23.61 L491.3 23.6 L492.23 23.61 L493.26 23.65 L494.37 23.7 L495.53 23.76 L496.7 23.84 L497.86 23.92 L498.97 24.01 L500 24.1 L500.95 24.19 L501.86 24.28 L502.72 24.38 L503.57 24.48 L504.41 24.59 L505.25 24.72 L506.11 24.85 L507 25 L507.94 25.16 L508.91 25.32 L509.9 25.5 L510.9 25.69 L511.88 25.89 L512.84 26.11 L513.75 26.34 L514.6 26.6 L515.37 26.88 L516.08 27.17 L516.75 27.48 L517.38 27.81 L518.01 28.16 L518.64 28.52 L519.3 28.9 L520 29.3 L520.76 29.71 L521.55 30.14 L522.37 30.57 L523.19 31.03 L524.02 31.51 L524.82 32.01 L525.58 32.54 L526.3 33.1 L526.96 33.69 L527.57 34.32 L528.14 34.98 L528.7 35.66 L529.25 36.36 L529.81 37.07 L530.39 37.79 L531 38.5 L531.64 39.21 L532.28 39.92 L532.92 40.64 L533.59 41.37 L534.27 42.11 L534.98 42.88 L535.72 43.67 L536.5 44.5 L537.32 45.37 L538.16 46.27 L539.04 47.2 L539.94 48.16 L540.87 49.12 L541.83 50.09 L542.8 51.05 L543.8 52 L544.84 52.95 L545.93 53.93 L547.06 54.92 L548.2 55.91 L549.34 56.87 L550.47 57.8 L551.56 58.68 L552.6 59.5 L553.59 60.24 L554.56 60.9 L555.5 61.51 L556.42 62.09 L557.32 62.66 L558.19 63.24 L559.06 63.84 L559.9 64.5 L560.72 65.2 L561.51 65.91 L562.28 66.63 L563.03 67.38 L563.77 68.13 L564.51 68.91 L565.25 69.7 L566 70.5 L566.74 71.32 L567.46 72.16 L568.17 73.01 L568.88 73.88 L569.61 74.76 L570.36 75.66 L571.15 76.57 L572 77.5 L572.91 78.45 L573.87 79.43 L574.87 80.43 L575.9 81.44 L576.94 82.46 L577.98 83.48 L579.01 84.49 L580 85.5 L580.98 86.53 L581.97 87.6 L582.96 88.68 L583.94 89.76 L584.9 90.8 L585.84 91.79 L586.74 92.7 L587.6 93.5 L588.41 94.2 L589.16 94.82 L589.87 95.37 L590.56 95.86 L591.25 96.3 L591.94 96.7 L592.65 97.06 L593.4 97.4 L594.16 97.69 L594.91 97.92 L595.67 98.09 L596.44 98.24 L597.24 98.36 L598.09 98.49 L599.01 98.63 L600 98.8 L601.08 99.01 L602.24 99.24 L603.46 99.48 L604.73 99.72 L606.03 99.95 L607.35 100.17 L608.68 100.35 L610 100.5 L611.33 100.62 L612.68 100.71 L614.05 100.79 L615.44 100.84 L616.83 100.87 L618.23 100.87 L619.62 100.85 L621 100.8 L622.38 100.73 L623.77 100.64 L625.17 100.54 L626.56 100.4 L627.95 100.23 L629.32 100.03 L630.67 99.79 L632 99.5 L633.31 99.16 L634.62 98.78 L635.91 98.36 L637.19 97.9 L638.44 97.41 L639.66 96.89 L640.85 96.36 L642 95.8 L643.11 95.22 L644.19 94.59 L645.23 93.94 L646.25 93.26 L647.23 92.57 L648.19 91.88 L649.11 91.18 L650 90.5 L650.86 89.82 L651.69 89.14 L652.48 88.45 L653.25 87.76 L653.98 87.07 L654.69 86.38 L655.36 85.69 L656 85 L656.6 84.3 L657.16 83.59 L657.68 82.87 L658.17 82.16 L658.64 81.45 L659.1 80.77 L659.55 80.12 L660 79.5 L660.45 78.91 L660.89 78.32 L661.32 77.76 L661.73 77.22 L662.14 76.71 L662.53 76.25 L662.92 75.85 L663.3 75.5 L663.66 75.25 L663.99 75.09 L664.3 74.99 L664.61 74.94 L664.92 74.89 L665.25 74.82 L665.6 74.7 L666 74.5 L666.44 74.23 L666.91 73.91 L667.4 73.57 L667.92 73.19 L668.44 72.79 L668.97 72.37 L669.49 71.94 L670 71.5 L670.49 71.05 L670.98 70.59 L671.46 70.12 L671.94 69.62 L672.43 69.12 L672.93 68.59 L673.45 68.05 L674 67.5 L674.61 66.89 L675.3 66.2 L676.02 65.48 L676.75 64.75 L677.45 64.05 L678.08 63.42 L678.61 62.89 L679 62.5" fill="none" stroke="#800000" stroke-width="3" stroke-linejoin="round" stroke-linecap="round" stroke-opacity="1" clip-path="url(#cb)"/>
<path d="M431.6 60.9 L431.87 60.5 L432.24 59.97 L432.67 59.34 L433.16 58.64 L433.66 57.9 L434.17 57.16 L434.66 56.45 L435.1 55.8 L435.51 55.17 L435.91 54.52 L436.3 53.86 L436.68 53.21 L437.06 52.6 L437.44 52.05 L437.82 51.58 L438.2 51.2 L438.57 50.96 L438.93 50.85 L439.28 50.83 L439.64 50.86 L440 50.9 L440.37 50.91 L440.77 50.86 L441.2 50.7 L441.65 50.45 L442.12 50.14 L442.61 49.79 L443.12 49.41 L443.64 48.99 L444.18 48.54 L444.73 48.08 L445.3 47.6 L445.88 47.11 L446.48 46.6 L447.09 46.07 L447.72 45.52 L448.36 44.94 L449.02 44.33 L449.7 43.68 L450.4 43 L451.14 42.25 L451.92 41.41 L452.74 40.52 L453.56 39.61 L454.38 38.71 L455.17 37.85 L455.92 37.07 L456.6 36.4 L457.21 35.83 L457.78 35.31 L458.3 34.85 L458.79 34.45 L459.26 34.1 L459.73 33.79 L460.21 33.52 L460.7 33.3 L461.2 33.15 L461.7 33.11 L462.2 33.13 L462.7 33.18 L463.2 33.24 L463.7 33.26 L464.2 33.23 L464.7 33.1 L465.19 32.87 L465.65 32.58 L466.09 32.23 L466.55 31.85 L467.03 31.45 L467.55 31.05 L468.14 30.66 L468.8 30.3 L469.57 29.95 L470.43 29.58 L471.37 29.2 L472.34 28.84 L473.32 28.49 L474.28 28.18 L475.18 27.91 L476 27.7 L476.73 27.55 L477.4 27.44 L478.03 27.37 L478.62 27.33 L479.21 27.33 L479.79 27.36 L480.38 27.42 L481 27.5 L481.64 27.63 L482.29 27.82 L482.94 28.05 L483.59 28.3 L484.25 28.56 L484.9 28.81 L485.55 29.03 L486.2 29.2 L486.82 29.33 L487.4 29.45 L487.96 29.55 L488.53 29.62 L489.13 29.69 L489.77 29.74 L490.49 29.78 L491.3 29.8 L492.23 29.8 L493.26 29.76 L494.37 29.71 L495.53 29.64 L496.7 29.57 L497.86 29.52 L498.97 29.49 L500 29.5 L500.95 29.54 L501.86 29.61 L502.72 29.69 L503.57 29.79 L504.41 29.91 L505.25 30.03 L506.11 30.16 L507 30.3 L507.92 30.43 L508.86 30.56 L509.81 30.7 L510.77 30.84 L511.74 31.01 L512.7 31.2 L513.66 31.43 L514.6 31.7 L515.54 32.01 L516.47 32.36 L517.4 32.75 L518.33 33.16 L519.25 33.59 L520.17 34.05 L521.09 34.52 L522 35 L522.91 35.49 L523.81 35.98 L524.71 36.49 L525.61 37.02 L526.5 37.58 L527.4 38.17 L528.3 38.81 L529.2 39.5 L530.11 40.25 L531.02 41.06 L531.93 41.92 L532.84 42.81 L533.76 43.73 L534.67 44.66 L535.59 45.58 L536.5 46.5 L537.41 47.42 L538.33 48.36 L539.24 49.32 L540.16 50.28 L541.07 51.24 L541.98 52.18 L542.89 53.11 L543.8 54 L544.7 54.86 L545.6 55.71 L546.5 56.53 L547.39 57.34 L548.29 58.14 L549.19 58.93 L550.09 59.72 L551 60.5 L551.92 61.24 L552.84 61.93 L553.76 62.59 L554.69 63.26 L555.62 63.95 L556.55 64.7 L557.48 65.54 L558.4 66.5 L559.33 67.63 L560.29 68.93 L561.25 70.33 L562.21 71.79 L563.15 73.23 L564.05 74.6 L564.91 75.85 L565.7 76.9 L566.42 77.76 L567.06 78.47 L567.66 79.07 L568.22 79.59 L568.77 80.06 L569.32 80.51 L569.89 80.98 L570.5 81.5 L571.14 82.04 L571.8 82.57 L572.46 83.1 L573.13 83.61 L573.81 84.13 L574.5 84.65 L575.2 85.17 L575.9 85.7 L576.61 86.22 L577.34 86.72 L578.08 87.22 L578.82 87.72 L579.57 88.24 L580.32 88.81 L581.06 89.42 L581.8 90.1 L582.53 90.89 L583.26 91.8 L583.98 92.77 L584.71 93.77 L585.43 94.76 L586.15 95.69 L586.88 96.52 L587.6 97.2 L588.32 97.74 L589.03 98.17 L589.74 98.51 L590.45 98.79 L591.17 99.02 L591.89 99.22 L592.64 99.4 L593.4 99.6 L594.16 99.78 L594.91 99.92 L595.67 100.03 L596.44 100.12 L597.24 100.2 L598.09 100.28 L599.01 100.38 L600 100.5 L601.09 100.65 L602.26 100.82 L603.5 101 L604.79 101.18 L606.1 101.36 L607.42 101.53 L608.73 101.68 L610 101.8 L611.25 101.9 L612.5 101.98 L613.75 102.05 L615 102.11 L616.25 102.15 L617.5 102.18 L618.75 102.19 L620 102.2 L621.25 102.2 L622.5 102.19 L623.75 102.17 L625 102.14 L626.25 102.09 L627.5 102.02 L628.75 101.92 L630 101.8 L631.26 101.65 L632.55 101.49 L633.84 101.3 L635.12 101.09 L636.4 100.86 L637.64 100.6 L638.85 100.32 L640 100 L641.1 99.66 L642.16 99.29 L643.19 98.9 L644.19 98.48 L645.16 98.03 L646.12 97.56 L647.06 97.04 L648 96.5 L648.93 95.91 L649.84 95.28 L650.74 94.61 L651.62 93.91 L652.49 93.19 L653.34 92.46 L654.18 91.73 L655 91 L655.8 90.28 L656.57 89.56 L657.32 88.83 L658.06 88.09 L658.79 87.35 L659.52 86.58 L660.26 85.8 L661 85 L661.75 84.17 L662.5 83.32 L663.25 82.45 L664 81.56 L664.75 80.67 L665.5 79.77 L666.25 78.88 L667 78 L667.75 77.13 L668.5 76.26 L669.25 75.4 L670 74.53 L670.75 73.66 L671.5 72.79 L672.25 71.9 L673 71 L673.79 70.04 L674.64 68.98 L675.51 67.89 L676.38 66.81 L677.19 65.79 L677.92 64.86 L678.54 64.08 L679 63.5" fill="none" stroke="#E8968E" stroke-width="3" stroke-linejoin="round" stroke-linecap="round" stroke-opacity="1" clip-path="url(#cb)"/>
<path d="M432.8 63.4 L433.08 63.24 L433.45 63.04 L433.89 62.79 L434.39 62.52 L434.91 62.22 L435.45 61.92 L435.99 61.61 L436.5 61.3 L437 61 L437.5 60.7 L438.01 60.4 L438.53 60.09 L439.06 59.76 L439.6 59.4 L440.14 59.02 L440.7 58.6 L441.27 58.14 L441.84 57.65 L442.43 57.13 L443.02 56.58 L443.63 56.02 L444.24 55.45 L444.87 54.87 L445.5 54.3 L446.15 53.72 L446.81 53.13 L447.49 52.53 L448.18 51.92 L448.87 51.31 L449.56 50.7 L450.24 50.1 L450.9 49.5 L451.55 48.91 L452.19 48.32 L452.83 47.73 L453.46 47.15 L454.09 46.57 L454.72 45.98 L455.36 45.39 L456 44.8 L456.65 44.2 L457.3 43.58 L457.95 42.96 L458.6 42.34 L459.25 41.73 L459.9 41.13 L460.55 40.55 L461.2 40 L461.84 39.47 L462.48 38.97 L463.12 38.48 L463.76 38.01 L464.39 37.55 L465.03 37.1 L465.66 36.65 L466.3 36.2 L466.94 35.75 L467.57 35.3 L468.21 34.86 L468.85 34.43 L469.49 34 L470.13 33.58 L470.76 33.18 L471.4 32.8 L472.04 32.43 L472.67 32.08 L473.31 31.74 L473.95 31.41 L474.59 31.1 L475.22 30.79 L475.86 30.49 L476.5 30.2 L477.15 29.92 L477.81 29.64 L478.49 29.38 L479.16 29.12 L479.81 28.87 L480.44 28.64 L481.04 28.41 L481.6 28.2 L482.1 28 L482.56 27.82 L482.97 27.65 L483.37 27.49 L483.76 27.34 L484.15 27.19 L484.56 27.05 L485 26.9 L485.46 26.75 L485.92 26.6 L486.38 26.45 L486.86 26.31 L487.35 26.17 L487.87 26.04 L488.41 25.91 L489 25.8 L489.64 25.7 L490.33 25.6 L491.05 25.52 L491.8 25.44 L492.55 25.37 L493.3 25.3 L494.02 25.25 L494.7 25.2 L495.34 25.16 L495.95 25.13 L496.54 25.11 L497.12 25.09 L497.7 25.09 L498.28 25.09 L498.88 25.09 L499.5 25.1 L500.15 25.11 L500.81 25.12 L501.49 25.13 L502.18 25.14 L502.87 25.17 L503.56 25.22 L504.24 25.3 L504.9 25.4 L505.55 25.53 L506.19 25.69 L506.83 25.88 L507.46 26.08 L508.09 26.3 L508.72 26.53 L509.36 26.76 L510 27 L510.65 27.24 L511.3 27.49 L511.95 27.74 L512.6 28.01 L513.25 28.28 L513.9 28.57 L514.55 28.88 L515.2 29.2 L515.84 29.54 L516.48 29.9 L517.12 30.27 L517.76 30.66 L518.39 31.06 L519.03 31.47 L519.66 31.88 L520.3 32.3 L520.94 32.72 L521.58 33.15 L522.21 33.59 L522.85 34.03 L523.49 34.48 L524.12 34.95 L524.76 35.42 L525.4 35.9 L526.04 36.39 L526.67 36.9 L527.31 37.42 L527.95 37.94 L528.59 38.48 L529.22 39.01 L529.86 39.56 L530.5 40.1 L531.14 40.64 L531.77 41.19 L532.41 41.74 L533.05 42.3 L533.69 42.86 L534.32 43.43 L534.96 44.01 L535.6 44.6 L536.24 45.2 L536.88 45.81 L537.51 46.43 L538.15 47.06 L538.79 47.69 L539.42 48.32 L540.06 48.96 L540.7 49.6 L541.34 50.25 L541.99 50.9 L542.64 51.57 L543.29 52.23 L543.93 52.89 L544.57 53.54 L545.19 54.18 L545.8 54.8 L546.39 55.4 L546.97 55.98 L547.54 56.55 L548.11 57.11 L548.66 57.66 L549.21 58.21 L549.76 58.75 L550.3 59.3 L550.84 59.86 L551.38 60.43 L551.91 61.01 L552.44 61.57 L552.96 62.13 L553.48 62.66 L553.99 63.15 L554.5 63.6 L555 64.01 L555.51 64.38 L556 64.71 L556.49 65.02 L556.98 65.31 L557.46 65.59 L557.93 65.85 L558.4 66.1 L558.85 66.32 L559.29 66.49 L559.72 66.63 L560.14 66.76 L560.56 66.91 L560.99 67.08 L561.44 67.3 L561.9 67.6 L562.38 67.97 L562.86 68.39 L563.35 68.86 L563.84 69.36 L564.36 69.88 L564.88 70.42 L565.43 70.96 L566 71.5 L566.59 72.04 L567.21 72.59 L567.84 73.16 L568.49 73.74 L569.16 74.32 L569.83 74.91 L570.51 75.51 L571.2 76.1 L571.9 76.7 L572.61 77.32 L573.33 77.94 L574.06 78.56 L574.79 79.19 L575.53 79.8 L576.27 80.41 L577 81 L577.73 81.58 L578.48 82.14 L579.22 82.7 L579.96 83.26 L580.71 83.8 L581.44 84.34 L582.18 84.87 L582.9 85.4 L583.61 85.92 L584.31 86.44 L585 86.94 L585.69 87.44 L586.38 87.94 L587.08 88.43 L587.78 88.92 L588.5 89.4 L589.23 89.88 L589.97 90.35 L590.72 90.82 L591.48 91.28 L592.23 91.74 L592.99 92.2 L593.75 92.65 L594.5 93.1 L595.25 93.55 L595.99 94 L596.72 94.45 L597.46 94.9 L598.21 95.34 L598.96 95.77 L599.72 96.19 L600.5 96.6 L601.3 97 L602.12 97.4 L602.95 97.8 L603.79 98.18 L604.63 98.55 L605.46 98.89 L606.29 99.21 L607.1 99.5 L607.89 99.75 L608.68 99.98 L609.45 100.17 L610.22 100.35 L610.99 100.51 L611.75 100.65 L612.52 100.78 L613.3 100.9 L614.08 101.01 L614.87 101.1 L615.66 101.18 L616.44 101.25 L617.23 101.3 L618.02 101.35 L618.81 101.38 L619.6 101.4 L620.39 101.41 L621.17 101.41 L621.96 101.4 L622.75 101.38 L623.54 101.35 L624.33 101.31 L625.11 101.26 L625.9 101.2 L626.69 101.14 L627.47 101.08 L628.26 101.02 L629.05 100.95 L629.84 100.86 L630.62 100.74 L631.41 100.59 L632.2 100.4 L632.99 100.17 L633.78 99.89 L634.57 99.59 L635.36 99.26 L636.14 98.91 L636.93 98.54 L637.72 98.17 L638.5 97.8 L639.28 97.43 L640.05 97.05 L640.83 96.66 L641.6 96.26 L642.37 95.84 L643.15 95.41 L643.92 94.97 L644.7 94.5 L645.48 94.02 L646.27 93.51 L647.06 93 L647.84 92.46 L648.63 91.92 L649.42 91.35 L650.21 90.78 L651 90.2 L651.79 89.61 L652.58 89 L653.37 88.39 L654.16 87.76 L654.94 87.12 L655.73 86.46 L656.52 85.79 L657.3 85.1 L658.08 84.39 L658.85 83.65 L659.63 82.9 L660.4 82.13 L661.17 81.35 L661.95 80.57 L662.72 79.78 L663.5 79 L664.29 78.2 L665.11 77.38 L665.93 76.55 L666.74 75.72 L667.55 74.9 L668.34 74.09 L669.09 73.33 L669.8 72.6 L670.46 71.93 L671.07 71.31 L671.64 70.72 L672.2 70.15 L672.75 69.59 L673.31 69.02 L673.89 68.43 L674.5 67.8 L675.19 67.1 L675.95 66.33 L676.75 65.51 L677.54 64.7 L678.31 63.92 L678.99 63.22 L679.57 62.64 L680 62.2" fill="none" stroke="#0B4A7A" stroke-width="2.4" stroke-linejoin="round" stroke-linecap="round" stroke-opacity="1" clip-path="url(#cb)"/>
<path d="M431.4 63.4 L431.68 63.24 L432.05 63.04 L432.49 62.79 L432.99 62.52 L433.51 62.22 L434.05 61.92 L434.59 61.61 L435.1 61.3 L435.6 61 L436.1 60.7 L436.61 60.4 L437.13 60.09 L437.66 59.76 L438.2 59.4 L438.74 59.02 L439.3 58.6 L439.87 58.14 L440.44 57.65 L441.03 57.13 L441.62 56.58 L442.23 56.02 L442.84 55.45 L443.47 54.87 L444.1 54.3 L444.75 53.72 L445.41 53.13 L446.09 52.53 L446.78 51.92 L447.47 51.31 L448.16 50.7 L448.84 50.1 L449.5 49.5 L450.15 48.91 L450.79 48.32 L451.43 47.73 L452.06 47.15 L452.69 46.57 L453.32 45.98 L453.96 45.39 L454.6 44.8 L455.25 44.2 L455.9 43.58 L456.55 42.96 L457.2 42.34 L457.85 41.73 L458.5 41.13 L459.15 40.55 L459.8 40 L460.44 39.47 L461.08 38.97 L461.72 38.48 L462.36 38.01 L462.99 37.55 L463.63 37.1 L464.26 36.65 L464.9 36.2 L465.54 35.75 L466.18 35.3 L466.81 34.86 L467.45 34.43 L468.09 34 L468.72 33.58 L469.36 33.18 L470 32.8 L470.64 32.43 L471.27 32.08 L471.91 31.74 L472.55 31.41 L473.19 31.1 L473.82 30.79 L474.46 30.49 L475.1 30.2 L475.75 29.92 L476.41 29.64 L477.09 29.38 L477.76 29.12 L478.41 28.87 L479.04 28.64 L479.64 28.41 L480.2 28.2 L480.7 28 L481.16 27.82 L481.57 27.65 L481.97 27.49 L482.36 27.34 L482.75 27.19 L483.16 27.05 L483.6 26.9 L484.06 26.75 L484.52 26.6 L484.98 26.45 L485.46 26.31 L485.95 26.17 L486.47 26.04 L487.01 25.91 L487.6 25.8 L488.24 25.7 L488.93 25.6 L489.65 25.52 L490.4 25.44 L491.15 25.37 L491.9 25.3 L492.62 25.25 L493.3 25.2 L493.94 25.16 L494.55 25.13 L495.14 25.11 L495.72 25.09 L496.3 25.09 L496.88 25.09 L497.48 25.09 L498.1 25.1 L498.75 25.11 L499.41 25.12 L500.09 25.13 L500.78 25.14 L501.47 25.17 L502.16 25.22 L502.84 25.3 L503.5 25.4 L504.15 25.53 L504.79 25.69 L505.43 25.88 L506.06 26.08 L506.69 26.3 L507.32 26.53 L507.96 26.76 L508.6 27 L509.25 27.24 L509.9 27.49 L510.55 27.74 L511.2 28.01 L511.85 28.28 L512.5 28.57 L513.15 28.88 L513.8 29.2 L514.44 29.54 L515.08 29.9 L515.72 30.27 L516.36 30.66 L516.99 31.06 L517.63 31.47 L518.26 31.88 L518.9 32.3 L519.54 32.72 L520.18 33.15 L520.81 33.59 L521.45 34.03 L522.09 34.48 L522.73 34.95 L523.36 35.42 L524 35.9 L524.64 36.39 L525.27 36.9 L525.91 37.42 L526.55 37.94 L527.19 38.48 L527.83 39.01 L528.46 39.56 L529.1 40.1 L529.74 40.64 L530.38 41.19 L531.01 41.74 L531.65 42.3 L532.29 42.86 L532.93 43.43 L533.56 44.01 L534.2 44.6 L534.84 45.2 L535.48 45.81 L536.11 46.43 L536.75 47.06 L537.39 47.69 L538.02 48.32 L538.66 48.96 L539.3 49.6 L539.94 50.25 L540.59 50.9 L541.24 51.57 L541.89 52.23 L542.53 52.89 L543.17 53.54 L543.79 54.18 L544.4 54.8 L544.99 55.4 L545.57 55.98 L546.14 56.55 L546.71 57.11 L547.26 57.66 L547.81 58.21 L548.36 58.75 L548.9 59.3 L549.44 59.86 L549.98 60.43 L550.51 61.01 L551.04 61.57 L551.56 62.13 L552.08 62.66 L552.59 63.15 L553.1 63.6 L553.6 64.01 L554.11 64.38 L554.6 64.71 L555.09 65.02 L555.58 65.31 L556.06 65.59 L556.53 65.85 L557 66.1 L557.45 66.32 L557.89 66.49 L558.32 66.63 L558.74 66.76 L559.16 66.91 L559.59 67.08 L560.04 67.3 L560.5 67.6 L560.98 67.97 L561.46 68.39 L561.95 68.86 L562.44 69.36 L562.96 69.88 L563.48 70.42 L564.03 70.96 L564.6 71.5 L565.19 72.04 L565.81 72.59 L566.44 73.16 L567.09 73.74 L567.76 74.32 L568.43 74.91 L569.11 75.51 L569.8 76.1 L570.5 76.7 L571.21 77.32 L571.93 77.94 L572.66 78.56 L573.39 79.19 L574.13 79.8 L574.87 80.41 L575.6 81 L576.33 81.58 L577.08 82.14 L577.82 82.7 L578.56 83.26 L579.31 83.8 L580.04 84.34 L580.78 84.87 L581.5 85.4 L582.21 85.92 L582.91 86.44 L583.6 86.94 L584.29 87.44 L584.98 87.94 L585.68 88.43 L586.38 88.92 L587.1 89.4 L587.83 89.88 L588.57 90.35 L589.32 90.82 L590.08 91.28 L590.83 91.74 L591.59 92.2 L592.35 92.65 L593.1 93.1 L593.85 93.55 L594.59 94 L595.32 94.45 L596.06 94.9 L596.81 95.34 L597.56 95.77 L598.32 96.19 L599.1 96.6 L599.9 97 L600.72 97.4 L601.55 97.8 L602.39 98.18 L603.23 98.55 L604.06 98.89 L604.89 99.21 L605.7 99.5 L606.49 99.75 L607.28 99.98 L608.05 100.17 L608.82 100.35 L609.59 100.51 L610.35 100.65 L611.12 100.78 L611.9 100.9 L612.68 101.01 L613.47 101.1 L614.26 101.18 L615.04 101.25 L615.83 101.3 L616.62 101.35 L617.41 101.38 L618.2 101.4 L618.99 101.41 L619.78 101.41 L620.56 101.4 L621.35 101.38 L622.14 101.35 L622.93 101.31 L623.71 101.26 L624.5 101.2 L625.29 101.14 L626.08 101.08 L626.86 101.02 L627.65 100.95 L628.44 100.86 L629.22 100.74 L630.01 100.59 L630.8 100.4 L631.59 100.17 L632.38 99.89 L633.17 99.59 L633.96 99.26 L634.74 98.91 L635.53 98.54 L636.32 98.17 L637.1 97.8 L637.88 97.43 L638.65 97.05 L639.43 96.66 L640.2 96.26 L640.97 95.84 L641.75 95.41 L642.52 94.97 L643.3 94.5 L644.08 94.02 L644.87 93.51 L645.66 93 L646.44 92.46 L647.23 91.92 L648.02 91.35 L648.81 90.78 L649.6 90.2 L650.39 89.61 L651.18 89 L651.97 88.39 L652.76 87.76 L653.54 87.12 L654.33 86.46 L655.12 85.79 L655.9 85.1 L656.68 84.39 L657.45 83.65 L658.23 82.9 L659 82.13 L659.77 81.35 L660.55 80.57 L661.32 79.78 L662.1 79 L662.89 78.2 L663.71 77.38 L664.53 76.55 L665.34 75.72 L666.15 74.9 L666.94 74.09 L667.69 73.33 L668.4 72.6 L669.06 71.93 L669.67 71.31 L670.24 70.72 L670.8 70.15 L671.35 69.59 L671.91 69.02 L672.49 68.43 L673.1 67.8 L673.79 67.1 L674.55 66.33 L675.35 65.51 L676.14 64.7 L676.91 63.92 L677.59 63.22 L678.17 62.64 L678.6 62.2" fill="none" stroke="#79ACE0" stroke-width="3.2" stroke-linejoin="round" stroke-linecap="round" stroke-opacity="1" clip-path="url(#cb)"/>
<path d="M431.3 257.3 L431.65 257.35 L432.11 257.49 L432.67 257.67 L433.29 257.83 L433.93 257.92 L434.57 257.88 L435.17 257.67 L435.7 257.24 L436.17 256.56 L436.6 255.68 L437 254.63 L437.4 253.46 L437.8 252.2 L438.2 250.89 L438.63 249.58 L439.1 248.3 L439.61 246.98 L440.16 245.55 L440.73 244.07 L441.31 242.56 L441.89 241.08 L442.45 239.67 L443 238.38 L443.5 237.24 L443.97 236.33 L444.4 235.63 L444.82 235.06 L445.22 234.55 L445.61 234.03 L446 233.43 L446.4 232.68 L446.8 231.7 L447.22 230.29 L447.65 228.49 L448.09 226.53 L448.52 224.5 L448.94 222.46 L449.35 220.5 L449.74 218.69 L450.1 217.11 L450.42 215.71 L450.7 214.49 L450.96 213.38 L451.2 212.38 L451.44 211.48 L451.7 210.72 L451.98 210.09 L452.3 209.62 L452.65 209.37 L453.02 209.36 L453.4 209.64 L453.81 210.04 L454.23 210.5 L454.66 210.97 L455.12 211.38 L455.6 211.68 L456.08 211.88 L456.57 212.06 L457.06 212.21 L457.57 212.35 L458.13 212.49 L458.72 212.62 L459.38 212.76 L460.1 212.91 L460.93 213.06 L461.88 213.21 L462.9 213.36 L463.96 213.5 L465.01 213.66 L466.03 213.83 L466.97 214.02 L467.8 214.24 L468.51 214.46 L469.13 214.7 L469.69 214.94 L470.2 215.22 L470.69 215.55 L471.17 215.92 L471.67 216.32 L472.2 216.78 L472.76 217.27 L473.32 217.81 L473.88 218.38 L474.45 218.98 L475.02 219.62 L475.58 220.29 L476.14 221 L476.7 221.74 L477.24 222.52 L477.76 223.34 L478.26 224.21 L478.77 225.13 L479.29 226.08 L479.85 227.06 L480.45 228.06 L481.1 229.08 L481.82 230.14 L482.6 231.26 L483.41 232.4 L484.26 233.57 L485.13 234.75 L486 235.91 L486.86 236.95 L487.7 237.94 L488.54 238.93 L489.4 239.93 L490.27 240.93 L491.13 241.9 L491.98 242.83 L492.8 243.62 L493.58 244.31 L494.3 244.9 L494.92 245.37 L495.42 245.75 L495.85 246.04 L496.26 246.26 L496.71 246.42 L497.25 246.54 L497.93 246.63 L498.8 246.7 L499.9 246.73 L501.21 246.68 L502.66 246.59 L504.2 246.46 L505.76 246.32 L507.29 246.18 L508.72 246.07 L510 246 L511.14 246 L512.22 246.05 L513.24 246.14 L514.2 246.23 L515.12 246.29 L516 246.29 L516.86 246.21 L517.7 246 L518.49 245.66 L519.22 245.2 L519.91 244.65 L520.57 244.04 L521.22 243.4 L521.88 242.76 L522.57 242.15 L523.3 241.6 L524.06 241.06 L524.83 240.48 L525.61 239.89 L526.4 239.32 L527.22 238.8 L528.07 238.36 L528.96 238.01 L529.9 237.8 L530.85 237.76 L531.79 237.87 L532.74 238.11 L533.74 238.41 L534.81 238.73 L535.98 239.04 L537.26 239.27 L538.7 239.4 L540.35 239.41 L542.21 239.33 L544.22 239.2 L546.31 239.04 L548.42 238.88 L550.48 238.75 L552.43 238.68 L554.2 238.7 L555.81 238.82 L557.34 239.03 L558.79 239.3 L560.17 239.6 L561.5 239.9 L562.79 240.17 L564.05 240.38 L565.3 240.5 L566.52 240.55 L567.71 240.55 L568.86 240.5 L569.97 240.43 L571.05 240.31 L572.1 240.17 L573.12 240 L574.1 239.8 L575.05 239.56 L575.95 239.25 L576.82 238.9 L577.66 238.53 L578.47 238.15 L579.26 237.79 L580.03 237.46 L580.8 237 L581.54 236.62 L582.26 236.32 L582.95 236.06 L583.62 235.82 L584.29 235.57 L584.95 235.29 L585.62 234.95 L586.3 234.6 L587 234.23 L587.73 233.76 L588.46 233.23 L589.19 232.67 L589.91 232.11 L590.59 231.59 L591.22 231.14 L591.8 230.8 L592.26 230.55 L592.58 230.36 L592.82 230.22 L593.05 230.13 L593.32 230.08 L593.7 230.08 L594.24 230.12 L595 230.2 L596.01 230.34 L597.22 230.55 L598.59 230.82 L600.06 231.12 L601.6 231.45 L603.15 231.78 L604.66 232.11 L606.1 232.4 L607.48 232.68 L608.85 232.96 L610.23 233.25 L611.6 233.53 L612.97 233.81 L614.35 234.09 L615.72 234.35 L617.1 234.6 L618.48 234.84 L619.87 235.08 L621.26 235.31 L622.65 235.53 L624.04 235.74 L625.43 235.94 L626.82 236.13 L628.2 236.3 L629.59 236.44 L630.98 236.56 L632.38 236.66 L633.77 236.74 L635.15 236.83 L636.52 236.93 L637.87 237.05 L639.2 237.2 L640.53 237.36 L641.88 237.5 L643.22 237.65 L644.54 237.81 L645.82 238.16 L647.04 238.62 L648.17 239.14 L649.2 239.72 L650.11 240.37 L650.92 241.08 L651.64 241.83 L652.3 242.58 L652.92 243.32 L653.51 244.1 L654.1 244.92 L654.7 245.75 L655.3 246.66 L655.88 247.67 L656.43 248.74 L656.96 249.83 L657.49 250.91 L658.02 251.92 L658.55 252.85 L659.1 253.63 L659.63 254.3 L660.12 254.88 L660.59 255.39 L661.08 255.84 L661.59 256.22 L662.17 256.54 L662.83 256.8 L663.6 257.01 L664.52 257.14 L665.58 257.14 L666.73 257.07 L667.94 256.95 L669.15 256.82 L670.33 256.71 L671.43 256.65 L672.4 256.68 L673.28 256.8 L674.14 257 L674.95 257.24 L675.7 257.51 L676.39 257.78 L676.99 258.03 L677.5 258.23 L677.9 258.38 L677.9 259.02 L677.5 258.89 L676.99 258.7 L676.39 258.47 L675.7 258.23 L674.95 257.99 L674.14 257.78 L673.28 257.62 L672.4 257.52 L671.43 257.53 L670.33 257.63 L669.15 257.78 L667.94 257.96 L666.73 258.13 L665.58 258.24 L664.52 258.27 L663.6 258.19 L662.83 258 L662.17 257.76 L661.59 257.46 L661.08 257.1 L660.59 256.67 L660.12 256.18 L659.63 255.61 L659.1 254.97 L658.55 254.2 L658.02 253.3 L657.49 252.3 L656.96 251.25 L656.43 250.17 L655.88 249.12 L655.3 248.13 L654.7 247.25 L654.1 246.44 L653.51 245.65 L652.92 244.89 L652.3 244.17 L651.64 243.55 L650.92 243.05 L650.11 242.62 L649.2 242.28 L648.17 242.05 L647.04 241.92 L645.82 241.87 L644.54 241.81 L643.22 241.65 L641.88 241.5 L640.53 241.36 L639.2 241.2 L637.87 241.05 L636.52 240.93 L635.15 240.83 L633.77 240.74 L632.38 240.66 L630.98 240.56 L629.59 240.44 L628.2 240.3 L626.82 240.13 L625.43 239.94 L624.04 239.74 L622.65 239.53 L621.26 239.31 L619.87 239.08 L618.48 238.84 L617.1 238.6 L615.72 238.35 L614.35 238.09 L612.97 237.81 L611.6 237.53 L610.23 237.25 L608.85 236.96 L607.48 236.68 L606.1 236.4 L604.66 236.11 L603.15 235.78 L601.6 235.45 L600.06 235.12 L598.59 234.82 L597.22 234.55 L596.01 234.34 L595 234.2 L594.24 234.12 L593.7 234.08 L593.32 234.08 L593.05 234.13 L592.82 234.22 L592.58 234.36 L592.26 234.55 L591.8 234.8 L591.22 235.14 L590.59 235.59 L589.91 236.11 L589.19 236.67 L588.46 237.23 L587.73 237.76 L587 238.23 L586.3 238.6 L585.62 238.76 L584.95 238.77 L584.29 238.72 L583.62 238.63 L582.95 238.53 L582.26 238.45 L581.54 238.4 L580.8 238.4 L580.03 238.47 L579.26 238.79 L578.47 239.15 L577.66 239.53 L576.82 239.9 L575.95 240.25 L575.05 240.56 L574.1 240.8 L573.12 241 L572.1 241.17 L571.05 241.31 L569.97 241.43 L568.86 241.5 L567.71 241.55 L566.52 241.55 L565.3 241.5 L564.05 241.38 L562.79 241.17 L561.5 240.9 L560.17 240.6 L558.79 240.3 L557.34 240.03 L555.81 239.82 L554.2 239.7 L552.43 239.68 L550.48 239.75 L548.42 239.88 L546.31 240.04 L544.22 240.2 L542.21 240.33 L540.35 240.41 L538.7 240.4 L537.26 240.27 L535.98 240.04 L534.81 239.73 L533.74 239.41 L532.74 239.11 L531.79 238.87 L530.85 238.76 L529.9 238.8 L528.96 239.01 L528.07 239.36 L527.22 239.8 L526.4 240.32 L525.61 240.89 L524.83 241.48 L524.06 242.06 L523.3 242.6 L522.57 243.15 L521.88 243.76 L521.22 244.4 L520.57 245.04 L519.91 245.65 L519.22 246.2 L518.49 246.66 L517.7 247 L516.86 247.21 L516 247.29 L515.12 247.29 L514.2 247.23 L513.24 247.14 L512.22 247.05 L511.14 247 L510 247 L508.72 247.07 L507.29 247.18 L505.76 247.32 L504.2 247.46 L502.66 247.59 L501.21 247.68 L499.9 247.73 L498.8 247.7 L497.93 247.63 L497.25 247.54 L496.71 247.42 L496.26 247.26 L495.85 247.04 L495.42 246.75 L494.92 246.37 L494.3 245.9 L493.58 245.31 L492.8 244.62 L491.98 243.83 L491.13 243.05 L490.27 242.22 L489.4 241.36 L488.54 240.5 L487.7 239.66 L486.86 238.8 L486 237.91 L485.13 237.07 L484.26 236.23 L483.41 235.37 L482.6 234.53 L481.82 233.71 L481.1 232.92 L480.45 232.14 L479.85 231.37 L479.29 230.6 L478.77 229.84 L478.26 229.11 L477.76 228.4 L477.24 227.71 L476.7 227.06 L476.14 226.46 L475.58 225.9 L475.02 225.37 L474.45 224.87 L473.88 224.41 L473.32 223.98 L472.76 223.58 L472.2 223.22 L471.67 222.9 L471.17 222.62 L470.69 222.38 L470.2 222.17 L469.69 221.96 L469.13 221.75 L468.51 221.55 L467.8 221.36 L466.97 221.2 L466.03 221.06 L465.01 220.95 L463.96 220.86 L462.9 220.77 L461.88 220.69 L460.93 220.6 L460.1 220.49 L459.38 220.38 L458.72 220.28 L458.13 220.19 L457.57 220.08 L457.06 219.97 L456.57 219.85 L456.08 219.7 L455.6 219.52 L455.12 219.26 L454.66 218.87 L454.23 218.43 L453.81 218 L453.4 217.62 L453.02 217.36 L452.65 217.15 L452.3 217.18 L451.98 217.44 L451.7 217.88 L451.44 218.49 L451.2 219.22 L450.96 220.07 L450.7 221.01 L450.42 221.99 L450.1 222.89 L449.74 223.92 L449.35 225.13 L448.94 226.46 L448.52 227.84 L448.09 229.21 L447.65 230.49 L447.22 231.63 L446.8 232.7 L446.4 233.66 L446 234.4 L445.61 234.99 L445.22 235.5 L444.82 236 L444.4 236.56 L443.97 237.26 L443.5 238.16 L443 239.28 L442.45 240.56 L441.89 241.95 L441.31 243.42 L440.73 244.91 L440.16 246.38 L439.61 247.8 L439.1 249.1 L438.63 250.37 L438.2 251.67 L437.8 252.97 L437.4 254.22 L437 255.38 L436.6 256.42 L436.17 257.29 L435.7 257.96 L435.17 258.38 L434.57 258.57 L433.93 258.59 L433.29 258.48 L432.67 258.31 L432.11 258.12 L431.65 257.97 L431.3 257.9Z" fill="#800000" fill-opacity="0.45" stroke="none" clip-path="url(#cb)"/>
<path d="M431.3 257.6 L431.65 257.66 L432.11 257.81 L432.67 257.99 L433.29 258.16 L433.93 258.25 L434.57 258.23 L435.17 258.03 L435.7 257.6 L436.17 256.93 L436.6 256.05 L437 255.01 L437.4 253.84 L437.8 252.58 L438.2 251.28 L438.63 249.97 L439.1 248.7 L439.61 247.39 L440.16 245.97 L440.73 244.49 L441.31 242.99 L441.89 241.51 L442.45 240.11 L443 238.83 L443.5 237.7 L443.97 236.8 L444.4 236.1 L444.82 235.53 L445.22 235.02 L445.61 234.51 L446 233.92 L446.4 233.17 L446.8 232.2 L447.22 230.96 L447.65 229.49 L448.09 227.87 L448.52 226.17 L448.94 224.46 L449.35 222.81 L449.74 221.3 L450.1 220 L450.42 218.85 L450.7 217.75 L450.96 216.73 L451.2 215.8 L451.44 214.98 L451.7 214.3 L451.98 213.77 L452.3 213.4 L452.65 213.26 L453.02 213.36 L453.4 213.63 L453.81 214.02 L454.23 214.47 L454.66 214.92 L455.12 215.32 L455.6 215.6 L456.08 215.79 L456.57 215.95 L457.06 216.09 L457.57 216.22 L458.13 216.34 L458.72 216.45 L459.38 216.57 L460.1 216.7 L460.93 216.83 L461.88 216.95 L462.9 217.06 L463.96 217.18 L465.01 217.31 L466.03 217.45 L466.97 217.61 L467.8 217.8 L468.51 218.01 L469.13 218.22 L469.69 218.45 L470.2 218.69 L470.69 218.97 L471.17 219.27 L471.67 219.61 L472.2 220 L472.76 220.43 L473.32 220.89 L473.88 221.39 L474.45 221.93 L475.02 222.49 L475.58 223.09 L476.14 223.73 L476.7 224.4 L477.24 225.11 L477.76 225.87 L478.26 226.66 L478.77 227.49 L479.29 228.34 L479.85 229.21 L480.45 230.1 L481.1 231 L481.82 231.93 L482.6 232.89 L483.41 233.89 L484.26 234.9 L485.13 235.91 L486 236.91 L486.86 237.87 L487.7 238.8 L488.54 239.72 L489.4 240.65 L490.27 241.57 L491.13 242.48 L491.98 243.33 L492.8 244.12 L493.58 244.81 L494.3 245.4 L494.92 245.87 L495.42 246.25 L495.85 246.54 L496.26 246.76 L496.71 246.92 L497.25 247.04 L497.93 247.13 L498.8 247.2 L499.9 247.23 L501.21 247.18 L502.66 247.09 L504.2 246.96 L505.76 246.82 L507.29 246.68 L508.72 246.57 L510 246.5 L511.14 246.5 L512.22 246.55 L513.24 246.64 L514.2 246.73 L515.12 246.79 L516 246.79 L516.86 246.71 L517.7 246.5 L518.49 246.16 L519.22 245.7 L519.91 245.15 L520.57 244.54 L521.22 243.9 L521.88 243.26 L522.57 242.65 L523.3 242.1 L524.06 241.56 L524.83 240.98 L525.61 240.39 L526.4 239.82 L527.22 239.3 L528.07 238.86 L528.96 238.51 L529.9 238.3 L530.85 238.26 L531.79 238.37 L532.74 238.61 L533.74 238.91 L534.81 239.23 L535.98 239.54 L537.26 239.77 L538.7 239.9 L540.35 239.91 L542.21 239.83 L544.22 239.7 L546.31 239.54 L548.42 239.38 L550.48 239.25 L552.43 239.18 L554.2 239.2 L555.81 239.32 L557.34 239.53 L558.79 239.8 L560.17 240.1 L561.5 240.4 L562.79 240.67 L564.05 240.88 L565.3 241 L566.52 241.05 L567.71 241.05 L568.86 241 L569.97 240.93 L571.05 240.81 L572.1 240.67 L573.12 240.5 L574.1 240.3 L575.05 240.06 L575.95 239.75 L576.82 239.4 L577.66 239.03 L578.47 238.65 L579.26 238.29 L580.03 237.97 L580.8 237.7 L581.54 237.51 L582.26 237.38 L582.95 237.3 L583.62 237.22 L584.29 237.14 L584.95 237.03 L585.62 236.86 L586.3 236.6 L587 236.23 L587.73 235.76 L588.46 235.23 L589.19 234.67 L589.91 234.11 L590.59 233.59 L591.22 233.14 L591.8 232.8 L592.26 232.55 L592.58 232.36 L592.82 232.22 L593.05 232.13 L593.32 232.08 L593.7 232.08 L594.24 232.12 L595 232.2 L596.01 232.34 L597.22 232.55 L598.59 232.82 L600.06 233.12 L601.6 233.45 L603.15 233.78 L604.66 234.11 L606.1 234.4 L607.48 234.68 L608.85 234.96 L610.23 235.25 L611.6 235.53 L612.97 235.81 L614.35 236.09 L615.72 236.35 L617.1 236.6 L618.48 236.84 L619.87 237.08 L621.26 237.31 L622.65 237.53 L624.04 237.74 L625.43 237.94 L626.82 238.13 L628.2 238.3 L629.59 238.44 L630.98 238.56 L632.38 238.66 L633.77 238.74 L635.15 238.83 L636.52 238.93 L637.87 239.05 L639.2 239.2 L640.53 239.36 L641.88 239.5 L643.22 239.65 L644.54 239.81 L645.82 240.01 L647.04 240.27 L648.17 240.59 L649.2 241 L650.11 241.49 L650.92 242.06 L651.64 242.69 L652.3 243.37 L652.92 244.11 L653.51 244.88 L654.1 245.68 L654.7 246.5 L655.3 247.4 L655.88 248.39 L656.43 249.45 L656.96 250.54 L657.49 251.6 L658.02 252.61 L658.55 253.52 L659.1 254.3 L659.63 254.95 L660.12 255.53 L660.59 256.03 L661.08 256.47 L661.59 256.84 L662.17 257.15 L662.83 257.4 L663.6 257.6 L664.52 257.7 L665.58 257.69 L666.73 257.6 L667.94 257.46 L669.15 257.3 L670.33 257.17 L671.43 257.09 L672.4 257.1 L673.28 257.21 L674.14 257.39 L674.95 257.62 L675.7 257.87 L676.39 258.12 L676.99 258.36 L677.5 258.56 L677.9 258.7" fill="none" stroke="#800000" stroke-width="3" stroke-linejoin="round" stroke-linecap="round" stroke-opacity="1" clip-path="url(#cb)"/>
<path d="M431.3 256.2 L431.51 255.73 L431.78 255.16 L432.11 254.48 L432.48 253.7 L432.86 252.83 L433.25 251.86 L433.64 250.81 L434 249.67 L434.35 248.4 L434.71 246.98 L435.07 245.44 L435.43 243.83 L435.79 242.17 L436.14 240.51 L436.48 238.89 L436.8 237.34 L437.1 235.81 L437.39 234.23 L437.66 232.65 L437.93 231.08 L438.19 229.57 L438.46 228.13 L438.72 226.8 L439 225.62 L439.29 224.52 L439.58 223.47 L439.88 222.5 L440.18 221.62 L440.48 220.87 L440.76 220.26 L441.04 219.83 L441.3 219.59 L441.53 219.58 L441.74 219.79 L441.94 220.17 L442.13 220.7 L442.32 221.33 L442.52 222.05 L442.74 222.81 L443 223.57 L443.29 224.49 L443.61 225.66 L443.96 226.96 L444.31 228.3 L444.67 229.55 L445.03 230.62 L445.37 231.38 L445.7 231.75 L446.01 231.76 L446.31 231.56 L446.6 231.14 L446.89 230.49 L447.17 229.61 L447.45 228.49 L447.72 227.13 L448 225.52 L448.26 223.57 L448.51 221.23 L448.75 218.6 L448.99 215.75 L449.23 212.79 L449.5 209.78 L449.78 206.82 L450.1 203.93 L450.46 201.08 L450.87 198.35 L451.3 195.67 L451.74 192.93 L452.19 190.05 L452.62 186.93 L453.03 183.41 L453.4 178.59 L453.73 172.98 L454.03 166.43 L454.32 159.36 L454.59 152.22 L454.85 145.43 L455.1 139.45 L455.35 134.69 L455.6 131.6 L455.85 132 L456.11 133.85 L456.35 136.81 L456.59 140.58 L456.83 144.83 L457.06 149.25 L457.28 153.52 L457.5 157.33 L457.7 160.82 L457.89 164.35 L458.06 167.76 L458.23 170.93 L458.4 174.17 L458.59 177.48 L458.78 180.86 L459 184.3 L459.23 187.93 L459.47 191.82 L459.73 195.86 L459.99 199.92 L460.26 203.9 L460.56 207.68 L460.87 211.15 L461.2 214.2 L461.55 216.79 L461.92 219.01 L462.31 220.78 L462.71 222.31 L463.13 223.69 L463.57 225.01 L464.03 226.36 L464.5 227.8 L465 229.3 L465.55 230.75 L466.12 232.17 L466.7 233.56 L467.28 234.92 L467.85 236.26 L468.4 237.58 L468.9 238.9 L469.37 240.25 L469.8 241.64 L470.22 243.04 L470.62 244.41 L471.01 245.7 L471.4 246.89 L471.8 247.94 L472.2 248.8 L472.61 249.53 L473.02 250.17 L473.43 250.72 L473.84 251.14 L474.26 251.4 L474.67 251.48 L475.08 251.36 L475.5 251 L475.93 250.48 L476.36 249.85 L476.8 249.06 L477.24 248.07 L477.68 246.82 L478.1 245.2 L478.51 243 L478.9 240.43 L479.27 237.24 L479.62 233.38 L479.96 229.07 L480.29 224.53 L480.6 219.98 L480.91 215.62 L481.21 211.68 L481.5 208.38 L481.77 205.73 L482.02 203.53 L482.25 201.69 L482.48 200.08 L482.71 198.59 L482.95 197.12 L483.21 195.55 L483.5 193.78 L483.82 191.81 L484.17 189.78 L484.54 187.71 L484.92 185.62 L485.3 183.55 L485.68 181.52 L486.05 179.58 L486.4 177.86 L486.74 176.19 L487.08 174.51 L487.41 172.86 L487.74 171.27 L488.05 169.77 L488.35 168.39 L488.64 167.16 L488.9 166.11 L489.14 165.25 L489.35 164.54 L489.54 163.97 L489.71 163.52 L489.88 163.19 L490.05 162.95 L490.22 162.79 L490.4 162.7 L490.59 162.77 L490.77 162.91 L490.95 163.15 L491.13 163.48 L491.32 163.9 L491.5 164.43 L491.7 165.06 L491.9 165.81 L492.11 166.75 L492.34 167.92 L492.57 169.24 L492.81 170.64 L493.04 172.05 L493.27 173.38 L493.49 174.58 L493.7 175.56 L493.89 176.34 L494.06 177.01 L494.22 177.58 L494.38 178.05 L494.53 178.45 L494.7 178.78 L494.89 179.07 L495.1 179.31 L495.34 179.48 L495.6 179.56 L495.88 179.57 L496.17 179.52 L496.46 179.44 L496.75 179.35 L497.03 179.27 L497.3 179.23 L497.56 179.27 L497.81 179.38 L498.06 179.53 L498.3 179.66 L498.54 179.72 L498.77 179.67 L498.99 179.45 L499.2 178.95 L499.4 178.22 L499.58 177.29 L499.76 176.22 L499.92 175.03 L500.09 173.75 L500.25 172.43 L500.42 171.1 L500.6 169.8 L500.79 168.44 L500.98 166.97 L501.17 165.38 L501.37 163.78 L501.56 162.22 L501.75 160.75 L501.93 159.42 L502.1 158.3 L502.25 157.34 L502.4 156.49 L502.53 155.75 L502.66 155.12 L502.78 154.6 L502.91 154.21 L503.05 153.94 L503.2 153.8 L503.36 153.95 L503.51 154.29 L503.67 154.77 L503.83 155.36 L504 156.04 L504.19 156.78 L504.38 157.54 L504.6 158.3 L504.83 159.09 L505.08 159.96 L505.34 160.88 L505.61 161.85 L505.89 162.83 L506.18 163.75 L506.49 164.6 L506.8 165.4 L507.13 166.19 L507.47 167.01 L507.83 167.82 L508.2 168.62 L508.57 169.38 L508.95 170.07 L509.33 170.69 L509.7 171.2 L510.07 171.6 L510.45 171.91 L510.82 172.14 L511.2 172.31 L511.58 172.44 L511.95 172.53 L512.33 172.61 L512.7 172.7 L513.07 172.76 L513.43 172.76 L513.79 172.72 L514.16 172.66 L514.52 172.61 L514.88 172.59 L515.24 172.61 L515.6 172.7 L515.96 172.84 L516.33 173.09 L516.69 173.37 L517.05 173.69 L517.41 174.05 L517.77 174.45 L518.14 174.91 L518.5 175.43 L518.86 176.01 L519.23 176.66 L519.59 177.36 L519.95 178.11 L520.31 178.9 L520.67 179.7 L521.04 180.53 L521.4 181.35 L521.77 182.2 L522.14 183.08 L522.51 183.99 L522.89 184.92 L523.26 185.86 L523.62 186.78 L523.97 187.69 L524.3 188.56 L524.59 189.35 L524.84 190.09 L525.07 190.78 L525.29 191.49 L525.53 192.22 L525.81 193.03 L526.16 193.94 L526.6 194.99 L527.11 196.24 L527.67 197.71 L528.28 199.31 L528.94 200.96 L529.65 202.59 L530.41 204.13 L531.23 205.5 L532.1 206.6 L533.06 207.31 L534.11 207.79 L535.24 208.1 L536.41 208.31 L537.6 208.46 L538.78 208.63 L539.92 208.87 L541 209.25 L542.03 209.72 L543.04 210.23 L544.02 210.76 L544.99 211.33 L545.95 211.96 L546.88 212.63 L547.8 213.33 L548.7 214.06 L549.61 214.83 L550.53 215.64 L551.45 216.47 L552.34 217.49 L553.2 218.76 L553.99 220.03 L554.69 221.3 L555.3 222.55 L555.78 223.76 L556.13 224.89 L556.39 225.95 L556.6 227.04 L556.78 228.18 L556.97 229.39 L557.2 230.68 L557.5 232.06 L557.87 233.59 L558.27 235.27 L558.69 237.05 L559.13 238.88 L559.58 240.72 L560.03 242.52 L560.47 244.17 L560.9 245.69 L561.32 247.24 L561.73 248.93 L562.14 250.64 L562.56 252.27 L562.97 253.69 L563.38 254.81 L563.79 255.51 L564.2 255.67 L564.6 255.19 L564.97 254.14 L565.34 252.66 L565.71 250.87 L566.1 248.92 L566.52 246.94 L566.98 245.07 L567.5 243.44 L568.07 242.02 L568.67 240.65 L569.3 239.32 L569.97 237.99 L570.67 236.66 L571.41 235.3 L572.19 233.88 L573 232.4 L573.88 230.84 L574.84 229.22 L575.86 227.56 L576.9 225.86 L577.94 224.15 L578.96 222.43 L579.92 220.72 L580.8 219.04 L581.61 217.34 L582.39 215.6 L583.13 213.84 L583.83 212.09 L584.5 210.37 L585.13 208.72 L585.73 207.15 L586.3 205.6 L586.83 204.25 L587.31 203.22 L587.75 202.37 L588.16 201.55 L588.54 200.62 L588.9 199.43 L589.26 197.47 L589.6 194.83 L589.93 191.28 L590.24 186.82 L590.53 181.83 L590.8 176.68 L591.06 171.75 L591.31 167.43 L591.56 164.08 L591.8 162.1 L592.04 162.57 L592.26 164.18 L592.48 166.66 L592.69 169.75 L592.89 173.18 L593.09 176.69 L593.3 180 L593.5 182.86 L593.7 185.42 L593.89 187.98 L594.08 190.37 L594.27 192.5 L594.46 194.59 L594.66 196.62 L594.87 198.56 L595.1 200.39 L595.33 202.07 L595.56 203.61 L595.79 205.04 L596.03 206.41 L596.29 207.78 L596.59 209.18 L596.92 210.66 L597.3 212.28 L597.74 213.98 L598.25 215.72 L598.8 217.5 L599.38 219.34 L599.96 221.24 L600.54 223.17 L601.09 225.18 L601.6 227.3 L602.08 229.63 L602.54 232.2 L602.99 234.92 L603.43 237.69 L603.85 240.4 L604.26 242.96 L604.64 245.26 L605 247.2 L605.32 248.84 L605.61 250.29 L605.86 251.55 L606.11 252.62 L606.35 253.51 L606.6 254.2 L606.88 254.7 L607.2 255 L607.56 255 L607.95 254.63 L608.37 254.02 L608.8 253.24 L609.24 252.4 L609.67 251.6 L610.09 250.93 L610.5 250.5 L610.89 250.25 L611.28 250.08 L611.67 249.97 L612.05 249.94 L612.42 249.97 L612.79 250.08 L613.15 250.25 L613.5 250.5 L613.83 251.01 L614.14 251.85 L614.44 252.88 L614.73 253.93 L615.03 254.82 L615.33 255.41 L615.65 255.52 L616 255 L616.38 253.83 L616.79 252.17 L617.23 250.1 L617.67 247.68 L618.11 244.95 L618.53 241.88 L618.93 238.72 L619.3 235.55 L619.62 232.27 L619.92 228.74 L620.18 225.04 L620.44 221.2 L620.69 217.29 L620.94 213.36 L621.21 209.46 L621.5 205.65 L621.8 201.56 L622.08 197.02 L622.37 192.37 L622.67 187.81 L622.99 183.65 L623.34 180.19 L623.74 177.71 L624.2 176.52 L624.72 177.12 L625.31 179.47 L625.94 182.98 L626.6 187.09 L627.28 191.24 L627.97 194.85 L628.65 197.41 L629.3 198.3 L629.95 197.24 L630.61 194.66 L631.27 191.03 L631.94 186.84 L632.59 182.57 L633.22 178.68 L633.83 175.67 L634.4 174 L634.93 173.67 L635.43 174.21 L635.91 175.44 L636.36 177.24 L636.8 179.36 L637.24 181.57 L637.67 183.69 L638.1 185.53 L638.53 187.09 L638.95 188.59 L639.36 190.08 L639.77 191.62 L640.17 193.29 L640.58 195.14 L640.99 197.24 L641.4 199.65 L641.82 202.58 L642.25 206.01 L642.67 209.75 L643.1 213.62 L643.53 217.44 L643.95 221 L644.38 224.1 L644.8 226.53 L645.18 228.3 L645.5 229.59 L645.8 230.49 L646.11 231.1 L646.46 231.5 L646.89 231.79 L647.42 232.06 L648.1 232.4 L648.97 232.65 L650.02 232.72 L651.19 232.67 L652.43 232.54 L653.68 232.4 L654.88 232.3 L655.97 232.28 L656.9 232.4 L657.66 232.6 L658.31 232.81 L658.87 233.06 L659.37 233.36 L659.84 233.75 L660.3 234.32 L660.78 235.05 L661.3 235.96 L661.85 237.11 L662.39 238.49 L662.94 240.04 L663.48 241.68 L664.03 243.36 L664.6 244.99 L665.19 246.52 L665.8 247.86 L666.43 248.98 L667.08 250 L667.74 250.94 L668.42 251.82 L669.11 252.65 L669.82 253.41 L670.55 254.13 L671.3 254.8 L672.12 255.43 L673.03 256.01 L673.98 256.54 L674.94 257.01 L675.86 257.43 L676.69 257.8 L677.38 258.11 L677.9 258.36 L677.9 259.04 L677.38 258.83 L676.69 258.58 L675.86 258.27 L674.94 257.92 L673.98 257.52 L673.03 257.07 L672.12 256.56 L671.3 256 L670.55 255.38 L669.82 254.72 L669.11 254.01 L668.42 253.24 L667.74 252.41 L667.08 251.52 L666.43 250.55 L665.8 249.54 L665.19 248.44 L664.6 247.15 L664.03 245.74 L663.48 244.29 L662.94 242.86 L662.39 241.53 L661.85 240.37 L661.3 239.44 L660.78 238.74 L660.3 238.2 L659.84 237.75 L659.37 237.36 L658.87 237.06 L658.31 236.81 L657.66 236.6 L656.9 236.4 L655.97 236.28 L654.88 236.3 L653.68 236.4 L652.43 236.54 L651.19 236.67 L650.02 236.72 L648.97 236.65 L648.1 236.4 L647.42 236.16 L646.89 235.98 L646.46 235.76 L646.11 235.41 L645.8 234.86 L645.5 234.01 L645.18 232.77 L644.8 231.07 L644.38 228.7 L643.95 225.67 L643.53 222.19 L643.1 218.44 L642.67 214.63 L642.25 210.97 L641.82 207.67 L641.4 204.95 L640.99 202.74 L640.58 200.85 L640.17 199.2 L639.77 197.74 L639.36 196.4 L638.95 195.12 L638.53 193.83 L638.1 192.47 L637.67 190.86 L637.24 188.95 L636.8 186.95 L636.36 185.06 L635.91 183.44 L635.43 182.21 L634.93 181.67 L634.4 182 L633.83 183.67 L633.22 186.68 L632.59 190.57 L631.94 194.84 L631.27 199.03 L630.61 202.66 L629.95 205.24 L629.3 206.3 L628.65 205.41 L627.97 202.84 L627.28 199.12 L626.6 194.86 L625.94 190.63 L625.31 187.02 L624.72 184.58 L624.2 183.88 L623.74 185 L623.34 187.41 L622.99 190.82 L622.67 194.92 L622.37 199.43 L622.08 204.03 L621.8 208.36 L621.5 212.15 L621.21 215.67 L620.94 219.3 L620.69 222.98 L620.44 226.64 L620.18 230.22 L619.92 233.66 L619.62 236.89 L619.3 239.85 L618.93 242.66 L618.53 245.42 L618.11 248.06 L617.67 250.68 L617.23 253.1 L616.79 255.17 L616.38 256.83 L616 258 L615.65 258.52 L615.33 258.41 L615.03 257.82 L614.73 256.93 L614.44 255.88 L614.14 254.85 L613.83 254.01 L613.5 253.5 L613.15 253.25 L612.79 253.08 L612.42 252.97 L612.05 252.94 L611.67 252.97 L611.28 253.08 L610.89 253.25 L610.5 253.5 L610.09 253.93 L609.67 254.6 L609.24 255.4 L608.8 256.24 L608.37 257.02 L607.95 257.63 L607.56 258 L607.2 258 L606.88 257.7 L606.6 257.2 L606.35 256.51 L606.11 255.62 L605.86 254.55 L605.61 253.29 L605.32 251.84 L605 250.2 L604.64 248.26 L604.26 245.96 L603.85 243.4 L603.43 240.69 L602.99 237.92 L602.54 235.2 L602.08 232.63 L601.6 230.3 L601.09 228.18 L600.54 226.17 L599.96 224.24 L599.38 222.44 L598.8 220.7 L598.25 219.01 L597.74 217.35 L597.3 215.72 L596.92 214.18 L596.59 212.75 L596.29 211.4 L596.03 210.07 L595.79 208.74 L595.56 207.35 L595.33 205.85 L595.1 204.21 L594.87 202.41 L594.66 200.51 L594.46 198.51 L594.27 196.45 L594.08 194.35 L593.89 192.47 L593.7 190.78 L593.5 189.14 L593.3 187.2 L593.09 184.81 L592.89 182.22 L592.69 179.71 L592.48 177.57 L592.26 176.07 L592.04 175.49 L591.8 176.1 L591.56 177.21 L591.31 179.68 L591.06 183.11 L590.8 187.11 L590.53 191.28 L590.24 195.25 L589.93 198.61 L589.6 200.97 L589.26 202.38 L588.9 203.37 L588.54 204.31 L588.16 204.99 L587.75 205.53 L587.31 206.09 L586.83 206.8 L586.3 207.8 L585.73 209.15 L585.13 210.7 L584.5 212.35 L583.83 214.05 L583.13 215.79 L582.39 217.54 L581.61 219.27 L580.8 220.96 L579.92 222.63 L578.96 224.32 L577.94 226.03 L576.9 227.72 L575.86 229.4 L574.84 231.05 L573.88 232.65 L573 234.2 L572.19 235.67 L571.41 237.07 L570.67 238.42 L569.97 239.75 L569.3 241.06 L568.67 242.39 L568.07 243.75 L567.5 245.16 L566.98 246.77 L566.52 248.64 L566.1 250.61 L565.71 252.56 L565.34 254.34 L564.97 255.82 L564.6 256.86 L564.2 257.33 L563.79 257.16 L563.38 256.46 L562.97 255.34 L562.56 253.91 L562.14 252.28 L561.73 250.56 L561.32 248.87 L560.9 247.31 L560.47 245.78 L560.03 244.12 L559.58 242.47 L559.13 240.78 L558.69 239.1 L558.27 237.48 L557.87 235.94 L557.5 234.54 L557.2 233.26 L556.97 232.05 L556.78 230.91 L556.6 229.83 L556.39 228.81 L556.13 227.84 L555.78 226.98 L555.3 226.25 L554.69 225.6 L553.99 225.04 L553.2 224.56 L552.34 224.15 L551.45 223.55 L550.53 222.85 L549.61 222.17 L548.7 221.54 L547.8 220.93 L546.88 220.36 L545.95 219.83 L544.99 219.33 L544.02 218.84 L543.04 218.38 L542.03 217.95 L541 217.55 L539.92 217.26 L538.78 217.11 L537.6 217.03 L536.41 216.97 L535.24 216.85 L534.11 216.63 L533.06 216.23 L532.1 215.6 L531.23 214.79 L530.41 213.72 L529.65 212.47 L528.94 211.11 L528.28 209.7 L527.67 208.33 L527.11 207.08 L526.6 206.01 L526.16 205.13 L525.81 204.35 L525.53 203.65 L525.29 203 L525.07 202.38 L524.84 201.77 L524.59 201.13 L524.3 200.44 L523.97 199.71 L523.62 198.98 L523.26 198.23 L522.89 197.48 L522.51 196.74 L522.14 196.01 L521.77 195.31 L521.4 194.65 L521.04 194.01 L520.67 193.37 L520.31 192.74 L519.95 192.14 L519.59 191.57 L519.23 191.05 L518.86 190.58 L518.5 190.18 L518.14 189.84 L517.77 189.56 L517.41 189.34 L517.05 189.16 L516.69 189.03 L516.33 188.92 L515.96 188.84 L515.6 188.7 L515.24 188.61 L514.88 188.59 L514.52 188.61 L514.16 188.66 L513.79 188.72 L513.43 188.76 L513.07 188.76 L512.7 188.7 L512.33 188.61 L511.95 188.53 L511.58 188.44 L511.2 188.31 L510.82 188.14 L510.45 187.91 L510.07 187.6 L509.7 187.2 L509.33 186.69 L508.95 186.07 L508.57 185.38 L508.2 184.62 L507.83 183.82 L507.47 183.01 L507.13 182.19 L506.8 181.4 L506.49 180.6 L506.18 179.75 L505.89 178.91 L505.61 178.13 L505.34 177.36 L505.08 176.62 L504.83 175.92 L504.6 175.3 L504.38 174.7 L504.19 174.08 L504 173.47 L503.83 172.91 L503.67 172.43 L503.51 172.07 L503.36 171.84 L503.2 171.8 L503.05 171.8 L502.91 171.95 L502.78 172.22 L502.66 172.62 L502.53 173.14 L502.4 173.76 L502.25 174.49 L502.1 175.3 L501.93 176.27 L501.75 177.43 L501.56 178.73 L501.37 180.12 L501.17 181.54 L500.98 182.96 L500.79 184.34 L500.6 185.6 L500.42 186.81 L500.25 188.06 L500.09 189.3 L499.92 190.49 L499.76 191.6 L499.58 192.59 L499.4 193.42 L499.2 194.05 L498.99 194.45 L498.77 194.72 L498.54 194.82 L498.3 194.8 L498.06 194.72 L497.81 194.62 L497.56 194.56 L497.3 194.57 L497.03 194.67 L496.75 194.8 L496.46 194.95 L496.17 195.08 L495.88 195.19 L495.6 195.24 L495.34 195.22 L495.1 195.09 L494.89 194.89 L494.7 194.64 L494.53 194.34 L494.38 193.97 L494.22 193.53 L494.06 193 L493.89 192.37 L493.7 191.64 L493.49 190.72 L493.27 189.59 L493.04 188.31 L492.81 186.97 L492.57 185.64 L492.34 184.38 L492.11 183.27 L491.9 182.39 L491.7 181.7 L491.5 181.12 L491.32 180.65 L491.13 180.27 L490.95 180 L490.77 179.81 L490.59 179.71 L490.4 179.7 L490.22 179.67 L490.05 179.71 L489.88 179.83 L489.71 180.05 L489.54 180.38 L489.35 180.82 L489.14 181.38 L488.9 182.09 L488.64 182.96 L488.35 183.99 L488.05 185.17 L487.74 186.45 L487.41 187.82 L487.08 189.24 L486.74 190.69 L486.4 192.14 L486.05 193.62 L485.68 195.04 L485.3 196.5 L484.92 198 L484.54 199.52 L484.17 201.04 L483.82 202.55 L483.5 204.03 L483.21 205.37 L482.95 206.55 L482.71 207.66 L482.48 208.8 L482.25 210.07 L482.02 211.56 L481.77 213.38 L481.5 215.62 L481.21 218.49 L480.91 221.99 L480.6 225.88 L480.29 229.97 L479.96 234.01 L479.62 237.81 L479.27 241.14 L478.9 243.77 L478.51 245.77 L478.1 247.36 L477.68 248.82 L477.24 250.07 L476.8 251.06 L476.36 251.85 L475.93 252.48 L475.5 253 L475.08 253.36 L474.67 253.48 L474.26 253.4 L473.84 253.14 L473.43 252.72 L473.02 252.17 L472.61 251.53 L472.2 250.8 L471.8 249.94 L471.4 248.89 L471.01 247.7 L470.62 246.41 L470.22 245.04 L469.8 243.64 L469.37 242.25 L468.9 240.9 L468.4 239.58 L467.85 238.26 L467.28 236.92 L466.7 235.56 L466.12 234.17 L465.55 232.75 L465 231.3 L464.5 229.8 L464.03 228.36 L463.57 227.01 L463.13 225.69 L462.71 224.31 L462.31 222.78 L461.92 221.09 L461.55 219.23 L461.2 217 L460.87 214.29 L460.56 211.13 L460.26 207.63 L459.99 203.93 L459.73 200.13 L459.47 196.35 L459.23 192.7 L459 189.3 L458.78 186.08 L458.59 182.9 L458.4 179.77 L458.23 176.7 L458.06 173.7 L457.89 171.1 L457.7 168.81 L457.5 166.67 L457.28 164.3 L457.06 161.52 L456.83 158.63 L456.59 155.95 L456.35 153.79 L456.11 152.48 L455.85 152.31 L455.6 153.6 L455.35 155.04 L455.1 158.16 L454.85 162.5 L454.59 167.6 L454.32 172.98 L454.03 178.19 L453.73 182.75 L453.4 186.21 L453.03 188.62 L452.62 191.43 L452.19 193.97 L451.74 196.26 L451.3 198.4 L450.87 200.51 L450.46 202.7 L450.1 205.07 L449.78 207.82 L449.5 210.77 L449.23 213.77 L448.99 216.73 L448.75 219.57 L448.51 222.2 L448.26 224.53 L448 226.48 L447.72 228.08 L447.45 229.44 L447.17 230.55 L446.89 231.42 L446.6 232.07 L446.31 232.48 L446.01 232.68 L445.7 232.65 L445.37 232.29 L445.03 231.51 L444.67 230.44 L444.31 229.18 L443.96 227.84 L443.61 226.52 L443.29 225.35 L443 224.43 L442.74 223.65 L442.52 222.89 L442.32 222.17 L442.13 221.53 L441.94 221 L441.74 220.61 L441.53 220.4 L441.3 220.41 L441.04 220.64 L440.76 221.07 L440.48 221.67 L440.18 222.42 L439.88 223.29 L439.58 224.26 L439.29 225.3 L439 226.38 L438.72 227.57 L438.46 228.89 L438.19 230.32 L437.93 231.83 L437.66 233.39 L437.39 234.97 L437.1 236.53 L436.8 238.06 L436.48 239.61 L436.14 241.22 L435.79 242.87 L435.43 244.52 L435.07 246.13 L434.71 247.66 L434.35 249.07 L434 250.33 L433.64 251.46 L433.25 252.51 L432.86 253.47 L432.48 254.33 L432.11 255.11 L431.78 255.78 L431.51 256.34 L431.3 256.8Z" fill="#E8968E" fill-opacity="0.6" stroke="none" clip-path="url(#cb)"/>
<path d="M431.3 256.5 L431.51 256.04 L431.78 255.47 L432.11 254.79 L432.48 254.02 L432.86 253.15 L433.25 252.19 L433.64 251.13 L434 250 L434.35 248.74 L434.71 247.32 L435.07 245.79 L435.43 244.18 L435.79 242.52 L436.14 240.87 L436.48 239.25 L436.8 237.7 L437.1 236.17 L437.39 234.6 L437.66 233.02 L437.93 231.46 L438.19 229.94 L438.46 228.51 L438.72 227.19 L439 226 L439.29 224.91 L439.58 223.86 L439.88 222.89 L440.18 222.02 L440.48 221.27 L440.76 220.66 L441.04 220.23 L441.3 220 L441.53 219.99 L441.74 220.2 L441.94 220.58 L442.13 221.11 L442.32 221.75 L442.52 222.47 L442.74 223.23 L443 224 L443.29 224.92 L443.61 226.09 L443.96 227.4 L444.31 228.74 L444.67 230 L445.03 231.06 L445.37 231.84 L445.7 232.2 L446.01 232.22 L446.31 232.02 L446.6 231.6 L446.89 230.96 L447.17 230.08 L447.45 228.96 L447.72 227.61 L448 226 L448.26 224.05 L448.51 221.71 L448.75 219.08 L448.99 216.24 L449.23 213.28 L449.5 210.28 L449.78 207.32 L450.1 204.5 L450.46 201.89 L450.87 199.43 L451.3 197.03 L451.74 194.59 L452.19 192.01 L452.62 189.18 L453.03 186.01 L453.4 182.4 L453.73 177.87 L454.03 172.31 L454.32 166.17 L454.59 159.91 L454.85 153.97 L455.1 148.8 L455.35 144.86 L455.6 142.6 L455.85 142.16 L456.11 143.16 L456.35 145.3 L456.59 148.26 L456.83 151.73 L457.06 155.38 L457.28 158.91 L457.5 162 L457.7 164.81 L457.89 167.73 L458.06 170.73 L458.23 173.81 L458.4 176.97 L458.59 180.19 L458.78 183.47 L459 186.8 L459.23 190.32 L459.47 194.08 L459.73 197.99 L459.99 201.93 L460.26 205.77 L460.56 209.4 L460.87 212.72 L461.2 215.6 L461.55 218.01 L461.92 220.05 L462.31 221.78 L462.71 223.31 L463.13 224.69 L463.57 226.01 L464.03 227.36 L464.5 228.8 L465 230.3 L465.55 231.75 L466.12 233.17 L466.7 234.56 L467.28 235.92 L467.85 237.26 L468.4 238.58 L468.9 239.9 L469.37 241.25 L469.8 242.64 L470.22 244.04 L470.62 245.41 L471.01 246.7 L471.4 247.89 L471.8 248.94 L472.2 249.8 L472.61 250.53 L473.02 251.17 L473.43 251.72 L473.84 252.14 L474.26 252.4 L474.67 252.48 L475.08 252.36 L475.5 252 L475.93 251.48 L476.36 250.85 L476.8 250.06 L477.24 249.07 L477.68 247.82 L478.1 246.28 L478.51 244.39 L478.9 242.1 L479.27 239.19 L479.62 235.6 L479.96 231.54 L480.29 227.25 L480.6 222.93 L480.91 218.8 L481.21 215.09 L481.5 212 L481.77 209.55 L482.02 207.55 L482.25 205.88 L482.48 204.44 L482.71 203.12 L482.95 201.83 L483.21 200.46 L483.5 198.9 L483.82 197.18 L484.17 195.41 L484.54 193.61 L484.92 191.81 L485.3 190.03 L485.68 188.28 L486.05 186.6 L486.4 185 L486.74 183.44 L487.08 181.88 L487.41 180.34 L487.74 178.86 L488.05 177.47 L488.35 176.19 L488.64 175.06 L488.9 174.1 L489.14 173.32 L489.35 172.68 L489.54 172.17 L489.71 171.79 L489.88 171.51 L490.05 171.33 L490.22 171.23 L490.4 171.2 L490.59 171.24 L490.77 171.36 L490.95 171.57 L491.13 171.87 L491.32 172.27 L491.5 172.77 L491.7 173.38 L491.9 174.1 L492.11 175.01 L492.34 176.15 L492.57 177.44 L492.81 178.81 L493.04 180.18 L493.27 181.49 L493.49 182.65 L493.7 183.6 L493.89 184.36 L494.06 185.01 L494.22 185.55 L494.38 186.01 L494.53 186.39 L494.7 186.71 L494.89 186.98 L495.1 187.2 L495.34 187.35 L495.6 187.4 L495.88 187.38 L496.17 187.3 L496.46 187.19 L496.75 187.07 L497.03 186.97 L497.3 186.9 L497.56 186.91 L497.81 187 L498.06 187.13 L498.3 187.23 L498.54 187.27 L498.77 187.19 L498.99 186.95 L499.2 186.5 L499.4 185.82 L499.58 184.94 L499.76 183.91 L499.92 182.76 L500.09 181.52 L500.25 180.24 L500.42 178.96 L500.6 177.7 L500.79 176.39 L500.98 174.96 L501.17 173.46 L501.37 171.95 L501.56 170.47 L501.75 169.09 L501.93 167.85 L502.1 166.8 L502.25 165.92 L502.4 165.13 L502.53 164.44 L502.66 163.87 L502.78 163.41 L502.91 163.08 L503.05 162.87 L503.2 162.8 L503.36 162.9 L503.51 163.18 L503.67 163.6 L503.83 164.14 L504 164.76 L504.19 165.43 L504.38 166.12 L504.6 166.8 L504.83 167.51 L505.08 168.29 L505.34 169.12 L505.61 169.99 L505.89 170.87 L506.18 171.75 L506.49 172.6 L506.8 173.4 L507.13 174.19 L507.47 175.01 L507.83 175.82 L508.2 176.62 L508.57 177.38 L508.95 178.07 L509.33 178.69 L509.7 179.2 L510.07 179.6 L510.45 179.91 L510.82 180.14 L511.2 180.31 L511.58 180.44 L511.95 180.53 L512.33 180.61 L512.7 180.7 L513.07 180.76 L513.43 180.76 L513.79 180.72 L514.16 180.66 L514.52 180.61 L514.88 180.59 L515.24 180.61 L515.6 180.7 L515.96 180.84 L516.33 181 L516.69 181.2 L517.05 181.43 L517.41 181.69 L517.77 182.01 L518.14 182.37 L518.5 182.8 L518.86 183.29 L519.23 183.85 L519.59 184.47 L519.95 185.13 L520.31 185.82 L520.67 186.54 L521.04 187.27 L521.4 188 L521.77 188.75 L522.14 189.55 L522.51 190.36 L522.89 191.2 L523.26 192.04 L523.62 192.88 L523.97 193.7 L524.3 194.5 L524.59 195.24 L524.84 195.93 L525.07 196.58 L525.29 197.24 L525.53 197.94 L525.81 198.69 L526.16 199.53 L526.6 200.5 L527.11 201.66 L527.67 203.02 L528.28 204.5 L528.94 206.03 L529.65 207.53 L530.41 208.93 L531.23 210.14 L532.1 211.1 L533.06 211.77 L534.11 212.21 L535.24 212.48 L536.41 212.64 L537.6 212.75 L538.78 212.87 L539.92 213.07 L541 213.4 L542.03 213.83 L543.04 214.3 L544.02 214.8 L544.99 215.33 L545.95 215.9 L546.88 216.5 L547.8 217.13 L548.7 217.8 L549.61 218.5 L550.53 219.24 L551.45 220.01 L552.34 220.82 L553.2 221.66 L553.99 222.54 L554.69 223.45 L555.3 224.4 L555.78 225.37 L556.13 226.36 L556.39 227.38 L556.6 228.44 L556.78 229.55 L556.97 230.72 L557.2 231.97 L557.5 233.3 L557.87 234.77 L558.27 236.37 L558.69 238.08 L559.13 239.83 L559.58 241.6 L560.03 243.32 L560.47 244.97 L560.9 246.5 L561.32 248.05 L561.73 249.75 L562.14 251.46 L562.56 253.09 L562.97 254.52 L563.38 255.64 L563.79 256.33 L564.2 256.5 L564.6 256.03 L564.97 254.98 L565.34 253.5 L565.71 251.71 L566.1 249.76 L566.52 247.79 L566.98 245.92 L567.5 244.3 L568.07 242.88 L568.67 241.52 L569.3 240.19 L569.97 238.87 L570.67 237.54 L571.41 236.18 L572.19 234.78 L573 233.3 L573.88 231.75 L574.84 230.14 L575.86 228.48 L576.9 226.79 L577.94 225.09 L578.96 223.38 L579.92 221.68 L580.8 220 L581.61 218.31 L582.39 216.57 L583.13 214.81 L583.83 213.07 L584.5 211.36 L585.13 209.71 L585.73 208.15 L586.3 206.7 L586.83 205.52 L587.31 204.65 L587.75 203.95 L588.16 203.27 L588.54 202.47 L588.9 201.4 L589.26 199.93 L589.6 197.9 L589.93 194.94 L590.24 191.04 L590.53 186.56 L590.8 181.89 L591.06 177.43 L591.31 173.56 L591.56 170.65 L591.8 169.1 L592.04 169.03 L592.26 170.13 L592.48 172.12 L592.69 174.73 L592.89 177.7 L593.09 180.75 L593.3 183.6 L593.5 186 L593.7 188.1 L593.89 190.23 L594.08 192.36 L594.27 194.48 L594.46 196.55 L594.66 198.56 L594.87 200.49 L595.1 202.3 L595.33 203.96 L595.56 205.48 L595.79 206.89 L596.03 208.24 L596.29 209.59 L596.59 210.96 L596.92 212.42 L597.3 214 L597.74 215.67 L598.25 217.36 L598.8 219.1 L599.38 220.89 L599.96 222.74 L600.54 224.67 L601.09 226.68 L601.6 228.8 L602.08 231.13 L602.54 233.7 L602.99 236.42 L603.43 239.19 L603.85 241.9 L604.26 244.46 L604.64 246.76 L605 248.7 L605.32 250.34 L605.61 251.79 L605.86 253.05 L606.11 254.12 L606.35 255.01 L606.6 255.7 L606.88 256.2 L607.2 256.5 L607.56 256.5 L607.95 256.13 L608.37 255.52 L608.8 254.74 L609.24 253.9 L609.67 253.1 L610.09 252.43 L610.5 252 L610.89 251.75 L611.28 251.58 L611.67 251.47 L612.05 251.44 L612.42 251.47 L612.79 251.58 L613.15 251.75 L613.5 252 L613.83 252.51 L614.14 253.35 L614.44 254.38 L614.73 255.43 L615.03 256.32 L615.33 256.91 L615.65 257.02 L616 256.5 L616.38 255.33 L616.79 253.67 L617.23 251.6 L617.67 249.18 L618.11 246.51 L618.53 243.65 L618.93 240.69 L619.3 237.7 L619.62 234.58 L619.92 231.2 L620.18 227.63 L620.44 223.92 L620.69 220.13 L620.94 216.33 L621.21 212.56 L621.5 208.9 L621.8 204.96 L622.08 200.53 L622.37 195.9 L622.67 191.37 L622.99 187.24 L623.34 183.8 L623.74 181.36 L624.2 180.2 L624.72 180.85 L625.31 183.24 L625.94 186.81 L626.6 190.97 L627.28 195.18 L627.97 198.85 L628.65 201.41 L629.3 202.3 L629.95 201.24 L630.61 198.66 L631.27 195.03 L631.94 190.84 L632.59 186.57 L633.22 182.68 L633.83 179.67 L634.4 178 L634.93 177.67 L635.43 178.21 L635.91 179.44 L636.36 181.15 L636.8 183.16 L637.24 185.26 L637.67 187.27 L638.1 189 L638.53 190.46 L638.95 191.85 L639.36 193.24 L639.77 194.68 L640.17 196.24 L640.58 197.99 L640.99 199.99 L641.4 202.3 L641.82 205.12 L642.25 208.49 L642.67 212.19 L643.1 216.03 L643.53 219.81 L643.95 223.34 L644.38 226.4 L644.8 228.8 L645.18 230.54 L645.5 231.8 L645.8 232.68 L646.11 233.26 L646.46 233.63 L646.89 233.88 L647.42 234.11 L648.1 234.4 L648.97 234.65 L650.02 234.72 L651.19 234.67 L652.43 234.54 L653.68 234.4 L654.88 234.3 L655.97 234.28 L656.9 234.4 L657.66 234.6 L658.31 234.81 L658.87 235.06 L659.37 235.36 L659.84 235.75 L660.3 236.26 L660.78 236.9 L661.3 237.7 L661.85 238.74 L662.39 240.01 L662.94 241.45 L663.48 242.99 L664.03 244.55 L664.6 246.07 L665.19 247.48 L665.8 248.7 L666.43 249.77 L667.08 250.76 L667.74 251.68 L668.42 252.53 L669.11 253.33 L669.82 254.06 L670.55 254.75 L671.3 255.4 L672.12 256 L673.03 256.54 L673.98 257.03 L674.94 257.47 L675.86 257.85 L676.69 258.19 L677.38 258.47 L677.9 258.7" fill="none" stroke="#E8968E" stroke-width="3" stroke-linejoin="round" stroke-linecap="round" stroke-opacity="1" clip-path="url(#cb)"/>
<path d="M431.4 414.9 L431.64 414.8 L431.97 414.66 L432.36 414.5 L432.79 414.32 L433.24 414.13 L433.69 413.92 L434.12 413.71 L434.5 413.5 L434.84 413.28 L435.14 413.05 L435.42 412.81 L435.71 412.56 L436 412.3 L436.32 412.04 L436.68 411.77 L437.1 411.5 L437.58 411.2 L438.11 410.84 L438.68 410.46 L439.28 410.08 L439.89 409.74 L440.51 409.46 L441.12 409.27 L441.7 409.2 L442.24 409.28 L442.73 409.51 L443.21 409.84 L443.69 410.22 L444.2 410.62 L444.77 410.99 L445.43 411.3 L446.2 411.5 L447.05 411.59 L447.95 411.62 L448.91 411.6 L449.94 411.55 L451.06 411.48 L452.26 411.4 L453.57 411.34 L455 411.3 L456.58 411.28 L458.31 411.27 L460.17 411.27 L462.11 411.26 L464.1 411.26 L466.1 411.24 L468.08 411.23 L470 411.2 L471.93 411.15 L473.94 411.06 L475.99 410.95 L478.01 410.85 L479.98 410.77 L481.83 410.72 L483.52 410.72 L485 410.8 L486.21 410.96 L487.17 411.19 L487.95 411.46 L488.62 411.78 L489.27 412.12 L489.97 412.46 L490.79 412.79 L491.8 413.1 L492.9 413.4 L493.97 413.72 L495.06 414.05 L496.25 414.38 L497.59 414.69 L499.16 414.97 L501.01 415.21 L503.2 415.4 L505.79 415.53 L508.74 415.6 L511.98 415.64 L515.44 415.64 L519.04 415.63 L522.71 415.61 L526.39 415.6 L530 415.6 L533.78 415.63 L537.92 415.69 L542.22 415.75 L546.52 415.81 L550.62 415.84 L554.36 415.82 L557.54 415.75 L560 415.6 L561.63 415.36 L562.57 415.04 L562.96 414.66 L562.99 414.24 L562.79 413.79 L562.54 413.34 L562.39 412.9 L562.5 412.5 L562.79 412.08 L563.07 411.6 L563.34 411.1 L563.61 410.62 L563.88 410.18 L564.15 409.83 L564.42 409.59 L564.7 409.5 L564.98 409.59 L565.26 409.83 L565.55 410.18 L565.83 410.62 L566.12 411.1 L566.41 411.6 L566.7 412.08 L567 412.5 L566.57 412.9 L565.1 413.34 L563.22 413.79 L561.55 414.24 L560.72 414.66 L561.35 415.04 L564.07 415.36 L569.5 415.6 L578.82 415.75 L591.92 415.82 L607.54 415.83 L624.41 415.79 L641.26 415.74 L656.82 415.67 L669.82 415.62 L679 415.6" fill="none" stroke="#1262AA" stroke-width="3" stroke-linejoin="round" stroke-linecap="round" stroke-opacity="1" clip-path="url(#cb)"/>
<path d="M431.4 414.89 L432.43 414.94 L433.88 415.06 L435.61 415.21 L437.49 415.35 L439.4 415.41 L441.2 415.35 L442.78 415.11 L444 414.66 L444.87 414.06 L445.52 413.42 L446 412.67 L446.35 411.77 L446.62 410.65 L446.85 409.27 L447.1 407.42 L447.4 404.87 L447.73 401.7 L448.03 397.97 L448.31 393.85 L448.57 389.54 L448.82 385.22 L449.07 381.09 L449.33 377.33 L449.6 374.13 L449.88 371.44 L450.17 369.11 L450.46 367.08 L450.74 365.28 L451.03 363.67 L451.32 362.22 L451.61 360.87 L451.9 359.59 L452.18 358.42 L452.45 357.45 L452.71 356.62 L452.98 355.92 L453.26 355.32 L453.55 355.02 L453.86 355.02 L454.2 355.07 L454.56 355.23 L454.94 355.54 L455.34 355.96 L455.76 356.45 L456.19 356.99 L456.64 357.53 L457.11 358.05 L457.6 358.51 L458.13 358.96 L458.72 359.47 L459.34 359.99 L459.97 360.51 L460.59 361.02 L461.18 361.52 L461.73 362 L462.2 362.46 L462.6 362.79 L462.94 362.96 L463.24 363.06 L463.5 363.32 L463.75 363.87 L463.99 364.6 L464.23 365.61 L464.5 367 L464.77 368.8 L465.03 370.89 L465.28 373.24 L465.52 375.78 L465.78 378.46 L466.06 381.15 L466.36 383.55 L466.7 385.9 L467.08 388.32 L467.49 390.95 L467.92 393.68 L468.38 396.42 L468.84 399.08 L469.3 401.56 L469.76 403.76 L470.2 405.5 L470.63 406.76 L471.06 407.71 L471.48 408.42 L471.91 408.94 L472.33 409.31 L472.75 409.59 L473.18 409.84 L473.6 410.1 L474.03 410.35 L474.45 410.53 L474.88 410.64 L475.3 410.67 L475.73 410.64 L476.15 410.53 L476.58 410.35 L477 410.1 L477.43 409.84 L477.85 409.59 L478.27 409.31 L478.7 408.94 L479.12 408.42 L479.55 407.71 L479.98 406.76 L480.4 405.5 L480.83 403.85 L481.27 401.82 L481.71 399.51 L482.14 397.02 L482.58 394.46 L483 391.92 L483.41 388.81 L483.8 385.96 L484.17 383.26 L484.53 380.57 L484.87 377.92 L485.21 375.37 L485.53 372.94 L485.86 370.68 L486.18 368.63 L486.5 366.84 L486.82 365.34 L487.14 364.25 L487.46 363.53 L487.77 362.99 L488.08 362.54 L488.39 362.15 L488.69 361.76 L489 361.3 L489.31 361.02 L489.61 360.8 L489.91 360.62 L490.21 360.46 L490.51 360.32 L490.81 360.17 L491.11 360.02 L491.4 359.83 L491.69 359.62 L491.98 359.38 L492.27 359.14 L492.55 358.89 L492.83 358.65 L493.12 358.43 L493.41 358.24 L493.7 358.08 L494 357.96 L494.31 357.89 L494.62 357.85 L494.94 357.82 L495.25 357.8 L495.55 357.76 L495.83 357.7 L496.1 357.61 L496.35 357.47 L496.57 357.28 L496.78 357.07 L496.99 356.84 L497.19 356.63 L497.38 356.44 L497.59 356.3 L497.8 356.22 L498.02 356.21 L498.23 356.29 L498.45 356.4 L498.66 356.54 L498.88 356.7 L499.11 356.85 L499.35 356.99 L499.6 357.1 L499.86 357.19 L500.14 357.3 L500.43 357.4 L500.72 357.49 L501.02 357.57 L501.31 357.62 L501.61 357.63 L501.9 357.6 L502.18 357.51 L502.46 357.38 L502.73 357.21 L503.01 357.01 L503.29 356.79 L503.58 356.58 L503.88 356.38 L504.2 356.2 L504.55 356.03 L504.93 355.83 L505.33 355.64 L505.74 355.45 L506.14 355.28 L506.52 355.14 L506.88 355.04 L507.2 355 L507.47 355.03 L507.7 355.14 L507.91 355.3 L508.09 355.49 L508.28 355.67 L508.46 355.84 L508.67 355.96 L508.9 356 L509.16 355.97 L509.44 355.88 L509.72 355.76 L510.02 355.61 L510.32 355.44 L510.62 355.28 L510.91 355.12 L511.2 355 L511.48 354.82 L511.75 354.55 L512.03 354.24 L512.3 353.96 L512.57 353.76 L512.85 353.71 L513.12 353.87 L513.4 354.3 L513.68 354.99 L513.94 355.88 L514.21 356.94 L514.48 358.17 L514.75 359.72 L515.05 362.18 L515.36 364.83 L515.7 367.66 L516.06 370.77 L516.44 374.17 L516.84 377.81 L517.26 380.86 L517.69 383.48 L518.14 386.06 L518.61 388.53 L519.1 390.81 L519.61 392.96 L520.14 395.07 L520.69 397.12 L521.26 399.1 L521.84 401 L522.44 402.66 L523.06 404.14 L523.7 405.5 L524.3 406.73 L524.83 407.86 L525.36 408.87 L525.91 409.78 L526.55 410.59 L527.31 411.29 L528.24 411.9 L529.4 412.4 L530.81 412.76 L532.46 412.95 L534.28 413.01 L536.23 412.99 L538.25 412.91 L540.29 412.83 L542.29 412.78 L544.2 412.8 L546.12 412.89 L548.14 413 L550.2 413.13 L552.24 413.26 L554.2 413.37 L556.02 413.46 L557.64 413.51 L559 413.5 L560.05 413.42 L560.82 413.25 L561.39 413.04 L561.82 412.81 L562.18 412.58 L562.53 412.39 L562.95 412.25 L563.5 412.2 L564.16 412.26 L564.85 412.41 L565.57 412.62 L566.31 412.86 L567.05 413.1 L567.78 413.3 L568.5 413.45 L569.2 413.5 L569.89 413.47 L570.59 413.4 L571.29 413.28 L571.98 413.12 L572.65 412.93 L573.28 412.69 L573.87 412.41 L574.4 412.1 L574.88 411.8 L575.31 411.52 L575.7 411.23 L576.06 410.89 L576.38 410.46 L576.68 409.89 L576.95 409.15 L577.2 407.56 L577.42 405.74 L577.59 403.96 L577.74 402.16 L577.86 400.28 L577.96 398.26 L578.06 396.03 L578.17 393.54 L578.3 390.73 L578.44 387.39 L578.57 383.49 L578.71 379.23 L578.85 374.81 L578.99 370.44 L579.12 366.32 L579.26 362.64 L579.4 359.6 L579.53 357.31 L579.66 355.49 L579.79 354.05 L579.91 352.88 L580.04 351.9 L580.18 351.01 L580.33 350.13 L580.5 349.15 L580.68 348.16 L580.87 347.27 L581.07 346.66 L581.28 346.47 L581.5 346.33 L581.73 346.21 L581.96 346.07 L582.2 345.9 L582.46 345.69 L582.73 345.47 L583.01 345.26 L583.31 345.06 L583.6 344.88 L583.88 344.73 L584.15 344.62 L584.4 344.57 L584.63 344.52 L584.84 344.46 L585.04 344.42 L585.23 344.42 L585.42 344.49 L585.61 344.66 L585.8 344.97 L586 345.43 L586.21 346.06 L586.42 346.82 L586.63 347.71 L586.85 348.7 L587.07 350 L587.28 351.87 L587.49 353.79 L587.7 355.75 L587.9 357.74 L588.1 359.8 L588.3 361.92 L588.5 364.1 L588.7 366.35 L588.9 368.68 L589.1 370.85 L589.3 372.85 L589.51 374.98 L589.72 377.26 L589.93 379.65 L590.14 382.08 L590.36 384.52 L590.57 386.91 L590.79 389.2 L591 391.33 L591.21 393.39 L591.43 395.44 L591.64 397.46 L591.86 399.39 L592.07 401.13 L592.28 402.53 L592.49 403.74 L592.7 404.7 L592.9 405.39 L593.1 405.82 L593.3 406.05 L593.5 406.12 L593.7 406.08 L593.9 405.98 L594.1 405.87 L594.3 405.8 L594.51 405.7 L594.72 405.49 L594.93 405.22 L595.15 404.91 L595.37 404.61 L595.58 404.35 L595.79 404.17 L596 404.1 L596.2 404.19 L596.4 404.43 L596.6 404.76 L596.8 405.12 L597 405.46 L597.2 405.72 L597.4 405.86 L597.6 405.8 L597.81 405.62 L598.02 405.39 L598.23 405.08 L598.45 404.68 L598.67 404.13 L598.88 403.42 L599.09 402.52 L599.3 401.4 L599.5 400.02 L599.7 398.38 L599.9 396.55 L600.1 394.34 L600.3 391.81 L600.5 389.22 L600.7 386.6 L600.9 384 L601.11 381.27 L601.32 378.31 L601.53 375.22 L601.74 372.12 L601.96 369.1 L602.17 366.27 L602.39 363.73 L602.6 361.6 L602.8 359.85 L602.99 358.48 L603.17 357.41 L603.35 356.52 L603.55 355.74 L603.76 354.94 L604.01 354.05 L604.3 352.95 L604.64 351.67 L605.01 350.35 L605.42 350.02 L605.85 349.72 L606.29 349.44 L606.74 349.19 L607.18 348.97 L607.6 348.77 L608.02 348.62 L608.46 348.51 L608.91 348.44 L609.36 348.4 L609.79 348.36 L610.19 348.31 L610.57 348.25 L610.9 348.14 L611.18 347.99 L611.42 347.78 L611.62 347.54 L611.8 347.3 L611.97 347.08 L612.13 346.99 L612.31 346.98 L612.5 347.07 L612.7 347.26 L612.91 347.49 L613.11 347.77 L613.31 348.1 L613.52 348.49 L613.74 348.92 L613.96 349.41 L614.2 349.95 L614.45 350.55 L614.71 351.22 L614.99 351.95 L615.27 352.73 L615.55 353.54 L615.84 354.38 L616.12 355.31 L616.4 356.33 L616.68 357.36 L616.96 358.41 L617.25 359.48 L617.53 360.57 L617.81 361.69 L618.09 362.84 L618.35 364.03 L618.6 365.27 L618.83 366.57 L619.05 367.9 L619.25 369.1 L619.45 370.32 L619.65 371.54 L619.85 372.72 L620.07 373.82 L620.3 374.81 L620.55 375.68 L620.8 376.46 L621.07 377.18 L621.34 377.86 L621.62 378.5 L621.9 379.15 L622.2 379.8 L622.5 380.49 L622.8 381.2 L623.1 381.92 L623.4 382.63 L623.71 383.34 L624.03 384.06 L624.39 384.77 L624.77 385.49 L625.2 386.21 L625.69 386.97 L626.24 387.78 L626.83 388.62 L627.44 389.44 L628.05 390.23 L628.65 390.94 L629.2 391.56 L629.7 392.04 L630.12 392.34 L630.47 392.48 L630.78 392.5 L631.08 392.47 L631.38 392.41 L631.72 392.39 L632.11 392.45 L632.6 392.64 L633.18 392.93 L633.83 393.27 L634.53 393.66 L635.28 394.1 L636.04 394.6 L636.81 395.14 L637.57 395.74 L638.3 396.39 L639.02 397.13 L639.75 397.97 L640.49 398.95 L641.22 400 L641.95 401.07 L642.66 402.13 L643.34 403.15 L644 404.1 L644.61 405.02 L645.18 405.95 L645.72 406.92 L646.25 407.85 L646.78 408.74 L647.32 409.58 L647.89 410.36 L648.5 411.05 L649.02 411.61 L649.39 412.03 L649.7 412.35 L650.06 412.61 L650.59 412.75 L651.38 412.86 L652.55 412.97 L654.2 413.1 L656.58 413.24 L659.7 413.35 L663.29 413.46 L667.11 413.55 L670.87 413.63 L674.34 413.7 L677.23 413.75 L679.3 413.8 L679.3 413.8 L677.23 413.75 L674.34 413.7 L670.87 413.63 L667.11 413.55 L663.29 413.46 L659.7 413.35 L656.58 413.24 L654.2 413.1 L652.55 412.97 L651.38 412.86 L650.59 412.75 L650.06 412.61 L649.7 412.44 L649.39 412.21 L649.02 411.9 L648.5 411.5 L647.89 410.99 L647.32 410.39 L646.78 409.71 L646.25 408.98 L645.72 408.2 L645.18 407.4 L644.61 406.59 L644 405.8 L643.34 404.98 L642.66 404.1 L641.95 403.18 L641.22 402.26 L640.49 401.35 L639.75 400.49 L639.02 399.69 L638.3 399 L637.57 398.39 L636.81 397.84 L636.04 397.34 L635.28 396.9 L634.53 396.51 L633.83 396.16 L633.18 395.86 L632.6 395.6 L632.11 395.44 L631.72 395.41 L631.38 395.45 L631.08 395.53 L630.78 395.59 L630.47 395.59 L630.12 395.47 L629.7 395.2 L629.2 394.76 L628.65 394.18 L628.05 393.51 L627.44 392.77 L626.83 391.99 L626.24 391.19 L625.69 390.42 L625.2 389.7 L624.77 389.01 L624.39 388.32 L624.03 387.64 L623.71 386.95 L623.4 386.26 L623.1 385.57 L622.8 384.89 L622.5 384.2 L622.2 383.54 L621.9 382.9 L621.62 382.29 L621.34 381.66 L621.07 381.01 L620.8 380.31 L620.55 379.55 L620.3 378.7 L620.07 377.73 L619.85 376.65 L619.65 375.48 L619.45 374.28 L619.25 373.07 L619.05 371.9 L618.83 370.8 L618.6 369.8 L618.35 368.9 L618.09 368.06 L617.81 367.27 L617.53 366.52 L617.25 365.81 L616.96 365.13 L616.68 364.46 L616.4 363.8 L616.12 363.15 L615.84 362.5 L615.55 361.88 L615.27 361.28 L614.99 360.71 L614.71 360.19 L614.45 359.71 L614.2 359.3 L613.96 358.94 L613.74 358.62 L613.52 358.35 L613.31 358.12 L613.11 357.94 L612.91 357.81 L612.7 357.73 L612.5 357.7 L612.31 357.75 L612.13 357.89 L611.97 358.09 L611.8 358.33 L611.62 358.6 L611.42 358.86 L611.18 359.1 L610.9 359.3 L610.57 359.45 L610.19 359.57 L609.79 359.67 L609.36 359.77 L608.91 359.88 L608.46 360.02 L608.02 360.18 L607.6 360.4 L607.18 360.66 L606.74 360.94 L606.29 361.26 L605.85 361.59 L605.42 361.96 L605.01 362.35 L604.64 362.76 L604.3 363.2 L604.01 363.58 L603.76 363.85 L603.55 364.1 L603.35 364.4 L603.17 364.83 L602.99 365.45 L602.8 366.35 L602.6 367.6 L602.39 369.28 L602.17 371.36 L601.96 373.74 L601.74 376.31 L601.53 378.96 L601.32 381.59 L601.11 384.11 L600.9 386.4 L600.7 388.57 L600.5 390.77 L600.3 392.94 L600.1 395.05 L599.9 397.05 L599.7 398.88 L599.5 400.52 L599.3 401.9 L599.09 403.02 L598.88 403.92 L598.67 404.63 L598.45 405.18 L598.23 405.58 L598.02 405.89 L597.81 406.12 L597.6 406.3 L597.4 406.36 L597.2 406.22 L597 405.96 L596.8 405.62 L596.6 405.26 L596.4 404.93 L596.2 404.69 L596 404.6 L595.79 404.67 L595.58 404.85 L595.37 405.11 L595.15 405.41 L594.93 405.72 L594.72 405.99 L594.51 406.2 L594.3 406.3 L594.1 406.37 L593.9 406.48 L593.7 406.58 L593.5 406.62 L593.3 406.55 L593.1 406.32 L592.9 405.89 L592.7 405.2 L592.49 404.24 L592.28 403.03 L592.07 401.63 L591.86 400.06 L591.64 398.38 L591.43 396.61 L591.21 394.81 L591 393 L590.79 391.11 L590.57 389.08 L590.36 386.94 L590.14 384.75 L589.93 382.56 L589.72 380.42 L589.51 378.39 L589.3 376.5 L589.1 374.74 L588.9 373.04 L588.7 371.41 L588.5 369.85 L588.3 368.36 L588.1 366.93 L587.9 365.58 L587.7 364.3 L587.49 363.07 L587.28 361.89 L587.07 360.77 L586.85 359.73 L586.63 358.77 L586.42 357.92 L586.21 357.19 L586 356.6 L585.8 356.17 L585.61 355.9 L585.42 355.75 L585.23 355.71 L585.04 355.74 L584.84 355.82 L584.63 355.92 L584.4 356 L584.15 356.1 L583.88 356.25 L583.6 356.45 L583.31 356.68 L583.01 356.92 L582.73 357.19 L582.46 357.45 L582.2 357.7 L581.96 357.91 L581.73 358.09 L581.5 358.25 L581.28 358.42 L581.07 358.65 L580.87 358.95 L580.68 359.36 L580.5 359.9 L580.33 360.46 L580.18 360.97 L580.04 361.51 L579.91 362.16 L579.79 363.01 L579.66 364.15 L579.53 365.65 L579.4 367.6 L579.26 370.2 L579.12 373.44 L578.99 377.12 L578.85 381.05 L578.71 385.02 L578.57 388.84 L578.44 392.3 L578.3 395.2 L578.17 397.61 L578.06 399.75 L577.96 401.65 L577.86 403.33 L577.74 404.83 L577.59 406.17 L577.42 407.39 L577.2 408.5 L576.95 409.45 L576.68 410.19 L576.38 410.76 L576.06 411.19 L575.7 411.53 L575.31 411.82 L574.88 412.1 L574.4 412.4 L573.87 412.71 L573.28 412.99 L572.65 413.23 L571.98 413.42 L571.29 413.58 L570.59 413.7 L569.89 413.77 L569.2 413.8 L568.5 413.75 L567.78 413.6 L567.05 413.4 L566.31 413.16 L565.57 412.92 L564.85 412.71 L564.16 412.56 L563.5 412.5 L562.95 412.55 L562.53 412.69 L562.18 412.88 L561.82 413.11 L561.39 413.34 L560.82 413.55 L560.05 413.72 L559 413.8 L557.64 413.81 L556.02 413.76 L554.2 413.67 L552.24 413.56 L550.2 413.43 L548.14 413.3 L546.12 413.19 L544.2 413.1 L542.29 413.08 L540.29 413.13 L538.25 413.21 L536.23 413.29 L534.28 413.31 L532.46 413.25 L530.81 413.06 L529.4 412.7 L528.24 412.2 L527.31 411.59 L526.55 410.89 L525.91 410.08 L525.36 409.17 L524.83 408.16 L524.3 407.03 L523.7 405.8 L523.06 404.44 L522.44 402.96 L521.84 401.36 L521.26 399.66 L520.69 397.87 L520.14 396 L519.61 394.07 L519.1 392.1 L518.61 389.98 L518.14 387.68 L517.69 385.25 L517.26 382.77 L516.84 380.33 L516.44 377.99 L516.06 375.82 L515.7 373.9 L515.36 372.18 L515.05 370.55 L514.75 369.04 L514.48 367.67 L514.21 366.44 L513.94 365.38 L513.68 364.49 L513.4 363.8 L513.12 363.37 L512.85 363.21 L512.57 363.26 L512.3 363.46 L512.03 363.74 L511.75 364.05 L511.48 364.32 L511.2 364.5 L510.91 364.62 L510.62 364.78 L510.32 364.94 L510.02 365.11 L509.72 365.26 L509.44 365.38 L509.16 365.47 L508.9 365.5 L508.67 365.46 L508.46 365.34 L508.28 365.17 L508.09 364.99 L507.91 364.8 L507.7 364.64 L507.47 364.53 L507.2 364.5 L506.88 364.54 L506.52 364.64 L506.14 364.78 L505.74 364.95 L505.33 365.14 L504.93 365.33 L504.55 365.53 L504.2 365.7 L503.88 365.88 L503.58 366.08 L503.29 366.29 L503.01 366.51 L502.73 366.71 L502.46 366.88 L502.18 367.01 L501.9 367.1 L501.61 367.13 L501.31 367.12 L501.02 367.07 L500.72 366.99 L500.43 366.9 L500.14 366.8 L499.86 366.69 L499.6 366.6 L499.35 366.49 L499.11 366.35 L498.88 366.2 L498.66 366.04 L498.45 365.9 L498.23 365.79 L498.02 365.71 L497.8 365.7 L497.59 365.76 L497.38 365.88 L497.19 366.04 L496.99 366.23 L496.78 366.43 L496.57 366.62 L496.35 366.78 L496.1 366.9 L495.83 366.96 L495.55 366.99 L495.25 366.99 L494.94 366.98 L494.62 366.97 L494.31 366.98 L494 367.02 L493.7 367.1 L493.41 367.23 L493.12 367.39 L492.83 367.58 L492.55 367.79 L492.27 368 L491.98 368.22 L491.69 368.42 L491.4 368.6 L491.11 368.75 L490.81 368.87 L490.51 368.98 L490.21 369.09 L489.91 369.22 L489.61 369.37 L489.31 369.56 L489 369.8 L488.69 370.03 L488.39 370.19 L488.08 370.35 L487.77 370.56 L487.46 370.88 L487.14 371.35 L486.82 372.04 L486.5 373 L486.18 374.25 L485.86 375.76 L485.53 377.48 L485.21 379.36 L484.87 381.36 L484.53 383.43 L484.17 385.52 L483.8 387.6 L483.41 389.8 L483 392.22 L482.58 394.76 L482.14 397.32 L481.71 399.81 L481.27 402.12 L480.83 404.15 L480.4 405.8 L479.98 407.06 L479.55 408.01 L479.12 408.72 L478.7 409.24 L478.27 409.61 L477.85 409.89 L477.43 410.14 L477 410.4 L476.58 410.65 L476.15 410.83 L475.73 410.94 L475.3 410.97 L474.88 410.94 L474.45 410.83 L474.03 410.65 L473.6 410.4 L473.18 410.14 L472.75 409.89 L472.33 409.61 L471.91 409.24 L471.48 408.72 L471.06 408.01 L470.63 407.06 L470.2 405.8 L469.76 404.16 L469.3 402.15 L468.84 399.87 L468.38 397.41 L467.92 394.86 L467.49 392.31 L467.08 389.86 L466.7 387.6 L466.36 385.4 L466.06 383.12 L465.78 380.83 L465.52 378.6 L465.28 376.49 L465.03 374.58 L464.77 372.92 L464.5 371.6 L464.23 370.67 L463.99 370.08 L463.75 369.77 L463.5 369.64 L463.24 369.63 L462.94 369.63 L462.6 369.59 L462.2 369.4 L461.73 369.12 L461.18 368.84 L460.59 368.56 L459.97 368.28 L459.34 368 L458.72 367.71 L458.13 367.41 L457.6 367.1 L457.11 366.74 L456.64 366.33 L456.19 365.88 L455.76 365.44 L455.34 365.03 L454.94 364.7 L454.56 364.48 L454.2 364.4 L453.86 364.42 L453.55 364.49 L453.26 364.63 L452.98 364.87 L452.71 365.21 L452.45 365.69 L452.18 366.31 L451.9 367.1 L451.61 368 L451.32 368.97 L451.03 370.04 L450.74 371.26 L450.46 372.68 L450.17 374.33 L449.88 376.25 L449.6 378.5 L449.33 381.28 L449.07 384.63 L448.82 388.37 L448.57 392.29 L448.31 396.2 L448.03 399.88 L447.73 403.15 L447.4 405.8 L447.1 407.87 L446.85 409.57 L446.62 410.95 L446.35 412.06 L446 412.95 L445.52 413.69 L444.87 414.32 L444 414.9 L442.78 415.34 L441.2 415.54 L439.4 415.57 L437.49 415.47 L435.61 415.3 L433.88 415.11 L432.43 414.96 L431.4 414.9Z" fill="#79ACE0" fill-opacity="0.5" stroke="none" clip-path="url(#cb)"/>
<path d="M431.4 414.9 L432.43 414.96 L433.88 415.11 L435.61 415.3 L437.49 415.47 L439.4 415.57 L441.2 415.54 L442.78 415.34 L444 414.9 L444.87 414.32 L445.52 413.69 L446 412.95 L446.35 412.06 L446.62 410.95 L446.85 409.57 L447.1 407.87 L447.4 405.8 L447.73 403.15 L448.03 399.88 L448.31 396.2 L448.57 392.29 L448.82 388.37 L449.07 384.63 L449.33 381.28 L449.6 378.5 L449.88 376.25 L450.17 374.33 L450.46 372.68 L450.74 371.26 L451.03 370.04 L451.32 368.97 L451.61 368 L451.9 367.1 L452.18 366.31 L452.45 365.69 L452.71 365.21 L452.98 364.87 L453.26 364.63 L453.55 364.49 L453.86 364.42 L454.2 364.4 L454.56 364.48 L454.94 364.7 L455.34 365.03 L455.76 365.44 L456.19 365.88 L456.64 366.33 L457.11 366.74 L457.6 367.1 L458.13 367.41 L458.72 367.71 L459.34 368 L459.97 368.28 L460.59 368.56 L461.18 368.84 L461.73 369.12 L462.2 369.4 L462.6 369.59 L462.94 369.63 L463.24 369.63 L463.5 369.64 L463.75 369.77 L463.99 370.08 L464.23 370.67 L464.5 371.6 L464.77 372.92 L465.03 374.58 L465.28 376.49 L465.52 378.6 L465.78 380.83 L466.06 383.12 L466.36 385.4 L466.7 387.6 L467.08 389.86 L467.49 392.31 L467.92 394.86 L468.38 397.41 L468.84 399.87 L469.3 402.15 L469.76 404.16 L470.2 405.8 L470.63 407.06 L471.06 408.01 L471.48 408.72 L471.91 409.24 L472.33 409.61 L472.75 409.89 L473.18 410.14 L473.6 410.4 L474.03 410.65 L474.45 410.83 L474.88 410.94 L475.3 410.97 L475.73 410.94 L476.15 410.83 L476.58 410.65 L477 410.4 L477.43 410.14 L477.85 409.89 L478.27 409.61 L478.7 409.24 L479.12 408.72 L479.55 408.01 L479.98 407.06 L480.4 405.8 L480.83 404.15 L481.27 402.12 L481.71 399.81 L482.14 397.32 L482.58 394.76 L483 392.22 L483.41 389.8 L483.8 387.6 L484.17 385.52 L484.53 383.43 L484.87 381.36 L485.21 379.36 L485.53 377.48 L485.86 375.76 L486.18 374.25 L486.5 373 L486.82 372.04 L487.14 371.35 L487.46 370.88 L487.77 370.56 L488.08 370.35 L488.39 370.19 L488.69 370.03 L489 369.8 L489.31 369.56 L489.61 369.37 L489.91 369.22 L490.21 369.09 L490.51 368.98 L490.81 368.87 L491.11 368.75 L491.4 368.6 L491.69 368.42 L491.98 368.22 L492.27 368 L492.55 367.79 L492.83 367.58 L493.12 367.39 L493.41 367.23 L493.7 367.1 L494 367.02 L494.31 366.98 L494.62 366.97 L494.94 366.98 L495.25 366.99 L495.55 366.99 L495.83 366.96 L496.1 366.9 L496.35 366.78 L496.57 366.62 L496.78 366.43 L496.99 366.23 L497.19 366.04 L497.38 365.88 L497.59 365.76 L497.8 365.7 L498.02 365.71 L498.23 365.79 L498.45 365.9 L498.66 366.04 L498.88 366.2 L499.11 366.35 L499.35 366.49 L499.6 366.6 L499.86 366.69 L500.14 366.8 L500.43 366.9 L500.72 366.99 L501.02 367.07 L501.31 367.12 L501.61 367.13 L501.9 367.1 L502.18 367.01 L502.46 366.88 L502.73 366.71 L503.01 366.51 L503.29 366.29 L503.58 366.08 L503.88 365.88 L504.2 365.7 L504.55 365.53 L504.93 365.33 L505.33 365.14 L505.74 364.95 L506.14 364.78 L506.52 364.64 L506.88 364.54 L507.2 364.5 L507.47 364.53 L507.7 364.64 L507.91 364.8 L508.09 364.99 L508.28 365.17 L508.46 365.34 L508.67 365.46 L508.9 365.5 L509.16 365.47 L509.44 365.38 L509.72 365.26 L510.02 365.11 L510.32 364.94 L510.62 364.78 L510.91 364.62 L511.2 364.5 L511.48 364.32 L511.75 364.05 L512.03 363.74 L512.3 363.46 L512.57 363.26 L512.85 363.21 L513.12 363.37 L513.4 363.8 L513.68 364.49 L513.94 365.38 L514.21 366.44 L514.48 367.67 L514.75 369.04 L515.05 370.55 L515.36 372.18 L515.7 373.9 L516.06 375.82 L516.44 377.99 L516.84 380.33 L517.26 382.77 L517.69 385.25 L518.14 387.68 L518.61 389.98 L519.1 392.1 L519.61 394.07 L520.14 396 L520.69 397.87 L521.26 399.66 L521.84 401.36 L522.44 402.96 L523.06 404.44 L523.7 405.8 L524.3 407.03 L524.83 408.16 L525.36 409.17 L525.91 410.08 L526.55 410.89 L527.31 411.59 L528.24 412.2 L529.4 412.7 L530.81 413.06 L532.46 413.25 L534.28 413.31 L536.23 413.29 L538.25 413.21 L540.29 413.13 L542.29 413.08 L544.2 413.1 L546.12 413.19 L548.14 413.3 L550.2 413.43 L552.24 413.56 L554.2 413.67 L556.02 413.76 L557.64 413.81 L559 413.8 L560.05 413.72 L560.82 413.55 L561.39 413.34 L561.82 413.11 L562.18 412.88 L562.53 412.69 L562.95 412.55 L563.5 412.5 L564.16 412.56 L564.85 412.71 L565.57 412.92 L566.31 413.16 L567.05 413.4 L567.78 413.6 L568.5 413.75 L569.2 413.8 L569.89 413.77 L570.59 413.7 L571.29 413.58 L571.98 413.42 L572.65 413.23 L573.28 412.99 L573.87 412.71 L574.4 412.4 L574.88 412.1 L575.31 411.82 L575.7 411.53 L576.06 411.19 L576.38 410.76 L576.68 410.19 L576.95 409.45 L577.2 408.5 L577.42 407.39 L577.59 406.17 L577.74 404.83 L577.86 403.33 L577.96 401.65 L578.06 399.75 L578.17 397.61 L578.3 395.2 L578.44 392.3 L578.57 388.84 L578.71 385.02 L578.85 381.05 L578.99 377.12 L579.12 373.44 L579.26 370.2 L579.4 367.6 L579.53 365.65 L579.66 364.15 L579.79 363.01 L579.91 362.16 L580.04 361.51 L580.18 360.97 L580.33 360.46 L580.5 359.9 L580.68 359.36 L580.87 358.95 L581.07 358.65 L581.28 358.42 L581.5 358.25 L581.73 358.09 L581.96 357.91 L582.2 357.7 L582.46 357.45 L582.73 357.19 L583.01 356.92 L583.31 356.68 L583.6 356.45 L583.88 356.25 L584.15 356.1 L584.4 356 L584.63 355.92 L584.84 355.82 L585.04 355.74 L585.23 355.71 L585.42 355.75 L585.61 355.9 L585.8 356.17 L586 356.6 L586.21 357.19 L586.42 357.92 L586.63 358.77 L586.85 359.73 L587.07 360.77 L587.28 361.89 L587.49 363.07 L587.7 364.3 L587.9 365.58 L588.1 366.93 L588.3 368.36 L588.5 369.85 L588.7 371.41 L588.9 373.04 L589.1 374.74 L589.3 376.5 L589.51 378.39 L589.72 380.42 L589.93 382.56 L590.14 384.75 L590.36 386.94 L590.57 389.08 L590.79 391.11 L591 393 L591.21 394.81 L591.43 396.61 L591.64 398.38 L591.86 400.06 L592.07 401.63 L592.28 403.03 L592.49 404.24 L592.7 405.2 L592.9 405.89 L593.1 406.32 L593.3 406.55 L593.5 406.62 L593.7 406.58 L593.9 406.48 L594.1 406.37 L594.3 406.3 L594.51 406.2 L594.72 405.99 L594.93 405.72 L595.15 405.41 L595.37 405.11 L595.58 404.85 L595.79 404.67 L596 404.6 L596.2 404.69 L596.4 404.93 L596.6 405.26 L596.8 405.62 L597 405.96 L597.2 406.22 L597.4 406.36 L597.6 406.3 L597.81 406.12 L598.02 405.89 L598.23 405.58 L598.45 405.18 L598.67 404.63 L598.88 403.92 L599.09 403.02 L599.3 401.9 L599.5 400.52 L599.7 398.88 L599.9 397.05 L600.1 395.05 L600.3 392.94 L600.5 390.77 L600.7 388.57 L600.9 386.4 L601.11 384.11 L601.32 381.59 L601.53 378.96 L601.74 376.31 L601.96 373.74 L602.17 371.36 L602.39 369.28 L602.6 367.6 L602.8 366.35 L602.99 365.45 L603.17 364.83 L603.35 364.4 L603.55 364.1 L603.76 363.85 L604.01 363.58 L604.3 363.2 L604.64 362.76 L605.01 362.35 L605.42 361.96 L605.85 361.59 L606.29 361.26 L606.74 360.94 L607.18 360.66 L607.6 360.4 L608.02 360.18 L608.46 360.02 L608.91 359.88 L609.36 359.77 L609.79 359.67 L610.19 359.57 L610.57 359.45 L610.9 359.3 L611.18 359.1 L611.42 358.86 L611.62 358.6 L611.8 358.33 L611.97 358.09 L612.13 357.89 L612.31 357.75 L612.5 357.7 L612.7 357.73 L612.91 357.81 L613.11 357.94 L613.31 358.12 L613.52 358.35 L613.74 358.62 L613.96 358.94 L614.2 359.3 L614.45 359.71 L614.71 360.19 L614.99 360.71 L615.27 361.28 L615.55 361.88 L615.84 362.5 L616.12 363.15 L616.4 363.8 L616.68 364.46 L616.96 365.13 L617.25 365.81 L617.53 366.52 L617.81 367.27 L618.09 368.06 L618.35 368.9 L618.6 369.8 L618.83 370.8 L619.05 371.9 L619.25 373.07 L619.45 374.28 L619.65 375.48 L619.85 376.65 L620.07 377.73 L620.3 378.7 L620.55 379.55 L620.8 380.31 L621.07 381.01 L621.34 381.66 L621.62 382.29 L621.9 382.9 L622.2 383.54 L622.5 384.2 L622.8 384.89 L623.1 385.57 L623.4 386.26 L623.71 386.95 L624.03 387.64 L624.39 388.32 L624.77 389.01 L625.2 389.7 L625.69 390.42 L626.24 391.19 L626.83 391.99 L627.44 392.77 L628.05 393.51 L628.65 394.18 L629.2 394.76 L629.7 395.2 L630.12 395.47 L630.47 395.59 L630.78 395.59 L631.08 395.53 L631.38 395.45 L631.72 395.41 L632.11 395.44 L632.6 395.6 L633.18 395.86 L633.83 396.16 L634.53 396.51 L635.28 396.9 L636.04 397.34 L636.81 397.84 L637.57 398.39 L638.3 399 L639.02 399.69 L639.75 400.49 L640.49 401.35 L641.22 402.26 L641.95 403.18 L642.66 404.1 L643.34 404.98 L644 405.8 L644.61 406.59 L645.18 407.4 L645.72 408.2 L646.25 408.98 L646.78 409.71 L647.32 410.39 L647.89 410.99 L648.5 411.5 L649.02 411.9 L649.39 412.21 L649.7 412.44 L650.06 412.61 L650.59 412.75 L651.38 412.86 L652.55 412.97 L654.2 413.1 L656.58 413.24 L659.7 413.35 L663.29 413.46 L667.11 413.55 L670.87 413.63 L674.34 413.7 L677.23 413.75 L679.3 413.8 L679.3 413.8 L677.23 413.75 L674.34 413.7 L670.87 413.63 L667.11 413.55 L663.29 413.46 L659.7 413.35 L656.58 413.24 L654.2 413.1 L652.55 412.97 L651.38 412.86 L650.59 412.75 L650.06 412.61 L649.7 412.53 L649.39 412.39 L649.02 412.2 L648.5 411.95 L647.89 411.62 L647.32 411.19 L646.78 410.68 L646.25 410.1 L645.72 409.48 L645.18 408.84 L644.61 408.17 L644 407.5 L643.34 406.81 L642.66 406.07 L641.95 405.29 L641.22 404.51 L640.49 403.75 L639.75 403.02 L639.02 402.32 L638.3 401.71 L637.57 401.2 L636.81 400.74 L636.04 400.34 L635.28 399.99 L634.53 399.69 L633.83 399.43 L633.18 399.21 L632.6 399.03 L632.11 398.93 L631.72 398.97 L631.38 399.09 L631.08 399.23 L630.78 399.35 L630.47 399.42 L630.12 399.38 L629.7 399.19 L629.2 398.86 L628.65 398.4 L628.05 397.86 L627.44 397.25 L626.83 396.6 L626.24 395.93 L625.69 395.28 L625.2 394.66 L624.77 394.01 L624.39 393.32 L624.03 392.64 L623.71 391.95 L623.4 391.26 L623.1 390.57 L622.8 389.89 L622.5 389.2 L622.2 388.54 L621.9 387.9 L621.62 387.29 L621.34 386.66 L621.07 386.01 L620.8 385.31 L620.55 384.55 L620.3 383.7 L620.07 382.73 L619.85 381.65 L619.65 380.48 L619.45 379.28 L619.25 378.07 L619.05 376.9 L618.83 375.96 L618.6 375.2 L618.35 374.55 L618.09 373.98 L617.81 373.46 L617.53 372.99 L617.25 372.57 L616.96 372.16 L616.68 371.78 L616.4 371.4 L616.12 371.02 L615.84 370.62 L615.55 370.21 L615.27 369.82 L614.99 369.47 L614.71 369.15 L614.45 368.88 L614.2 368.65 L613.96 368.47 L613.74 368.32 L613.52 368.21 L613.31 368.13 L613.11 368.11 L612.91 368.13 L612.7 368.2 L612.5 368.32 L612.31 368.52 L612.13 368.79 L611.97 369.07 L611.8 369.25 L611.62 369.43 L611.42 369.61 L611.18 369.75 L610.9 369.83 L610.57 369.84 L610.19 369.8 L609.79 369.73 L609.36 369.64 L608.91 369.56 L608.46 369.5 L608.02 369.48 L607.6 369.51 L607.18 369.59 L606.74 369.69 L606.29 369.81 L605.85 369.96 L605.42 370.14 L605.01 370.35 L604.64 370.31 L604.3 370.32 L604.01 370.34 L603.76 370.3 L603.55 370.28 L603.35 370.34 L603.17 370.53 L602.99 370.93 L602.8 371.6 L602.6 372.6 L602.39 373.91 L602.17 375.63 L601.96 377.63 L601.74 379.82 L601.53 382.11 L601.32 384.38 L601.11 386.53 L600.9 388.46 L600.7 390.28 L600.5 392.12 L600.3 393.96 L600.1 395.72 L599.9 397.55 L599.7 399.38 L599.5 401.02 L599.3 402.4 L599.09 403.52 L598.88 404.42 L598.67 405.13 L598.45 405.68 L598.23 406.08 L598.02 406.39 L597.81 406.62 L597.6 406.8 L597.4 406.86 L597.2 406.72 L597 406.46 L596.8 406.12 L596.6 405.76 L596.4 405.43 L596.2 405.19 L596 405.1 L595.79 405.17 L595.58 405.35 L595.37 405.61 L595.15 405.91 L594.93 406.22 L594.72 406.49 L594.51 406.7 L594.3 406.8 L594.1 406.87 L593.9 406.98 L593.7 407.08 L593.5 407.12 L593.3 407.05 L593.1 406.82 L592.9 406.39 L592.7 405.7 L592.49 404.74 L592.28 403.53 L592.07 402.13 L591.86 400.68 L591.64 399.18 L591.43 397.59 L591.21 395.96 L591 394.33 L590.79 392.62 L590.57 390.77 L590.36 388.81 L590.14 386.8 L589.93 384.79 L589.72 382.83 L589.51 380.96 L589.3 379.25 L589.1 377.66 L588.9 376.36 L588.7 375.32 L588.5 374.35 L588.3 373.45 L588.1 372.62 L587.9 371.87 L587.7 371.2 L587.49 370.6 L587.28 370.05 L587.07 369.57 L586.85 368.73 L586.63 367.77 L586.42 366.92 L586.21 366.19 L586 365.6 L585.8 365.17 L585.61 364.9 L585.42 364.75 L585.23 364.71 L585.04 364.74 L584.84 364.82 L584.63 364.92 L584.4 365 L584.15 365.1 L583.88 365.25 L583.6 365.45 L583.31 365.68 L583.01 365.92 L582.73 366.19 L582.46 366.45 L582.2 366.7 L581.96 366.91 L581.73 367.09 L581.5 367.25 L581.28 367.42 L581.07 367.65 L580.87 367.71 L580.68 367.76 L580.5 367.96 L580.33 368.21 L580.18 368.44 L580.04 368.72 L579.91 369.12 L579.79 369.74 L579.66 370.64 L579.53 371.9 L579.4 373.6 L579.26 375.87 L579.12 378.78 L578.99 382.14 L578.85 385.74 L578.71 389.39 L578.57 392.88 L578.44 396.01 L578.3 398.59 L578.17 400.7 L578.06 402.58 L577.96 404.23 L577.86 405.66 L577.74 406.88 L577.59 407.88 L577.42 408.68 L577.2 409.28 L576.95 409.75 L576.68 410.49 L576.38 411.06 L576.06 411.49 L575.7 411.83 L575.31 412.12 L574.88 412.4 L574.4 412.7 L573.87 413.01 L573.28 413.29 L572.65 413.53 L571.98 413.72 L571.29 413.88 L570.59 414 L569.89 414.07 L569.2 414.1 L568.5 414.05 L567.78 413.9 L567.05 413.7 L566.31 413.46 L565.57 413.22 L564.85 413.01 L564.16 412.86 L563.5 412.8 L562.95 412.85 L562.53 412.99 L562.18 413.18 L561.82 413.41 L561.39 413.64 L560.82 413.85 L560.05 414.02 L559 414.1 L557.64 414.11 L556.02 414.06 L554.2 413.97 L552.24 413.86 L550.2 413.73 L548.14 413.6 L546.12 413.49 L544.2 413.4 L542.29 413.38 L540.29 413.43 L538.25 413.51 L536.23 413.59 L534.28 413.61 L532.46 413.55 L530.81 413.36 L529.4 413 L528.24 412.5 L527.31 411.89 L526.55 411.19 L525.91 410.38 L525.36 409.47 L524.83 408.46 L524.3 407.33 L523.7 406.1 L523.06 404.74 L522.44 403.26 L521.84 401.71 L521.26 400.21 L520.69 398.61 L520.14 396.93 L519.61 395.19 L519.1 393.39 L518.61 391.44 L518.14 389.29 L517.69 387.01 L517.26 384.69 L516.84 382.71 L516.44 381.34 L516.06 380.1 L515.7 379.07 L515.36 378.17 L515.05 377.31 L514.75 376.52 L514.48 375.29 L514.21 374.09 L513.94 373.05 L513.68 372.19 L513.4 371.53 L513.12 371.13 L512.85 371 L512.57 371.07 L512.3 371.3 L512.03 371.61 L511.75 371.95 L511.48 372.25 L511.2 372.46 L510.91 372.61 L510.62 372.79 L510.32 372.99 L510.02 373.18 L509.72 373.36 L509.44 373.52 L509.16 373.63 L508.9 373.69 L508.67 373.67 L508.46 373.57 L508.28 373.43 L508.09 373.26 L507.91 373.09 L507.7 372.95 L507.47 372.87 L507.2 372.86 L506.88 372.94 L506.52 373.07 L506.14 373.25 L505.74 373.46 L505.33 373.69 L504.93 373.93 L504.55 374.16 L504.2 374.37 L503.88 374.58 L503.58 374.81 L503.29 375.06 L503.01 375.3 L502.73 375.52 L502.46 375.73 L502.18 375.89 L501.9 376 L501.61 376.06 L501.31 376.08 L501.02 376.06 L500.72 376.02 L500.43 375.95 L500.14 375.88 L499.86 375.8 L499.6 375.74 L499.35 375.65 L499.11 375.54 L498.88 375.41 L498.66 375.28 L498.45 375.16 L498.23 375.06 L498.02 375.01 L497.8 374.96 L497.59 374.98 L497.38 375.06 L497.19 375.19 L496.99 375.34 L496.78 375.5 L496.57 375.65 L496.35 375.77 L496.1 375.84 L495.83 375.85 L495.55 375.83 L495.25 375.77 L494.94 375.7 L494.62 375.64 L494.31 375.58 L494 375.56 L493.7 375.59 L493.41 375.66 L493.12 375.77 L492.83 375.9 L492.55 376.06 L492.27 376.22 L491.98 376.38 L491.69 376.53 L491.4 376.65 L491.11 376.75 L490.81 376.82 L490.51 376.87 L490.21 376.92 L489.91 376.99 L489.61 377.08 L489.31 377.21 L489 377.4 L488.69 377.53 L488.39 377.61 L488.08 377.68 L487.77 377.79 L487.46 378.01 L487.14 378.39 L486.82 378.74 L486.5 379.16 L486.18 379.88 L485.86 380.85 L485.53 382.02 L485.21 383.36 L484.87 384.8 L484.53 386.29 L484.17 387.79 L483.8 389.24 L483.41 390.78 L483 392.52 L482.58 395.06 L482.14 397.62 L481.71 400.11 L481.27 402.42 L480.83 404.45 L480.4 406.1 L479.98 407.36 L479.55 408.31 L479.12 409.02 L478.7 409.54 L478.27 409.91 L477.85 410.19 L477.43 410.44 L477 410.7 L476.58 410.95 L476.15 411.13 L475.73 411.24 L475.3 411.27 L474.88 411.24 L474.45 411.13 L474.03 410.95 L473.6 410.7 L473.18 410.44 L472.75 410.19 L472.33 409.91 L471.91 409.54 L471.48 409.02 L471.06 408.31 L470.63 407.36 L470.2 406.1 L469.76 404.62 L469.3 402.93 L468.84 400.96 L468.38 398.81 L467.92 396.56 L467.49 394.31 L467.08 392.14 L466.7 390.13 L466.36 388.16 L466.06 386.08 L465.78 384.25 L465.52 382.51 L465.28 380.89 L465.03 379.45 L464.77 378.29 L464.5 377.48 L464.23 377.06 L463.99 376.96 L463.75 377.1 L463.5 377.45 L463.24 377.66 L462.94 377.72 L462.6 377.73 L462.2 377.62 L461.73 377.43 L461.18 377.25 L460.59 377.08 L459.97 376.92 L459.34 376.75 L458.72 376.57 L458.13 376.38 L457.6 376.19 L457.11 375.94 L456.64 375.62 L456.19 375.27 L455.76 374.93 L455.34 374.61 L454.94 374.37 L454.56 374.23 L454.2 374.23 L453.86 374.32 L453.55 374.46 L453.26 374.42 L452.98 374.25 L452.71 374.2 L452.45 374.29 L452.18 374.52 L451.9 374.89 L451.61 375.37 L451.32 375.91 L451.03 376.56 L450.74 377.36 L450.46 378.35 L450.17 379.58 L449.88 381.07 L449.6 382.87 L449.33 385.22 L449.07 388.18 L448.82 391.52 L448.57 395.05 L448.31 398.55 L448.03 401.8 L447.73 404.6 L447.4 406.73 L447.1 408.32 L446.85 409.87 L446.62 411.24 L446.35 412.34 L446 413.24 L445.52 413.96 L444.87 414.58 L444 415.14 L442.78 415.56 L441.2 415.73 L439.4 415.72 L437.49 415.59 L435.61 415.39 L433.88 415.17 L432.43 414.99 L431.4 414.91Z" fill="#79ACE0" fill-opacity="0.72" stroke="none" clip-path="url(#cb)"/>
<path d="M431.4 414.9 L432.43 414.96 L433.88 415.11 L435.61 415.3 L437.49 415.47 L439.4 415.57 L441.2 415.54 L442.78 415.34 L444 414.9 L444.87 414.32 L445.52 413.69 L446 412.95 L446.35 412.06 L446.62 410.95 L446.85 409.57 L447.1 407.87 L447.4 405.8 L447.73 403.15 L448.03 399.88 L448.31 396.2 L448.57 392.29 L448.82 388.37 L449.07 384.63 L449.33 381.28 L449.6 378.5 L449.88 376.25 L450.17 374.33 L450.46 372.68 L450.74 371.26 L451.03 370.04 L451.32 368.97 L451.61 368 L451.9 367.1 L452.18 366.31 L452.45 365.69 L452.71 365.21 L452.98 364.87 L453.26 364.63 L453.55 364.49 L453.86 364.42 L454.2 364.4 L454.56 364.48 L454.94 364.7 L455.34 365.03 L455.76 365.44 L456.19 365.88 L456.64 366.33 L457.11 366.74 L457.6 367.1 L458.13 367.41 L458.72 367.71 L459.34 368 L459.97 368.28 L460.59 368.56 L461.18 368.84 L461.73 369.12 L462.2 369.4 L462.6 369.59 L462.94 369.63 L463.24 369.63 L463.5 369.64 L463.75 369.77 L463.99 370.08 L464.23 370.67 L464.5 371.6 L464.77 372.92 L465.03 374.58 L465.28 376.49 L465.52 378.6 L465.78 380.83 L466.06 383.12 L466.36 385.4 L466.7 387.6 L467.08 389.86 L467.49 392.31 L467.92 394.86 L468.38 397.41 L468.84 399.87 L469.3 402.15 L469.76 404.16 L470.2 405.8 L470.63 407.06 L471.06 408.01 L471.48 408.72 L471.91 409.24 L472.33 409.61 L472.75 409.89 L473.18 410.14 L473.6 410.4 L474.03 410.65 L474.45 410.83 L474.88 410.94 L475.3 410.97 L475.73 410.94 L476.15 410.83 L476.58 410.65 L477 410.4 L477.43 410.14 L477.85 409.89 L478.27 409.61 L478.7 409.24 L479.12 408.72 L479.55 408.01 L479.98 407.06 L480.4 405.8 L480.83 404.15 L481.27 402.12 L481.71 399.81 L482.14 397.32 L482.58 394.76 L483 392.22 L483.41 389.8 L483.8 387.6 L484.17 385.52 L484.53 383.43 L484.87 381.36 L485.21 379.36 L485.53 377.48 L485.86 375.76 L486.18 374.25 L486.5 373 L486.82 372.04 L487.14 371.35 L487.46 370.88 L487.77 370.56 L488.08 370.35 L488.39 370.19 L488.69 370.03 L489 369.8 L489.31 369.56 L489.61 369.37 L489.91 369.22 L490.21 369.09 L490.51 368.98 L490.81 368.87 L491.11 368.75 L491.4 368.6 L491.69 368.42 L491.98 368.22 L492.27 368 L492.55 367.79 L492.83 367.58 L493.12 367.39 L493.41 367.23 L493.7 367.1 L494 367.02 L494.31 366.98 L494.62 366.97 L494.94 366.98 L495.25 366.99 L495.55 366.99 L495.83 366.96 L496.1 366.9 L496.35 366.78 L496.57 366.62 L496.78 366.43 L496.99 366.23 L497.19 366.04 L497.38 365.88 L497.59 365.76 L497.8 365.7 L498.02 365.71 L498.23 365.79 L498.45 365.9 L498.66 366.04 L498.88 366.2 L499.11 366.35 L499.35 366.49 L499.6 366.6 L499.86 366.69 L500.14 366.8 L500.43 366.9 L500.72 366.99 L501.02 367.07 L501.31 367.12 L501.61 367.13 L501.9 367.1 L502.18 367.01 L502.46 366.88 L502.73 366.71 L503.01 366.51 L503.29 366.29 L503.58 366.08 L503.88 365.88 L504.2 365.7 L504.55 365.53 L504.93 365.33 L505.33 365.14 L505.74 364.95 L506.14 364.78 L506.52 364.64 L506.88 364.54 L507.2 364.5 L507.47 364.53 L507.7 364.64 L507.91 364.8 L508.09 364.99 L508.28 365.17 L508.46 365.34 L508.67 365.46 L508.9 365.5 L509.16 365.47 L509.44 365.38 L509.72 365.26 L510.02 365.11 L510.32 364.94 L510.62 364.78 L510.91 364.62 L511.2 364.5 L511.48 364.32 L511.75 364.05 L512.03 363.74 L512.3 363.46 L512.57 363.26 L512.85 363.21 L513.12 363.37 L513.4 363.8 L513.68 364.49 L513.94 365.38 L514.21 366.44 L514.48 367.67 L514.75 369.04 L515.05 370.55 L515.36 372.18 L515.7 373.9 L516.06 375.82 L516.44 377.99 L516.84 380.33 L517.26 382.77 L517.69 385.25 L518.14 387.68 L518.61 389.98 L519.1 392.1 L519.61 394.07 L520.14 396 L520.69 397.87 L521.26 399.66 L521.84 401.36 L522.44 402.96 L523.06 404.44 L523.7 405.8 L524.3 407.03 L524.83 408.16 L525.36 409.17 L525.91 410.08 L526.55 410.89 L527.31 411.59 L528.24 412.2 L529.4 412.7 L530.81 413.06 L532.46 413.25 L534.28 413.31 L536.23 413.29 L538.25 413.21 L540.29 413.13 L542.29 413.08 L544.2 413.1 L546.12 413.19 L548.14 413.3 L550.2 413.43 L552.24 413.56 L554.2 413.67 L556.02 413.76 L557.64 413.81 L559 413.8 L560.05 413.72 L560.82 413.55 L561.39 413.34 L561.82 413.11 L562.18 412.88 L562.53 412.69 L562.95 412.55 L563.5 412.5 L564.16 412.56 L564.85 412.71 L565.57 412.92 L566.31 413.16 L567.05 413.4 L567.78 413.6 L568.5 413.75 L569.2 413.8 L569.89 413.77 L570.59 413.7 L571.29 413.58 L571.98 413.42 L572.65 413.23 L573.28 412.99 L573.87 412.71 L574.4 412.4 L574.88 412.1 L575.31 411.82 L575.7 411.53 L576.06 411.19 L576.38 410.76 L576.68 410.19 L576.95 409.45 L577.2 408.5 L577.42 407.39 L577.59 406.17 L577.74 404.83 L577.86 403.33 L577.96 401.65 L578.06 399.75 L578.17 397.61 L578.3 395.2 L578.44 392.3 L578.57 388.84 L578.71 385.02 L578.85 381.05 L578.99 377.12 L579.12 373.44 L579.26 370.2 L579.4 367.6 L579.53 365.65 L579.66 364.15 L579.79 363.01 L579.91 362.16 L580.04 361.51 L580.18 360.97 L580.33 360.46 L580.5 359.9 L580.68 359.36 L580.87 358.95 L581.07 358.65 L581.28 358.42 L581.5 358.25 L581.73 358.09 L581.96 357.91 L582.2 357.7 L582.46 357.45 L582.73 357.19 L583.01 356.92 L583.31 356.68 L583.6 356.45 L583.88 356.25 L584.15 356.1 L584.4 356 L584.63 355.92 L584.84 355.82 L585.04 355.74 L585.23 355.71 L585.42 355.75 L585.61 355.9 L585.8 356.17 L586 356.6 L586.21 357.19 L586.42 357.92 L586.63 358.77 L586.85 359.73 L587.07 360.77 L587.28 361.89 L587.49 363.07 L587.7 364.3 L587.9 365.58 L588.1 366.93 L588.3 368.36 L588.5 369.85 L588.7 371.41 L588.9 373.04 L589.1 374.74 L589.3 376.5 L589.51 378.39 L589.72 380.42 L589.93 382.56 L590.14 384.75 L590.36 386.94 L590.57 389.08 L590.79 391.11 L591 393 L591.21 394.81 L591.43 396.61 L591.64 398.38 L591.86 400.06 L592.07 401.63 L592.28 403.03 L592.49 404.24 L592.7 405.2 L592.9 405.89 L593.1 406.32 L593.3 406.55 L593.5 406.62 L593.7 406.58 L593.9 406.48 L594.1 406.37 L594.3 406.3 L594.51 406.2 L594.72 405.99 L594.93 405.72 L595.15 405.41 L595.37 405.11 L595.58 404.85 L595.79 404.67 L596 404.6 L596.2 404.69 L596.4 404.93 L596.6 405.26 L596.8 405.62 L597 405.96 L597.2 406.22 L597.4 406.36 L597.6 406.3 L597.81 406.12 L598.02 405.89 L598.23 405.58 L598.45 405.18 L598.67 404.63 L598.88 403.92 L599.09 403.02 L599.3 401.9 L599.5 400.52 L599.7 398.88 L599.9 397.05 L600.1 395.05 L600.3 392.94 L600.5 390.77 L600.7 388.57 L600.9 386.4 L601.11 384.11 L601.32 381.59 L601.53 378.96 L601.74 376.31 L601.96 373.74 L602.17 371.36 L602.39 369.28 L602.6 367.6 L602.8 366.35 L602.99 365.45 L603.17 364.83 L603.35 364.4 L603.55 364.1 L603.76 363.85 L604.01 363.58 L604.3 363.2 L604.64 362.76 L605.01 362.35 L605.42 361.96 L605.85 361.59 L606.29 361.26 L606.74 360.94 L607.18 360.66 L607.6 360.4 L608.02 360.18 L608.46 360.02 L608.91 359.88 L609.36 359.77 L609.79 359.67 L610.19 359.57 L610.57 359.45 L610.9 359.3 L611.18 359.1 L611.42 358.86 L611.62 358.6 L611.8 358.33 L611.97 358.09 L612.13 357.89 L612.31 357.75 L612.5 357.7 L612.7 357.73 L612.91 357.81 L613.11 357.94 L613.31 358.12 L613.52 358.35 L613.74 358.62 L613.96 358.94 L614.2 359.3 L614.45 359.71 L614.71 360.19 L614.99 360.71 L615.27 361.28 L615.55 361.88 L615.84 362.5 L616.12 363.15 L616.4 363.8 L616.68 364.46 L616.96 365.13 L617.25 365.81 L617.53 366.52 L617.81 367.27 L618.09 368.06 L618.35 368.9 L618.6 369.8 L618.83 370.8 L619.05 371.9 L619.25 373.07 L619.45 374.28 L619.65 375.48 L619.85 376.65 L620.07 377.73 L620.3 378.7 L620.55 379.55 L620.8 380.31 L621.07 381.01 L621.34 381.66 L621.62 382.29 L621.9 382.9 L622.2 383.54 L622.5 384.2 L622.8 384.89 L623.1 385.57 L623.4 386.26 L623.71 386.95 L624.03 387.64 L624.39 388.32 L624.77 389.01 L625.2 389.7 L625.69 390.42 L626.24 391.19 L626.83 391.99 L627.44 392.77 L628.05 393.51 L628.65 394.18 L629.2 394.76 L629.7 395.2 L630.12 395.47 L630.47 395.59 L630.78 395.59 L631.08 395.53 L631.38 395.45 L631.72 395.41 L632.11 395.44 L632.6 395.6 L633.18 395.86 L633.83 396.16 L634.53 396.51 L635.28 396.9 L636.04 397.34 L636.81 397.84 L637.57 398.39 L638.3 399 L639.02 399.69 L639.75 400.49 L640.49 401.35 L641.22 402.26 L641.95 403.18 L642.66 404.1 L643.34 404.98 L644 405.8 L644.61 406.59 L645.18 407.4 L645.72 408.2 L646.25 408.98 L646.78 409.71 L647.32 410.39 L647.89 410.99 L648.5 411.5 L649.02 411.9 L649.39 412.21 L649.7 412.44 L650.06 412.61 L650.59 412.75 L651.38 412.86 L652.55 412.97 L654.2 413.1 L656.58 413.24 L659.7 413.35 L663.29 413.46 L667.11 413.55 L670.87 413.63 L674.34 413.7 L677.23 413.75 L679.3 413.8" fill="none" stroke="#79ACE0" stroke-width="3" stroke-linejoin="round" stroke-linecap="round" stroke-opacity="1" clip-path="url(#cb)"/>
<line x1="431.8" y1="20.3" x2="678.5" y2="20.3" stroke="#1a1a1a" stroke-width="1.3"/>
<line x1="431.8" y1="421" x2="678.5" y2="421" stroke="#1a1a1a" stroke-width="1.3"/>
<line x1="431.8" y1="106.2" x2="678.5" y2="106.2" stroke="#1a1a1a" stroke-width="1.3"/>
<line x1="431.8" y1="263.8" x2="678.5" y2="263.8" stroke="#1a1a1a" stroke-width="1.3"/>
<line x1="431.8" y1="19.7" x2="431.8" y2="421.6" stroke="#1a1a1a" stroke-width="1.3"/>
<line x1="678.5" y1="19.7" x2="678.5" y2="421.6" stroke="#1a1a1a" stroke-width="1.3"/>
<line x1="456.47" y1="106.2" x2="456.47" y2="104.2" stroke="#1a1a1a" stroke-width="1.1"/>
<line x1="481.14" y1="106.2" x2="481.14" y2="102.2" stroke="#1a1a1a" stroke-width="1.1"/>
<line x1="505.81" y1="106.2" x2="505.81" y2="104.2" stroke="#1a1a1a" stroke-width="1.1"/>
<line x1="530.48" y1="106.2" x2="530.48" y2="102.2" stroke="#1a1a1a" stroke-width="1.1"/>
<line x1="555.15" y1="106.2" x2="555.15" y2="104.2" stroke="#1a1a1a" stroke-width="1.1"/>
<line x1="579.82" y1="106.2" x2="579.82" y2="102.2" stroke="#1a1a1a" stroke-width="1.1"/>
<line x1="604.49" y1="106.2" x2="604.49" y2="104.2" stroke="#1a1a1a" stroke-width="1.1"/>
<line x1="629.16" y1="106.2" x2="629.16" y2="102.2" stroke="#1a1a1a" stroke-width="1.1"/>
<line x1="653.83" y1="106.2" x2="653.83" y2="104.2" stroke="#1a1a1a" stroke-width="1.1"/>
<line x1="456.47" y1="263.8" x2="456.47" y2="261.8" stroke="#1a1a1a" stroke-width="1.1"/>
<line x1="481.14" y1="263.8" x2="481.14" y2="259.8" stroke="#1a1a1a" stroke-width="1.1"/>
<line x1="505.81" y1="263.8" x2="505.81" y2="261.8" stroke="#1a1a1a" stroke-width="1.1"/>
<line x1="530.48" y1="263.8" x2="530.48" y2="259.8" stroke="#1a1a1a" stroke-width="1.1"/>
<line x1="555.15" y1="263.8" x2="555.15" y2="261.8" stroke="#1a1a1a" stroke-width="1.1"/>
<line x1="579.82" y1="263.8" x2="579.82" y2="259.8" stroke="#1a1a1a" stroke-width="1.1"/>
<line x1="604.49" y1="263.8" x2="604.49" y2="261.8" stroke="#1a1a1a" stroke-width="1.1"/>
<line x1="629.16" y1="263.8" x2="629.16" y2="259.8" stroke="#1a1a1a" stroke-width="1.1"/>
<line x1="653.83" y1="263.8" x2="653.83" y2="261.8" stroke="#1a1a1a" stroke-width="1.1"/>
<line x1="456.47" y1="421" x2="456.47" y2="419" stroke="#1a1a1a" stroke-width="1.1"/>
<line x1="481.14" y1="421" x2="481.14" y2="417" stroke="#1a1a1a" stroke-width="1.1"/>
<line x1="505.81" y1="421" x2="505.81" y2="419" stroke="#1a1a1a" stroke-width="1.1"/>
<line x1="530.48" y1="421" x2="530.48" y2="417" stroke="#1a1a1a" stroke-width="1.1"/>
<line x1="555.15" y1="421" x2="555.15" y2="419" stroke="#1a1a1a" stroke-width="1.1"/>
<line x1="579.82" y1="421" x2="579.82" y2="417" stroke="#1a1a1a" stroke-width="1.1"/>
<line x1="604.49" y1="421" x2="604.49" y2="419" stroke="#1a1a1a" stroke-width="1.1"/>
<line x1="629.16" y1="421" x2="629.16" y2="417" stroke="#1a1a1a" stroke-width="1.1"/>
<line x1="653.83" y1="421" x2="653.83" y2="419" stroke="#1a1a1a" stroke-width="1.1"/>
<text x="431.8" y="435.6" font-size="13" text-anchor="middle">0</text>
<text x="481.14" y="435.6" font-size="13" text-anchor="middle">10</text>
<text x="530.48" y="435.6" font-size="13" text-anchor="middle">20</text>
<text x="579.82" y="435.6" font-size="13" text-anchor="middle">30</text>
<text x="629.16" y="435.6" font-size="13" text-anchor="middle">40</text>
<text x="678.5" y="435.6" font-size="13" text-anchor="middle">50</text>
<text x="555.15" y="459.3" font-size="17" text-anchor="middle">Time (µs)</text>
<line x1="428.3" y1="92.2" x2="431.8" y2="92.2" stroke="#1a1a1a" stroke-width="1.1"/>
<text x="425.6" y="96.8" font-size="13" text-anchor="end">-1</text>
<line x1="428.3" y1="63.2" x2="431.8" y2="63.2" stroke="#1a1a1a" stroke-width="1.1"/>
<text x="425.6" y="67.8" font-size="13" text-anchor="end">0</text>
<line x1="428.3" y1="34.2" x2="431.8" y2="34.2" stroke="#1a1a1a" stroke-width="1.1"/>
<text x="425.6" y="38.8" font-size="13" text-anchor="end">1</text>
<line x1="429.8" y1="77.7" x2="431.8" y2="77.7" stroke="#1a1a1a" stroke-width="1"/>
<line x1="429.8" y1="48.7" x2="431.8" y2="48.7" stroke="#1a1a1a" stroke-width="1"/>
<line x1="428.3" y1="258.5" x2="431.8" y2="258.5" stroke="#1a1a1a" stroke-width="1.1"/>
<text x="425.6" y="263.1" font-size="13" text-anchor="end">0.0</text>
<line x1="428.3" y1="230.05" x2="431.8" y2="230.05" stroke="#1a1a1a" stroke-width="1.1"/>
<text x="425.6" y="234.65" font-size="13" text-anchor="end">5.0x10<tspan font-size="9" dy="-5.4">16</tspan></text>
<line x1="428.3" y1="201.6" x2="431.8" y2="201.6" stroke="#1a1a1a" stroke-width="1.1"/>
<text x="425.6" y="206.2" font-size="13" text-anchor="end">1.0x10<tspan font-size="9" dy="-5.4">17</tspan></text>
<line x1="428.3" y1="173.15" x2="431.8" y2="173.15" stroke="#1a1a1a" stroke-width="1.1"/>
<text x="425.6" y="177.75" font-size="13" text-anchor="end">1.5x10<tspan font-size="9" dy="-5.4">17</tspan></text>
<line x1="428.3" y1="144.7" x2="431.8" y2="144.7" stroke="#1a1a1a" stroke-width="1.1"/>
<text x="425.6" y="149.3" font-size="13" text-anchor="end">2.0x10<tspan font-size="9" dy="-5.4">17</tspan></text>
<line x1="428.3" y1="116.25" x2="431.8" y2="116.25" stroke="#1a1a1a" stroke-width="1.1"/>
<text x="425.6" y="120.85" font-size="13" text-anchor="end">2.5x10<tspan font-size="9" dy="-5.4">17</tspan></text>
<line x1="429.8" y1="244.28" x2="431.8" y2="244.28" stroke="#1a1a1a" stroke-width="1"/>
<line x1="429.8" y1="215.82" x2="431.8" y2="215.82" stroke="#1a1a1a" stroke-width="1"/>
<line x1="429.8" y1="187.38" x2="431.8" y2="187.38" stroke="#1a1a1a" stroke-width="1"/>
<line x1="429.8" y1="158.93" x2="431.8" y2="158.93" stroke="#1a1a1a" stroke-width="1"/>
<line x1="429.8" y1="130.47" x2="431.8" y2="130.47" stroke="#1a1a1a" stroke-width="1"/>
<line x1="428.3" y1="415.6" x2="431.8" y2="415.6" stroke="#1a1a1a" stroke-width="1.1"/>
<text x="425.6" y="420.2" font-size="13" text-anchor="end">0.0</text>
<line x1="428.3" y1="387.5" x2="431.8" y2="387.5" stroke="#1a1a1a" stroke-width="1.1"/>
<text x="425.6" y="392.1" font-size="13" text-anchor="end">5.0x10<tspan font-size="9" dy="-5.4">16</tspan></text>
<line x1="428.3" y1="359.4" x2="431.8" y2="359.4" stroke="#1a1a1a" stroke-width="1.1"/>
<text x="425.6" y="364" font-size="13" text-anchor="end">1.0x10<tspan font-size="9" dy="-5.4">17</tspan></text>
<line x1="428.3" y1="331.3" x2="431.8" y2="331.3" stroke="#1a1a1a" stroke-width="1.1"/>
<text x="425.6" y="335.9" font-size="13" text-anchor="end">1.5x10<tspan font-size="9" dy="-5.4">17</tspan></text>
<line x1="428.3" y1="303.2" x2="431.8" y2="303.2" stroke="#1a1a1a" stroke-width="1.1"/>
<text x="425.6" y="307.8" font-size="13" text-anchor="end">2.0x10<tspan font-size="9" dy="-5.4">17</tspan></text>
<line x1="428.3" y1="275.1" x2="431.8" y2="275.1" stroke="#1a1a1a" stroke-width="1.1"/>
<text x="425.6" y="279.7" font-size="13" text-anchor="end">2.5x10<tspan font-size="9" dy="-5.4">17</tspan></text>
<line x1="429.8" y1="401.55" x2="431.8" y2="401.55" stroke="#1a1a1a" stroke-width="1"/>
<line x1="429.8" y1="373.45" x2="431.8" y2="373.45" stroke="#1a1a1a" stroke-width="1"/>
<line x1="429.8" y1="345.35" x2="431.8" y2="345.35" stroke="#1a1a1a" stroke-width="1"/>
<line x1="429.8" y1="317.25" x2="431.8" y2="317.25" stroke="#1a1a1a" stroke-width="1"/>
<line x1="429.8" y1="289.15" x2="431.8" y2="289.15" stroke="#1a1a1a" stroke-width="1"/>
<text x="435.8" y="124.6" font-size="17" text-anchor="start">FBD</text>
<text x="433.8" y="284.6" font-size="17" text-anchor="start">DBD</text>
<line x1="520.6" y1="119.4" x2="547.9" y2="119.4" stroke="#800000" stroke-width="2.4" stroke-linecap="butt"/>
<line x1="567.9" y1="119.4" x2="595.2" y2="119.4" stroke="#E8968E" stroke-width="2.4" stroke-linecap="butt"/>
<text x="550.1" y="124" font-size="11.3" text-anchor="start">H<tspan font-size="7.6" dy="2.6">2</tspan></text>
<text x="597.2" y="124" font-size="11.3" text-anchor="start">25% N<tspan font-size="7.6" dy="2.6">2</tspan><tspan dy="-2.6"> 75% H</tspan><tspan font-size="7.6" dy="2.6">2</tspan></text>
<line x1="520.9" y1="277.5" x2="548.2" y2="277.5" stroke="#1262AA" stroke-width="2.4" stroke-linecap="butt"/>
<line x1="568.1" y1="277.5" x2="595.4" y2="277.5" stroke="#79ACE0" stroke-width="2.4" stroke-linecap="butt"/>
<text x="550.4" y="282.1" font-size="11.3" text-anchor="start">H<tspan font-size="7.6" dy="2.6">2</tspan></text>
<text x="597.4" y="282.1" font-size="11.3" text-anchor="start">25% N<tspan font-size="7.6" dy="2.6">2</tspan><tspan dy="-2.6"> 75% H</tspan><tspan font-size="7.6" dy="2.6">2</tspan></text>
<text transform="translate(53.6,56.4) rotate(-90)" font-size="17" text-anchor="middle"><tspan font-style="italic">U</tspan><tspan font-style="italic" font-size="12" dy="4">cell</tspan><tspan dy="-4"> (kV)</tspan></text>
<text transform="translate(398,56.4) rotate(-90)" font-size="17" text-anchor="middle"><tspan font-style="italic">U</tspan><tspan font-style="italic" font-size="12" dy="4">cell</tspan><tspan dy="-4"> (kV)</tspan></text>
<text transform="translate(23.7,185) rotate(-90)" font-size="16.5" text-anchor="middle"><tspan font-style="italic">n</tspan><tspan font-size="11.5" dy="3.5">N</tspan><tspan dy="-3.5"> (cm</tspan><tspan font-size="12" dy="-6.5">-3</tspan><tspan dy="6.5">)</tspan></text>
<text transform="translate(23.7,342) rotate(-90)" font-size="16.5" text-anchor="middle"><tspan font-style="italic">n</tspan><tspan font-size="11.5" dy="3.5">N</tspan><tspan dy="-3.5"> (cm</tspan><tspan font-size="12" dy="-6.5">-3</tspan><tspan dy="6.5">)</tspan></text>
<text transform="translate(367.1,185) rotate(-90)" font-size="16.5" text-anchor="middle"><tspan font-style="italic">n</tspan><tspan font-size="11.5" dy="3.5">H</tspan><tspan dy="-3.5"> (cm</tspan><tspan font-size="12" dy="-6.5">-3</tspan><tspan dy="6.5">)</tspan></text>
<text transform="translate(367.1,342) rotate(-90)" font-size="16.5" text-anchor="middle"><tspan font-style="italic">n</tspan><tspan font-size="11.5" dy="3.5">H</tspan><tspan dy="-3.5"> (cm</tspan><tspan font-size="12" dy="-6.5">-3</tspan><tspan dy="6.5">)</tspan></text>
<text x="0" y="7.3" font-size="10.3" text-anchor="start">a)<tspan font-style="italic">n</tspan><tspan font-size="7.5">N</tspan>(<tspan font-style="italic">t</tspan>)</text>
<text x="347.8" y="9.1" font-size="10.3" text-anchor="start">b)<tspan font-style="italic">n</tspan><tspan font-size="7.5">H</tspan>(<tspan font-style="italic">t</tspan>)</text>
<text x="0" y="481.7" font-size="10.3" text-anchor="start">c)time-averaged <tspan font-style="italic">n</tspan><tspan font-size="7.5">N</tspan></text>
<text x="347.8" y="481.7" font-size="10.3" text-anchor="start">d)time-averaged <tspan font-style="italic">n</tspan><tspan font-size="7.5">H</tspan></text>
<rect x="95.75" y="676.45" width="52.8" height="3.75" fill="#BED7F0" stroke="#A6C8EC" stroke-width="1.3"/>
<text x="95.3" y="673.3" font-size="13.5" text-anchor="start">7.1×10<tspan font-size="9" dy="-5.4">13</tspan></text>
<rect x="149.85" y="560.45" width="49.6" height="119.75" fill="#7BB0D6" stroke="#5B9BCF" stroke-width="1.3"/>
<text x="149.3" y="556.8" font-size="13.5" text-anchor="start">2.3×10<tspan font-size="9" dy="-5.4">15</tspan></text>
<rect x="224.05" y="533.25" width="47.8" height="146.95" fill="#F2CECA" stroke="#EFB3AD" stroke-width="1.3"/>
<text x="220.3" y="530.4" font-size="13.5" text-anchor="start">2.8×10<tspan font-size="9" dy="-5.4">15</tspan></text>
<rect x="273.15" y="522.95" width="49.5" height="157.25" fill="#C17D7D" stroke="#AF4F53" stroke-width="1.3"/>
<text x="274.5" y="520" font-size="13.5" text-anchor="start">3.0×10<tspan font-size="9" dy="-5.4">15</tspan></text>
<line x1="88.2" y1="502" x2="334.6" y2="502" stroke="#1a1a1a" stroke-width="1.2"/>
<line x1="88.2" y1="501.4" x2="88.2" y2="724.1" stroke="#1a1a1a" stroke-width="1.2"/>
<line x1="334.6" y1="501.4" x2="334.6" y2="724.1" stroke="#1a1a1a" stroke-width="1.2"/>
<line x1="211.4" y1="502" x2="211.4" y2="723.5" stroke="#1a1a1a" stroke-width="1.2"/>
<line x1="88.2" y1="680.2" x2="334.6" y2="680.2" stroke="#1a1a1a" stroke-width="1.2"/>
<line x1="88.2" y1="701.9" x2="334.6" y2="701.9" stroke="#1a1a1a" stroke-width="1.2"/>
<line x1="88.2" y1="723.5" x2="334.6" y2="723.5" stroke="#1a1a1a" stroke-width="1.2"/>
<line x1="149.8" y1="680.2" x2="149.8" y2="701.9" stroke="#1a1a1a" stroke-width="1.2"/>
<line x1="273" y1="680.2" x2="273" y2="701.9" stroke="#1a1a1a" stroke-width="1.2"/>
<text x="119" y="694.7" font-size="10" text-anchor="middle">mixture</text>
<text x="180.6" y="694.7" font-size="10" text-anchor="middle">N₂</text>
<text x="242.2" y="694.7" font-size="10" text-anchor="middle">mixture</text>
<text x="303.8" y="694.7" font-size="10" text-anchor="middle">N₂</text>
<text x="149.8" y="716.9" font-size="13" text-anchor="middle">DBD</text>
<text x="273" y="716.9" font-size="13" text-anchor="middle">FBD</text>
<line x1="85.2" y1="680.2" x2="88.2" y2="680.2" stroke="#1a1a1a" stroke-width="1.1"/>
<text x="84.8" y="685.1" font-size="13.5" text-anchor="end">0</text>
<line x1="85.2" y1="627.8" x2="88.2" y2="627.8" stroke="#1a1a1a" stroke-width="1.1"/>
<text x="84.8" y="632.7" font-size="13.5" text-anchor="end">1x10<tspan font-size="9" dy="-5.2">15</tspan></text>
<line x1="85.2" y1="575.4" x2="88.2" y2="575.4" stroke="#1a1a1a" stroke-width="1.1"/>
<text x="84.8" y="580.3" font-size="13.5" text-anchor="end">2x10<tspan font-size="9" dy="-5.2">15</tspan></text>
<line x1="85.2" y1="523" x2="88.2" y2="523" stroke="#1a1a1a" stroke-width="1.1"/>
<text x="84.8" y="527.9" font-size="13.5" text-anchor="end">3x10<tspan font-size="9" dy="-5.2">15</tspan></text>
<line x1="86.2" y1="654" x2="88.2" y2="654" stroke="#1a1a1a" stroke-width="1"/>
<line x1="86.2" y1="601.6" x2="88.2" y2="601.6" stroke="#1a1a1a" stroke-width="1"/>
<line x1="86.2" y1="549.2" x2="88.2" y2="549.2" stroke="#1a1a1a" stroke-width="1"/>
<text transform="translate(38.6,591) rotate(-90)" font-size="13.5" text-anchor="middle">Time-averaged <tspan font-style="italic">n</tspan><tspan font-size="9" dy="3">N</tspan><tspan dy="-3"> (cm</tspan><tspan font-size="9" dy="-5">-3</tspan><tspan dy="5">)</tspan></text>
<rect x="439.85" y="600.45" width="53.1" height="79.85" fill="#BED7F0" stroke="#A6C8EC" stroke-width="1.3"/>
<text x="439" y="597.3" font-size="13.5" text-anchor="start">3.8×10<tspan font-size="9" dy="-5.4">16</tspan></text>
<rect x="494.25" y="675.95" width="49.3" height="4.35" fill="#7BB0D6" stroke="#5B9BCF" stroke-width="1.3"/>
<text x="493.5" y="672.7" font-size="13.5" text-anchor="start">2.2×10<tspan font-size="9" dy="-5.4">15</tspan></text>
<rect x="567.65" y="525.95" width="49" height="154.35" fill="#F2CECA" stroke="#EFB3AD" stroke-width="1.3"/>
<text x="567.1" y="522.3" font-size="13.5" text-anchor="start">7.4×10<tspan font-size="9" dy="-5.4">16</tspan></text>
<rect x="617.95" y="608.25" width="48.7" height="72.05" fill="#C17D7D" stroke="#AF4F53" stroke-width="1.3"/>
<text x="617.5" y="604.5" font-size="13.5" text-anchor="start">3.5×10<tspan font-size="9" dy="-5.4">16</tspan></text>
<line x1="432.5" y1="502" x2="678.5" y2="502" stroke="#1a1a1a" stroke-width="1.2"/>
<line x1="432.5" y1="501.4" x2="432.5" y2="724.1" stroke="#1a1a1a" stroke-width="1.2"/>
<line x1="678.5" y1="501.4" x2="678.5" y2="724.1" stroke="#1a1a1a" stroke-width="1.2"/>
<line x1="555.5" y1="502" x2="555.5" y2="723.5" stroke="#1a1a1a" stroke-width="1.2"/>
<line x1="432.5" y1="680.3" x2="678.5" y2="680.3" stroke="#1a1a1a" stroke-width="1.2"/>
<line x1="432.5" y1="701.9" x2="678.5" y2="701.9" stroke="#1a1a1a" stroke-width="1.2"/>
<line x1="432.5" y1="723.5" x2="678.5" y2="723.5" stroke="#1a1a1a" stroke-width="1.2"/>
<line x1="494" y1="680.3" x2="494" y2="701.9" stroke="#1a1a1a" stroke-width="1.2"/>
<line x1="617" y1="680.3" x2="617" y2="701.9" stroke="#1a1a1a" stroke-width="1.2"/>
<text x="463.25" y="694.7" font-size="10" text-anchor="middle">mixture</text>
<text x="524.75" y="694.7" font-size="10" text-anchor="middle">H₂</text>
<text x="586.25" y="694.7" font-size="10" text-anchor="middle">mixture</text>
<text x="647.75" y="694.7" font-size="10" text-anchor="middle">H₂</text>
<text x="494" y="716.9" font-size="13" text-anchor="middle">DBD</text>
<text x="617" y="716.9" font-size="13" text-anchor="middle">FBD</text>
<line x1="429.5" y1="680.3" x2="432.5" y2="680.3" stroke="#1a1a1a" stroke-width="1.1"/>
<text x="429.1" y="685.2" font-size="13.5" text-anchor="end">0.0</text>
<line x1="429.5" y1="638.3" x2="432.5" y2="638.3" stroke="#1a1a1a" stroke-width="1.1"/>
<text x="429.1" y="643.2" font-size="13.5" text-anchor="end">2.0x10<tspan font-size="9" dy="-5.2">16</tspan></text>
<line x1="429.5" y1="596.3" x2="432.5" y2="596.3" stroke="#1a1a1a" stroke-width="1.1"/>
<text x="429.1" y="601.2" font-size="13.5" text-anchor="end">4.0x10<tspan font-size="9" dy="-5.2">16</tspan></text>
<line x1="429.5" y1="554.3" x2="432.5" y2="554.3" stroke="#1a1a1a" stroke-width="1.1"/>
<text x="429.1" y="559.2" font-size="13.5" text-anchor="end">6.0x10<tspan font-size="9" dy="-5.2">16</tspan></text>
<line x1="429.5" y1="512.3" x2="432.5" y2="512.3" stroke="#1a1a1a" stroke-width="1.1"/>
<text x="429.1" y="517.2" font-size="13.5" text-anchor="end">8.0x10<tspan font-size="9" dy="-5.2">16</tspan></text>
<line x1="430.5" y1="659.3" x2="432.5" y2="659.3" stroke="#1a1a1a" stroke-width="1"/>
<line x1="430.5" y1="617.3" x2="432.5" y2="617.3" stroke="#1a1a1a" stroke-width="1"/>
<line x1="430.5" y1="575.3" x2="432.5" y2="575.3" stroke="#1a1a1a" stroke-width="1"/>
<line x1="430.5" y1="533.3" x2="432.5" y2="533.3" stroke="#1a1a1a" stroke-width="1"/>
<text transform="translate(372.3,591) rotate(-90)" font-size="13.5" text-anchor="middle">Time-averaged <tspan font-style="italic">n</tspan><tspan font-size="9" dy="3">H</tspan><tspan dy="-3"> (cm</tspan><tspan font-size="9" dy="-5">-3</tspan><tspan dy="5">)</tspan></text></svg>
</body></html>
